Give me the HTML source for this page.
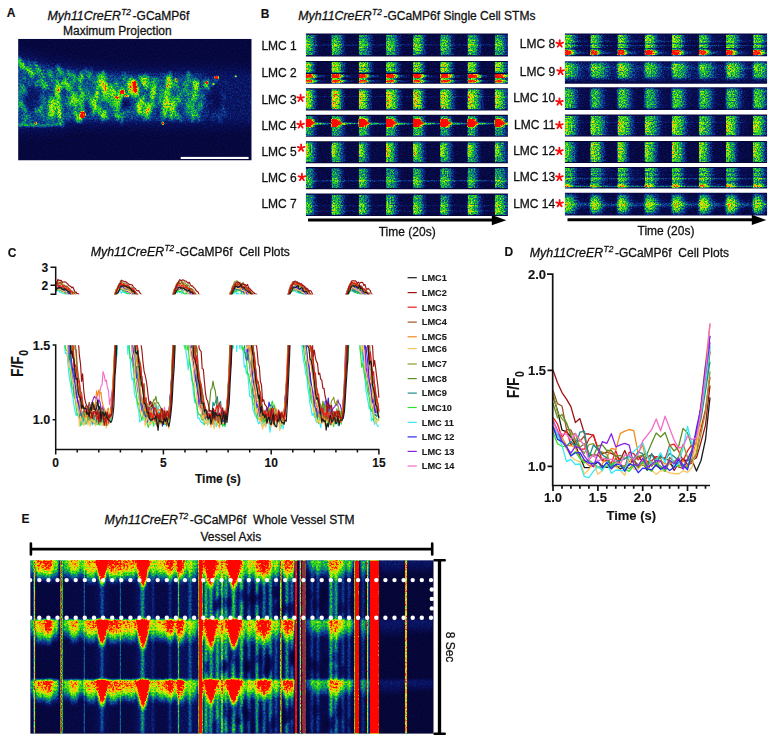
<!DOCTYPE html>
<html><head><meta charset="utf-8"><title>Figure</title>
<style>
html,body{margin:0;padding:0;background:#fff;}
svg{display:block;font-family:"Liberation Sans",sans-serif;}
text{stroke:#111;stroke-width:0.28px;}
text[font-weight="bold"]{stroke-width:0.12px;}
</style></head><body>
<svg width="781" height="751" viewBox="0 0 781 751">
<rect x="0" y="0" width="781" height="751" fill="#ffffff"/>

<defs><filter id="jetA" filterUnits="userSpaceOnUse" x="18" y="38.7" width="233.8" height="121.9" color-interpolation-filters="sRGB"><feTurbulence type="fractalNoise" baseFrequency="0.6" numOctaves="2" seed="7" result="n"/><feColorMatrix in="n" type="matrix" values="1.3 0 0 0 -0.15  1.3 0 0 0 -0.15  1.3 0 0 0 -0.15  0 0 0 0 1" result="ng"/><feComposite in="SourceGraphic" in2="ng" operator="arithmetic" k1="0.7" k2="0.65" k3="0.08" k4="-0.04" result="mix"/><feComponentTransfer in="mix" result="col"><feFuncR type="table" tableValues="0.016 0.022 0.028 0.033 0.038 0.044 0.050 0.053 0.047 0.040 0.059 0.082 0.169 0.326 0.489 0.724 0.927 0.964 1.000 1.000 1.000 1.000 1.000 1.000 1.000"/><feFuncG type="table" tableValues="0.016 0.024 0.033 0.053 0.072 0.125 0.194 0.272 0.375 0.478 0.598 0.721 0.812 0.869 0.922 0.922 0.897 0.743 0.588 0.315 0.062 0.046 0.031 0.015 0.000"/><feFuncB type="table" tableValues="0.157 0.210 0.263 0.319 0.374 0.448 0.529 0.579 0.546 0.514 0.380 0.233 0.133 0.084 0.038 0.017 0.000 0.000 0.000 0.000 0.000 0.000 0.000 0.000 0.000"/><feFuncA type="linear" slope="0" intercept="1"/></feComponentTransfer><feGaussianBlur in="col" stdDeviation="0.4" result="col2"/><feComposite in="col2" in2="SourceAlpha" operator="in"/></filter><filter id="jetB" filterUnits="userSpaceOnUse" x="300" y="30" width="470" height="190" color-interpolation-filters="sRGB"><feTurbulence type="fractalNoise" baseFrequency="0.7" numOctaves="2" seed="11" result="n"/><feColorMatrix in="n" type="matrix" values="1.3 0 0 0 -0.15  1.3 0 0 0 -0.15  1.3 0 0 0 -0.15  0 0 0 0 1" result="ng"/><feComposite in="SourceGraphic" in2="ng" operator="arithmetic" k1="0.7" k2="0.65" k3="0.16" k4="-0.08" result="mix"/><feComponentTransfer in="mix" result="col"><feFuncR type="table" tableValues="0.016 0.022 0.028 0.033 0.038 0.044 0.050 0.053 0.047 0.040 0.059 0.082 0.169 0.326 0.489 0.724 0.927 0.964 1.000 1.000 1.000 1.000 1.000 1.000 1.000"/><feFuncG type="table" tableValues="0.016 0.024 0.033 0.053 0.072 0.125 0.194 0.272 0.375 0.478 0.598 0.721 0.812 0.869 0.922 0.922 0.897 0.743 0.588 0.315 0.062 0.046 0.031 0.015 0.000"/><feFuncB type="table" tableValues="0.157 0.210 0.263 0.319 0.374 0.448 0.529 0.579 0.546 0.514 0.380 0.233 0.133 0.084 0.038 0.017 0.000 0.000 0.000 0.000 0.000 0.000 0.000 0.000 0.000"/><feFuncA type="linear" slope="0" intercept="1"/></feComponentTransfer><feGaussianBlur in="col" stdDeviation="0.45" result="col2"/><feComposite in="col2" in2="SourceAlpha" operator="in"/></filter><filter id="jetE" filterUnits="userSpaceOnUse" x="30.4" y="560.4" width="403.1" height="173.2" color-interpolation-filters="sRGB"><feTurbulence type="fractalNoise" baseFrequency="0.55" numOctaves="2" seed="5" result="n"/><feColorMatrix in="n" type="matrix" values="1.3 0 0 0 -0.15  1.3 0 0 0 -0.15  1.3 0 0 0 -0.15  0 0 0 0 1" result="ng"/><feComposite in="SourceGraphic" in2="ng" operator="arithmetic" k1="0.46" k2="0.77" k3="0.055" k4="-0.0275" result="mix"/><feComponentTransfer in="mix" result="col"><feFuncR type="table" tableValues="0.016 0.022 0.028 0.033 0.038 0.044 0.050 0.053 0.047 0.040 0.059 0.082 0.169 0.326 0.489 0.724 0.927 0.964 1.000 1.000 1.000 1.000 1.000 1.000 1.000"/><feFuncG type="table" tableValues="0.016 0.024 0.033 0.053 0.072 0.125 0.194 0.272 0.375 0.478 0.598 0.721 0.812 0.869 0.922 0.922 0.897 0.743 0.588 0.315 0.062 0.046 0.031 0.015 0.000"/><feFuncB type="table" tableValues="0.157 0.210 0.263 0.319 0.374 0.448 0.529 0.579 0.546 0.514 0.380 0.233 0.133 0.084 0.038 0.017 0.000 0.000 0.000 0.000 0.000 0.000 0.000 0.000 0.000"/><feFuncA type="linear" slope="0" intercept="1"/></feComponentTransfer><feGaussianBlur in="col" stdDeviation="0.45" result="col2"/><feComposite in="col2" in2="SourceAlpha" operator="in"/></filter><filter id="b05" x="-50%" y="-50%" width="200%" height="200%" color-interpolation-filters="sRGB"><feGaussianBlur stdDeviation="0.5"/></filter><filter id="b1" x="-50%" y="-50%" width="200%" height="200%" color-interpolation-filters="sRGB"><feGaussianBlur stdDeviation="1.0"/></filter><filter id="b15" x="-50%" y="-50%" width="200%" height="200%" color-interpolation-filters="sRGB"><feGaussianBlur stdDeviation="1.4"/></filter><filter id="b2" x="-50%" y="-50%" width="200%" height="200%" color-interpolation-filters="sRGB"><feGaussianBlur stdDeviation="2.0"/></filter><filter id="b3" x="-50%" y="-50%" width="200%" height="200%" color-interpolation-filters="sRGB"><feGaussianBlur stdDeviation="3.0"/></filter><filter id="b5" x="-50%" y="-50%" width="200%" height="200%" color-interpolation-filters="sRGB"><feGaussianBlur stdDeviation="5.0"/></filter><filter id="b8" x="-50%" y="-50%" width="200%" height="200%" color-interpolation-filters="sRGB"><feGaussianBlur stdDeviation="8.0"/></filter><linearGradient id="dec" x1="0" y1="0" x2="1" y2="0"><stop offset="0" stop-color="#fff" stop-opacity="0.0"/><stop offset="0.07" stop-color="#fff" stop-opacity="1"/><stop offset="0.50" stop-color="#fff" stop-opacity="0.88"/><stop offset="0.72" stop-color="#fff" stop-opacity="0.45"/><stop offset="1" stop-color="#fff" stop-opacity="0"/></linearGradient><linearGradient id="decv" x1="0" y1="0" x2="0" y2="1"><stop offset="0" stop-color="#fff" stop-opacity="0.0"/><stop offset="0.06" stop-color="#fff" stop-opacity="1"/><stop offset="0.45" stop-color="#fff" stop-opacity="0.85"/><stop offset="0.75" stop-color="#fff" stop-opacity="0.40"/><stop offset="1" stop-color="#fff" stop-opacity="0"/></linearGradient><linearGradient id="hotv" x1="0" y1="0" x2="0" y2="1"><stop offset="0" stop-color="#fff" stop-opacity="0.0"/><stop offset="0.05" stop-color="#fff" stop-opacity="1"/><stop offset="0.72" stop-color="#fff" stop-opacity="1"/><stop offset="1" stop-color="#fff" stop-opacity="0.35"/></linearGradient></defs>
<text x="6.7" y="17.2" font-size="12" font-weight="bold" font-style="normal" text-anchor="start" fill="#111" >A</text>
<text x="47.5" y="20" font-size="12" font-weight="normal" font-style="italic" text-anchor="start" fill="#111" textLength="73.4" lengthAdjust="spacingAndGlyphs">Myh11CreER</text><text x="121.3" y="15.2" font-size="8.3" font-weight="normal" font-style="italic" text-anchor="start" fill="#111" >T2</text><text x="132.6" y="20" font-size="12" font-weight="normal" font-style="normal" text-anchor="start" fill="#111" >-GCaMP6f</text>
<text x="63" y="34.5" font-size="12" font-weight="normal" font-style="normal" text-anchor="start" fill="#111" >Maximum Projection</text>
<clipPath id="aclip"><rect x="18.1" y="38.8" width="233.6" height="121.7"/></clipPath><g clip-path="url(#aclip)"><g filter="url(#jetA)"><rect x="18.1" y="38.8" width="233.6" height="121.7" fill="#121212"/><g filter="url(#b5)"><polygon points="10.0,45.8 22.6,49.3 35.2,52.8 47.8,56.4 60.4,58.5 73.0,60.3 85.6,62.0 98.2,62.7 110.8,63.4 123.4,64.1 136.0,64.8 148.6,64.9 161.2,64.6 173.8,64.4 186.4,64.2 199.0,64.0 211.6,64.4 224.2,64.9 236.8,65.4 249.4,65.9 262.0,66.0 262.0,129.0 249.4,129.1 236.8,129.3 224.2,129.5 211.6,129.8 199.0,130.0 186.4,130.0 173.8,130.0 161.2,130.0 148.6,130.0 136.0,130.0 123.4,130.0 110.8,130.0 98.2,130.0 85.6,130.0 73.0,130.0 60.4,133.8 47.8,134.3 35.2,134.6 22.6,134.9 10.0,135.2" fill="#fff" opacity="0.065"/></g><g filter="url(#b3)"><polygon points="10.0,52.8 22.6,56.3 35.2,59.8 47.8,63.4 60.4,65.5 73.0,67.3 85.6,69.0 98.2,69.7 110.8,70.4 123.4,71.1 136.0,71.8 148.6,71.9 161.2,71.6 173.8,71.4 186.4,71.2 199.0,71.0 211.6,71.4 224.2,71.9 236.8,72.4 249.4,72.9 262.0,73.0 262.0,122.0 249.4,122.0 236.8,122.3 224.2,122.5 211.6,122.8 199.0,123.0 186.4,123.0 173.8,123.0 161.2,123.0 148.6,123.0 136.0,123.0 123.4,123.0 110.8,123.0 98.2,123.0 85.6,123.0 73.0,123.0 60.4,126.8 47.8,127.3 35.2,127.6 22.6,127.9 10.0,128.2" fill="#fff" opacity="0.055"/><polygon points="10.0,55.8 19.6,58.5 29.3,61.2 39.0,63.9 48.6,66.6 58.2,68.2 67.9,69.6 77.5,70.9 87.2,72.1 96.8,72.6 106.5,73.2 116.2,73.7 125.8,74.2 135.4,74.8 145.1,74.9 154.8,74.8 164.4,74.6 174.1,74.4 183.7,74.3 193.3,74.1 203.0,74.1 203.0,119.9 193.3,120.0 183.7,120.0 174.1,120.0 164.4,120.0 154.8,120.0 145.1,120.0 135.4,120.0 125.8,120.0 116.2,120.0 106.5,120.0 96.8,120.0 87.2,120.0 77.5,120.0 67.9,120.8 58.2,124.0 48.6,124.3 39.0,124.5 29.3,124.7 19.6,125.0 10.0,125.2" fill="#fff" opacity="0.13"/><polygon points="40.0,67.2 47.9,69.4 55.8,70.8 63.7,72.0 71.6,73.1 79.5,74.2 87.4,75.1 95.3,75.6 103.2,76.0 111.1,76.4 119.0,76.9 126.9,77.3 134.8,77.7 142.7,78.0 150.6,77.8 158.5,77.7 166.4,77.6 174.3,77.4 182.2,77.3 190.1,77.2 198.0,77.0 198.0,117.0 190.1,117.0 182.2,117.0 174.3,117.0 166.4,117.0 158.5,117.0 150.6,117.0 142.7,117.0 134.8,117.0 126.9,117.0 119.0,117.0 111.1,117.0 103.2,117.0 95.3,117.0 87.4,117.0 79.5,117.0 71.6,117.0 63.7,119.5 55.8,121.1 47.9,121.3 40.0,121.5" fill="#fff" opacity="0.04"/></g><g filter="url(#b1)"><ellipse cx="148.8" cy="108.3" rx="2.3" ry="6.7" transform="rotate(20 148.8 108.3)" fill="#fff" opacity="0.23"/><ellipse cx="24.1" cy="90.0" rx="2.0" ry="7.5" transform="rotate(-28 24.1 90.0)" fill="#fff" opacity="0.25"/><ellipse cx="116.5" cy="85.1" rx="1.9" ry="3.1" transform="rotate(-22 116.5 85.1)" fill="#fff" opacity="0.19"/><ellipse cx="76.7" cy="115.9" rx="1.4" ry="7.0" transform="rotate(-27 76.7 115.9)" fill="#fff" opacity="0.22"/><ellipse cx="147.7" cy="80.6" rx="2.2" ry="4.0" transform="rotate(-22 147.7 80.6)" fill="#fff" opacity="0.10"/><ellipse cx="224.3" cy="113.8" rx="2.4" ry="5.7" transform="rotate(6 224.3 113.8)" fill="#fff" opacity="0.05"/><ellipse cx="61.0" cy="120.4" rx="2.4" ry="7.5" transform="rotate(-17 61.0 120.4)" fill="#fff" opacity="0.21"/><ellipse cx="93.8" cy="80.4" rx="1.3" ry="4.5" transform="rotate(1 93.8 80.4)" fill="#fff" opacity="0.12"/><ellipse cx="18.7" cy="103.5" rx="1.6" ry="7.1" transform="rotate(-6 18.7 103.5)" fill="#fff" opacity="0.15"/><ellipse cx="84.3" cy="95.0" rx="1.3" ry="7.9" transform="rotate(-34 84.3 95.0)" fill="#fff" opacity="0.21"/><ellipse cx="175.5" cy="112.9" rx="2.1" ry="4.8" transform="rotate(-0 175.5 112.9)" fill="#fff" opacity="0.10"/><ellipse cx="19.9" cy="61.6" rx="2.3" ry="4.0" transform="rotate(10 19.9 61.6)" fill="#fff" opacity="0.13"/><ellipse cx="213.2" cy="117.1" rx="1.6" ry="5.6" transform="rotate(12 213.2 117.1)" fill="#fff" opacity="0.10"/><ellipse cx="40.7" cy="109.3" rx="2.2" ry="3.2" transform="rotate(22 40.7 109.3)" fill="#fff" opacity="0.23"/><ellipse cx="37.1" cy="84.2" rx="2.3" ry="4.7" transform="rotate(20 37.1 84.2)" fill="#fff" opacity="0.20"/><ellipse cx="132.5" cy="88.8" rx="1.4" ry="3.4" transform="rotate(-26 132.5 88.8)" fill="#fff" opacity="0.15"/><ellipse cx="162.7" cy="119.9" rx="1.3" ry="7.9" transform="rotate(-3 162.7 119.9)" fill="#fff" opacity="0.13"/><ellipse cx="103.2" cy="84.2" rx="2.2" ry="5.3" transform="rotate(-10 103.2 84.2)" fill="#fff" opacity="0.20"/><ellipse cx="29.7" cy="119.4" rx="1.8" ry="7.2" transform="rotate(-27 29.7 119.4)" fill="#fff" opacity="0.11"/><ellipse cx="171.6" cy="117.7" rx="2.1" ry="3.5" transform="rotate(-9 171.6 117.7)" fill="#fff" opacity="0.20"/><ellipse cx="49.3" cy="115.3" rx="1.7" ry="8.0" transform="rotate(16 49.3 115.3)" fill="#fff" opacity="0.15"/><ellipse cx="223.0" cy="95.1" rx="2.1" ry="5.4" transform="rotate(-18 223.0 95.1)" fill="#fff" opacity="0.07"/><ellipse cx="102.8" cy="79.9" rx="2.4" ry="7.8" transform="rotate(3 102.8 79.9)" fill="#fff" opacity="0.16"/><ellipse cx="122.9" cy="89.6" rx="1.5" ry="6.9" transform="rotate(17 122.9 89.6)" fill="#fff" opacity="0.11"/><ellipse cx="93.9" cy="109.8" rx="2.0" ry="6.3" transform="rotate(11 93.9 109.8)" fill="#fff" opacity="0.22"/><ellipse cx="94.3" cy="106.0" rx="1.8" ry="6.8" transform="rotate(6 94.3 106.0)" fill="#fff" opacity="0.14"/><ellipse cx="79.7" cy="117.3" rx="1.9" ry="3.1" transform="rotate(-2 79.7 117.3)" fill="#fff" opacity="0.20"/><ellipse cx="70.6" cy="103.6" rx="2.2" ry="6.2" transform="rotate(13 70.6 103.6)" fill="#fff" opacity="0.17"/><ellipse cx="91.1" cy="103.0" rx="2.2" ry="4.8" transform="rotate(16 91.1 103.0)" fill="#fff" opacity="0.22"/><ellipse cx="200.7" cy="105.7" rx="2.3" ry="5.6" transform="rotate(-3 200.7 105.7)" fill="#fff" opacity="0.24"/><ellipse cx="52.9" cy="114.9" rx="1.8" ry="6.5" transform="rotate(8 52.9 114.9)" fill="#fff" opacity="0.25"/><ellipse cx="171.4" cy="82.3" rx="1.9" ry="6.3" transform="rotate(-10 171.4 82.3)" fill="#fff" opacity="0.22"/><ellipse cx="149.0" cy="109.8" rx="2.1" ry="3.1" transform="rotate(-25 149.0 109.8)" fill="#fff" opacity="0.20"/><ellipse cx="110.6" cy="103.7" rx="2.0" ry="6.2" transform="rotate(-32 110.6 103.7)" fill="#fff" opacity="0.14"/><ellipse cx="117.0" cy="84.2" rx="1.4" ry="4.6" transform="rotate(-24 117.0 84.2)" fill="#fff" opacity="0.11"/><ellipse cx="58.6" cy="70.2" rx="1.7" ry="6.1" transform="rotate(0 58.6 70.2)" fill="#fff" opacity="0.17"/><ellipse cx="67.9" cy="115.9" rx="1.7" ry="4.4" transform="rotate(-10 67.9 115.9)" fill="#fff" opacity="0.10"/><ellipse cx="42.2" cy="114.4" rx="1.2" ry="6.1" transform="rotate(-29 42.2 114.4)" fill="#fff" opacity="0.16"/><ellipse cx="132.5" cy="90.0" rx="2.3" ry="7.1" transform="rotate(-10 132.5 90.0)" fill="#fff" opacity="0.19"/><ellipse cx="188.7" cy="103.6" rx="1.4" ry="6.0" transform="rotate(-1 188.7 103.6)" fill="#fff" opacity="0.16"/><ellipse cx="219.0" cy="118.2" rx="1.6" ry="7.5" transform="rotate(-35 219.0 118.2)" fill="#fff" opacity="0.09"/><ellipse cx="40.7" cy="98.4" rx="1.4" ry="6.1" transform="rotate(18 40.7 98.4)" fill="#fff" opacity="0.20"/><ellipse cx="96.9" cy="93.1" rx="1.5" ry="7.9" transform="rotate(-12 96.9 93.1)" fill="#fff" opacity="0.14"/><ellipse cx="219.8" cy="115.7" rx="1.5" ry="7.9" transform="rotate(-5 219.8 115.7)" fill="#fff" opacity="0.09"/><ellipse cx="105.3" cy="88.1" rx="1.8" ry="4.4" transform="rotate(-6 105.3 88.1)" fill="#fff" opacity="0.26"/><ellipse cx="43.6" cy="102.0" rx="1.6" ry="6.9" transform="rotate(15 43.6 102.0)" fill="#fff" opacity="0.17"/><ellipse cx="20.8" cy="94.0" rx="2.3" ry="6.9" transform="rotate(-20 20.8 94.0)" fill="#fff" opacity="0.14"/><ellipse cx="74.2" cy="78.1" rx="1.6" ry="6.0" transform="rotate(-7 74.2 78.1)" fill="#fff" opacity="0.26"/><ellipse cx="153.4" cy="102.1" rx="1.3" ry="6.8" transform="rotate(-17 153.4 102.1)" fill="#fff" opacity="0.22"/><ellipse cx="130.0" cy="89.8" rx="1.8" ry="5.3" transform="rotate(-13 130.0 89.8)" fill="#fff" opacity="0.15"/><ellipse cx="174.5" cy="101.4" rx="1.5" ry="5.3" transform="rotate(20 174.5 101.4)" fill="#fff" opacity="0.11"/><ellipse cx="204.5" cy="99.1" rx="2.1" ry="5.1" transform="rotate(-0 204.5 99.1)" fill="#fff" opacity="0.09"/><ellipse cx="166.7" cy="103.3" rx="2.3" ry="4.9" transform="rotate(-11 166.7 103.3)" fill="#fff" opacity="0.18"/><ellipse cx="196.9" cy="83.1" rx="2.2" ry="3.3" transform="rotate(15 196.9 83.1)" fill="#fff" opacity="0.15"/><ellipse cx="163.9" cy="94.3" rx="2.1" ry="7.6" transform="rotate(-26 163.9 94.3)" fill="#fff" opacity="0.15"/><ellipse cx="118.5" cy="99.2" rx="1.6" ry="3.8" transform="rotate(0 118.5 99.2)" fill="#fff" opacity="0.18"/><ellipse cx="188.5" cy="77.3" rx="2.2" ry="7.0" transform="rotate(5 188.5 77.3)" fill="#fff" opacity="0.14"/><ellipse cx="23.4" cy="106.7" rx="2.4" ry="6.5" transform="rotate(-32 23.4 106.7)" fill="#fff" opacity="0.26"/><ellipse cx="194.8" cy="84.2" rx="2.3" ry="6.6" transform="rotate(-27 194.8 84.2)" fill="#fff" opacity="0.20"/><ellipse cx="79.4" cy="116.0" rx="1.9" ry="5.1" transform="rotate(-25 79.4 116.0)" fill="#fff" opacity="0.12"/><ellipse cx="148.7" cy="76.8" rx="1.7" ry="3.4" transform="rotate(-32 148.7 76.8)" fill="#fff" opacity="0.12"/><ellipse cx="138.8" cy="108.4" rx="1.4" ry="5.2" transform="rotate(-16 138.8 108.4)" fill="#fff" opacity="0.24"/><ellipse cx="144.0" cy="97.0" rx="1.6" ry="3.3" transform="rotate(7 144.0 97.0)" fill="#fff" opacity="0.25"/><ellipse cx="49.7" cy="103.1" rx="2.3" ry="5.8" transform="rotate(2 49.7 103.1)" fill="#fff" opacity="0.18"/><ellipse cx="73.3" cy="97.7" rx="2.1" ry="5.6" transform="rotate(-27 73.3 97.7)" fill="#fff" opacity="0.14"/><ellipse cx="67.2" cy="88.6" rx="1.4" ry="6.6" transform="rotate(4 67.2 88.6)" fill="#fff" opacity="0.22"/><ellipse cx="35.9" cy="104.1" rx="1.3" ry="6.0" transform="rotate(-21 35.9 104.1)" fill="#fff" opacity="0.11"/><ellipse cx="202.2" cy="96.1" rx="2.2" ry="3.1" transform="rotate(9 202.2 96.1)" fill="#fff" opacity="0.14"/><ellipse cx="29.3" cy="70.8" rx="2.0" ry="4.1" transform="rotate(-28 29.3 70.8)" fill="#fff" opacity="0.25"/><ellipse cx="222.3" cy="104.6" rx="1.4" ry="6.1" transform="rotate(-14 222.3 104.6)" fill="#fff" opacity="0.09"/><ellipse cx="67.4" cy="86.7" rx="1.6" ry="4.9" transform="rotate(-27 67.4 86.7)" fill="#fff" opacity="0.20"/><ellipse cx="192.5" cy="103.8" rx="1.7" ry="7.3" transform="rotate(-4 192.5 103.8)" fill="#fff" opacity="0.23"/><ellipse cx="142.5" cy="100.8" rx="1.7" ry="3.5" transform="rotate(-33 142.5 100.8)" fill="#fff" opacity="0.22"/><ellipse cx="60.5" cy="70.7" rx="1.8" ry="6.8" transform="rotate(-35 60.5 70.7)" fill="#fff" opacity="0.24"/><ellipse cx="116.7" cy="114.9" rx="1.7" ry="5.3" transform="rotate(-29 116.7 114.9)" fill="#fff" opacity="0.20"/><ellipse cx="50.5" cy="76.2" rx="1.7" ry="7.4" transform="rotate(-26 50.5 76.2)" fill="#fff" opacity="0.16"/><ellipse cx="71.4" cy="83.9" rx="1.5" ry="4.2" transform="rotate(-6 71.4 83.9)" fill="#fff" opacity="0.13"/><ellipse cx="24.7" cy="119.9" rx="2.3" ry="6.4" transform="rotate(5 24.7 119.9)" fill="#fff" opacity="0.16"/><ellipse cx="117.1" cy="117.5" rx="2.0" ry="4.5" transform="rotate(5 117.1 117.5)" fill="#fff" opacity="0.12"/><ellipse cx="171.2" cy="81.9" rx="1.2" ry="4.2" transform="rotate(-30 171.2 81.9)" fill="#fff" opacity="0.13"/><ellipse cx="102.2" cy="118.8" rx="1.6" ry="5.3" transform="rotate(-18 102.2 118.8)" fill="#fff" opacity="0.16"/><ellipse cx="171.8" cy="107.2" rx="1.5" ry="6.4" transform="rotate(21 171.8 107.2)" fill="#fff" opacity="0.13"/><ellipse cx="153.6" cy="94.2" rx="1.2" ry="3.3" transform="rotate(12 153.6 94.2)" fill="#fff" opacity="0.26"/><ellipse cx="104.1" cy="75.2" rx="2.4" ry="5.6" transform="rotate(-14 104.1 75.2)" fill="#fff" opacity="0.19"/><ellipse cx="37.7" cy="67.9" rx="1.8" ry="7.7" transform="rotate(-32 37.7 67.9)" fill="#fff" opacity="0.24"/><ellipse cx="69.1" cy="72.3" rx="1.3" ry="4.3" transform="rotate(-11 69.1 72.3)" fill="#fff" opacity="0.16"/><ellipse cx="82.2" cy="74.1" rx="2.4" ry="3.9" transform="rotate(-4 82.2 74.1)" fill="#fff" opacity="0.11"/><ellipse cx="102.5" cy="98.0" rx="1.6" ry="3.5" transform="rotate(-2 102.5 98.0)" fill="#fff" opacity="0.11"/><ellipse cx="211.5" cy="101.6" rx="1.5" ry="3.1" transform="rotate(-3 211.5 101.6)" fill="#fff" opacity="0.16"/><ellipse cx="120.2" cy="100.3" rx="2.0" ry="6.6" transform="rotate(20 120.2 100.3)" fill="#fff" opacity="0.16"/><ellipse cx="82.6" cy="93.4" rx="1.5" ry="3.6" transform="rotate(-16 82.6 93.4)" fill="#fff" opacity="0.23"/><ellipse cx="36.4" cy="110.6" rx="1.6" ry="3.6" transform="rotate(-30 36.4 110.6)" fill="#fff" opacity="0.23"/><ellipse cx="69.4" cy="74.0" rx="1.9" ry="4.2" transform="rotate(-31 69.4 74.0)" fill="#fff" opacity="0.17"/><ellipse cx="165.1" cy="76.8" rx="1.5" ry="4.9" transform="rotate(-29 165.1 76.8)" fill="#fff" opacity="0.13"/><ellipse cx="106.3" cy="87.9" rx="1.9" ry="7.5" transform="rotate(4 106.3 87.9)" fill="#fff" opacity="0.22"/><ellipse cx="177.5" cy="100.6" rx="2.2" ry="6.3" transform="rotate(22 177.5 100.6)" fill="#fff" opacity="0.17"/><ellipse cx="170.9" cy="106.4" rx="2.2" ry="4.9" transform="rotate(-27 170.9 106.4)" fill="#fff" opacity="0.14"/><ellipse cx="31.8" cy="72.5" rx="2.0" ry="4.4" transform="rotate(-31 31.8 72.5)" fill="#fff" opacity="0.14"/><ellipse cx="178.4" cy="99.8" rx="1.3" ry="3.7" transform="rotate(-14 178.4 99.8)" fill="#fff" opacity="0.10"/><ellipse cx="198.6" cy="117.7" rx="1.5" ry="5.1" transform="rotate(-13 198.6 117.7)" fill="#fff" opacity="0.20"/><ellipse cx="87.4" cy="72.7" rx="2.2" ry="6.6" transform="rotate(-29 87.4 72.7)" fill="#fff" opacity="0.19"/><ellipse cx="129.4" cy="82.2" rx="1.7" ry="7.7" transform="rotate(13 129.4 82.2)" fill="#fff" opacity="0.21"/><ellipse cx="42.8" cy="83.8" rx="1.8" ry="5.2" transform="rotate(-9 42.8 83.8)" fill="#fff" opacity="0.25"/><ellipse cx="179.2" cy="117.1" rx="2.4" ry="6.0" transform="rotate(-29 179.2 117.1)" fill="#fff" opacity="0.19"/><ellipse cx="189.0" cy="93.4" rx="2.4" ry="3.2" transform="rotate(-0 189.0 93.4)" fill="#fff" opacity="0.11"/><ellipse cx="119.2" cy="114.5" rx="1.5" ry="4.4" transform="rotate(-23 119.2 114.5)" fill="#fff" opacity="0.16"/><ellipse cx="136.1" cy="90.9" rx="1.5" ry="4.8" transform="rotate(-20 136.1 90.9)" fill="#fff" opacity="0.22"/><ellipse cx="224.3" cy="112.4" rx="1.9" ry="5.0" transform="rotate(-26 224.3 112.4)" fill="#fff" opacity="0.08"/><ellipse cx="192.7" cy="96.6" rx="1.4" ry="3.5" transform="rotate(8 192.7 96.6)" fill="#fff" opacity="0.11"/><ellipse cx="207.0" cy="83.4" rx="1.6" ry="6.4" transform="rotate(17 207.0 83.4)" fill="#fff" opacity="0.18"/><ellipse cx="148.9" cy="111.0" rx="1.2" ry="5.6" transform="rotate(0 148.9 111.0)" fill="#fff" opacity="0.16"/><ellipse cx="56.8" cy="89.8" rx="1.2" ry="4.6" transform="rotate(-12 56.8 89.8)" fill="#fff" opacity="0.15"/><ellipse cx="118.0" cy="106.3" rx="2.4" ry="7.1" transform="rotate(20 118.0 106.3)" fill="#fff" opacity="0.16"/><ellipse cx="163.5" cy="105.0" rx="2.2" ry="4.8" transform="rotate(1 163.5 105.0)" fill="#fff" opacity="0.19"/><ellipse cx="160.7" cy="98.3" rx="1.3" ry="3.4" transform="rotate(-14 160.7 98.3)" fill="#fff" opacity="0.15"/><ellipse cx="139.9" cy="109.2" rx="1.6" ry="7.6" transform="rotate(-19 139.9 109.2)" fill="#fff" opacity="0.21"/><ellipse cx="168.4" cy="77.8" rx="2.0" ry="7.8" transform="rotate(19 168.4 77.8)" fill="#fff" opacity="0.22"/><ellipse cx="162.4" cy="112.7" rx="1.9" ry="4.0" transform="rotate(-4 162.4 112.7)" fill="#fff" opacity="0.22"/><ellipse cx="206.2" cy="85.2" rx="1.9" ry="5.0" transform="rotate(-35 206.2 85.2)" fill="#fff" opacity="0.20"/><ellipse cx="99.9" cy="81.2" rx="2.3" ry="7.6" transform="rotate(2 99.9 81.2)" fill="#fff" opacity="0.20"/><ellipse cx="99.2" cy="77.9" rx="1.9" ry="6.6" transform="rotate(-13 99.2 77.9)" fill="#fff" opacity="0.21"/><ellipse cx="204.2" cy="83.9" rx="1.5" ry="6.1" transform="rotate(19 204.2 83.9)" fill="#fff" opacity="0.13"/><ellipse cx="53.2" cy="103.3" rx="1.5" ry="3.3" transform="rotate(-1 53.2 103.3)" fill="#fff" opacity="0.22"/><ellipse cx="192.4" cy="114.4" rx="1.7" ry="5.1" transform="rotate(-3 192.4 114.4)" fill="#fff" opacity="0.22"/><ellipse cx="208.0" cy="88.1" rx="1.9" ry="7.8" transform="rotate(-24 208.0 88.1)" fill="#fff" opacity="0.11"/><ellipse cx="24.4" cy="67.3" rx="1.9" ry="3.9" transform="rotate(-24 24.4 67.3)" fill="#fff" opacity="0.19"/><ellipse cx="142.8" cy="104.1" rx="2.1" ry="3.3" transform="rotate(-6 142.8 104.1)" fill="#fff" opacity="0.21"/><ellipse cx="193.3" cy="118.0" rx="2.2" ry="6.2" transform="rotate(21 193.3 118.0)" fill="#fff" opacity="0.15"/><ellipse cx="66.1" cy="105.7" rx="1.8" ry="3.5" transform="rotate(-23 66.1 105.7)" fill="#fff" opacity="0.23"/><ellipse cx="50.9" cy="72.4" rx="1.9" ry="3.5" transform="rotate(10 50.9 72.4)" fill="#fff" opacity="0.12"/><ellipse cx="172.6" cy="111.6" rx="2.1" ry="7.6" transform="rotate(22 172.6 111.6)" fill="#fff" opacity="0.23"/><ellipse cx="149.3" cy="118.4" rx="1.3" ry="3.3" transform="rotate(-23 149.3 118.4)" fill="#fff" opacity="0.12"/><ellipse cx="96.6" cy="94.4" rx="2.1" ry="3.4" transform="rotate(-11 96.6 94.4)" fill="#fff" opacity="0.21"/><ellipse cx="132.1" cy="91.6" rx="1.9" ry="4.9" transform="rotate(6 132.1 91.6)" fill="#fff" opacity="0.12"/><ellipse cx="122.1" cy="118.3" rx="1.3" ry="6.8" transform="rotate(8 122.1 118.3)" fill="#fff" opacity="0.25"/><ellipse cx="80.1" cy="77.0" rx="1.6" ry="6.7" transform="rotate(20 80.1 77.0)" fill="#fff" opacity="0.18"/><ellipse cx="98.2" cy="86.5" rx="2.0" ry="6.9" transform="rotate(-0 98.2 86.5)" fill="#fff" opacity="0.18"/><ellipse cx="80.2" cy="87.7" rx="1.8" ry="3.3" transform="rotate(-10 80.2 87.7)" fill="#fff" opacity="0.24"/><ellipse cx="67.9" cy="103.7" rx="1.5" ry="3.5" transform="rotate(-6 67.9 103.7)" fill="#fff" opacity="0.11"/><ellipse cx="224.8" cy="99.1" rx="2.3" ry="3.5" transform="rotate(-14 224.8 99.1)" fill="#fff" opacity="0.05"/><ellipse cx="188.3" cy="74.4" rx="1.6" ry="3.1" transform="rotate(-20 188.3 74.4)" fill="#fff" opacity="0.22"/><ellipse cx="114.2" cy="91.4" rx="1.3" ry="4.1" transform="rotate(23 114.2 91.4)" fill="#fff" opacity="0.18"/><ellipse cx="111.0" cy="95.4" rx="1.5" ry="7.8" transform="rotate(6 111.0 95.4)" fill="#fff" opacity="0.11"/><ellipse cx="124.6" cy="76.6" rx="2.1" ry="5.2" transform="rotate(1 124.6 76.6)" fill="#fff" opacity="0.16"/><ellipse cx="207.5" cy="103.7" rx="1.2" ry="3.1" transform="rotate(11 207.5 103.7)" fill="#fff" opacity="0.15"/><ellipse cx="104.8" cy="114.1" rx="2.3" ry="4.9" transform="rotate(25 104.8 114.1)" fill="#fff" opacity="0.23"/><ellipse cx="176.8" cy="115.1" rx="2.1" ry="5.1" transform="rotate(23 176.8 115.1)" fill="#fff" opacity="0.12"/><ellipse cx="226.8" cy="84.7" rx="1.5" ry="5.3" transform="rotate(-18 226.8 84.7)" fill="#fff" opacity="0.05"/><ellipse cx="158.0" cy="80.3" rx="1.7" ry="3.4" transform="rotate(-12 158.0 80.3)" fill="#fff" opacity="0.13"/><ellipse cx="206.5" cy="114.6" rx="1.2" ry="7.1" transform="rotate(23 206.5 114.6)" fill="#fff" opacity="0.10"/><ellipse cx="143.8" cy="81.1" rx="2.3" ry="7.7" transform="rotate(-33 143.8 81.1)" fill="#fff" opacity="0.14"/><ellipse cx="56.8" cy="92.0" rx="2.1" ry="4.9" transform="rotate(12 56.8 92.0)" fill="#fff" opacity="0.14"/><ellipse cx="49.9" cy="96.7" rx="2.0" ry="3.5" transform="rotate(-28 49.9 96.7)" fill="#fff" opacity="0.26"/><ellipse cx="153.1" cy="91.7" rx="1.8" ry="5.9" transform="rotate(23 153.1 91.7)" fill="#fff" opacity="0.16"/><ellipse cx="68.6" cy="98.6" rx="1.9" ry="6.7" transform="rotate(-27 68.6 98.6)" fill="#fff" opacity="0.14"/><ellipse cx="119.0" cy="106.4" rx="2.1" ry="5.1" transform="rotate(-5 119.0 106.4)" fill="#fff" opacity="0.10"/><ellipse cx="146.2" cy="110.7" rx="1.8" ry="3.2" transform="rotate(-12 146.2 110.7)" fill="#fff" opacity="0.11"/><ellipse cx="90.6" cy="73.3" rx="1.7" ry="6.3" transform="rotate(20 90.6 73.3)" fill="#fff" opacity="0.15"/><ellipse cx="95.8" cy="97.7" rx="2.3" ry="7.7" transform="rotate(24 95.8 97.7)" fill="#fff" opacity="0.21"/><ellipse cx="81.4" cy="79.6" rx="1.3" ry="5.2" transform="rotate(9 81.4 79.6)" fill="#fff" opacity="0.25"/><ellipse cx="129.0" cy="92.1" rx="1.6" ry="5.8" transform="rotate(15 129.0 92.1)" fill="#fff" opacity="0.25"/><ellipse cx="47.0" cy="86.6" rx="1.9" ry="4.0" transform="rotate(-8 47.0 86.6)" fill="#fff" opacity="0.18"/><ellipse cx="30.6" cy="67.1" rx="1.4" ry="7.8" transform="rotate(-19 30.6 67.1)" fill="#fff" opacity="0.15"/><ellipse cx="75.9" cy="109.3" rx="1.5" ry="7.1" transform="rotate(3 75.9 109.3)" fill="#fff" opacity="0.22"/><ellipse cx="99.6" cy="102.5" rx="1.5" ry="7.4" transform="rotate(-9 99.6 102.5)" fill="#fff" opacity="0.14"/><ellipse cx="206.4" cy="82.3" rx="1.3" ry="6.7" transform="rotate(-1 206.4 82.3)" fill="#fff" opacity="0.10"/><ellipse cx="20.0" cy="61.4" rx="1.8" ry="7.4" transform="rotate(-33 20.0 61.4)" fill="#fff" opacity="0.23"/><ellipse cx="141.7" cy="80.3" rx="1.9" ry="6.1" transform="rotate(-22 141.7 80.3)" fill="#fff" opacity="0.22"/><ellipse cx="217.3" cy="79.7" rx="2.0" ry="3.5" transform="rotate(-31 217.3 79.7)" fill="#fff" opacity="0.06"/><ellipse cx="114.7" cy="103.7" rx="2.1" ry="3.3" transform="rotate(4 114.7 103.7)" fill="#fff" opacity="0.24"/><path d="M18,125 L40,125.5 L62,124" stroke="#fff" stroke-width="2.4" fill="none" opacity="0.32"/></g><g filter="url(#b1)"><ellipse cx="22.0" cy="66.0" rx="2.2" ry="3.5" transform="rotate(20 22.0 66.0)" fill="#fff" opacity="0.25"/><ellipse cx="27.0" cy="70.0" rx="2.0" ry="3.0" transform="rotate(0 27.0 70.0)" fill="#fff" opacity="0.20"/><ellipse cx="32.3" cy="74.8" rx="2.2" ry="3.6" transform="rotate(30 32.3 74.8)" fill="#fff" opacity="0.25"/><ellipse cx="37.5" cy="72.0" rx="2.0" ry="3.0" transform="rotate(0 37.5 72.0)" fill="#fff" opacity="0.20"/><ellipse cx="42.0" cy="77.0" rx="2.0" ry="3.2" transform="rotate(20 42.0 77.0)" fill="#fff" opacity="0.20"/><ellipse cx="24.0" cy="78.0" rx="2.0" ry="3.0" transform="rotate(0 24.0 78.0)" fill="#fff" opacity="0.12"/><ellipse cx="30.0" cy="84.0" rx="1.8" ry="3.0" transform="rotate(0 30.0 84.0)" fill="#fff" opacity="0.08"/><ellipse cx="45.0" cy="86.0" rx="1.8" ry="4.0" transform="rotate(10 45.0 86.0)" fill="#fff" opacity="0.10"/><ellipse cx="52.2" cy="107.7" rx="3.6" ry="9.5" transform="rotate(8 52.2 107.7)" fill="#fff" opacity="0.30"/><ellipse cx="58.0" cy="97.0" rx="2.6" ry="19.0" transform="rotate(-3 58.0 97.0)" fill="#fff" opacity="0.32"/><ellipse cx="63.0" cy="84.0" rx="2.4" ry="8.0" transform="rotate(35 63.0 84.0)" fill="#fff" opacity="0.30"/><ellipse cx="60.0" cy="112.0" rx="3.0" ry="7.0" transform="rotate(10 60.0 112.0)" fill="#fff" opacity="0.20"/><ellipse cx="74.7" cy="99.0" rx="3.8" ry="7.5" transform="rotate(0 74.7 99.0)" fill="#fff" opacity="0.25"/><ellipse cx="70.0" cy="88.0" rx="2.4" ry="6.0" transform="rotate(-20 70.0 88.0)" fill="#fff" opacity="0.18"/><ellipse cx="81.7" cy="104.0" rx="3.0" ry="10.0" transform="rotate(-8 81.7 104.0)" fill="#fff" opacity="0.28"/><ellipse cx="79.0" cy="120.0" rx="4.0" ry="3.5" transform="rotate(0 79.0 120.0)" fill="#fff" opacity="0.25"/><ellipse cx="100.7" cy="112.0" rx="3.0" ry="11.0" transform="rotate(-45 100.7 112.0)" fill="#fff" opacity="0.25"/><ellipse cx="93.0" cy="100.0" rx="2.2" ry="8.0" transform="rotate(-40 93.0 100.0)" fill="#fff" opacity="0.12"/><ellipse cx="88.0" cy="92.0" rx="2.0" ry="7.0" transform="rotate(-30 88.0 92.0)" fill="#fff" opacity="0.10"/><ellipse cx="105.0" cy="91.3" rx="3.6" ry="10.5" transform="rotate(-10 105.0 91.3)" fill="#fff" opacity="0.30"/><ellipse cx="112.8" cy="94.0" rx="3.4" ry="10.5" transform="rotate(-15 112.8 94.0)" fill="#fff" opacity="0.28"/><ellipse cx="119.0" cy="98.0" rx="2.4" ry="8.0" transform="rotate(-15 119.0 98.0)" fill="#fff" opacity="0.18"/><ellipse cx="122.0" cy="92.0" rx="4.0" ry="5.0" transform="rotate(0 122.0 92.0)" fill="#fff" opacity="0.25"/><ellipse cx="130.0" cy="84.0" rx="3.0" ry="6.0" transform="rotate(0 130.0 84.0)" fill="#fff" opacity="0.22"/><ellipse cx="135.0" cy="88.0" rx="4.2" ry="9.5" transform="rotate(-8 135.0 88.0)" fill="#fff" opacity="0.36"/><ellipse cx="127.0" cy="108.0" rx="2.5" ry="5.0" transform="rotate(0 127.0 108.0)" fill="#fff" opacity="0.10"/><ellipse cx="139.5" cy="106.0" rx="2.8" ry="9.5" transform="rotate(5 139.5 106.0)" fill="#fff" opacity="0.28"/><ellipse cx="145.6" cy="81.7" rx="3.2" ry="8.5" transform="rotate(-5 145.6 81.7)" fill="#fff" opacity="0.25"/><ellipse cx="146.4" cy="111.2" rx="3.2" ry="9.5" transform="rotate(5 146.4 111.2)" fill="#fff" opacity="0.28"/><ellipse cx="153.4" cy="88.7" rx="3.2" ry="11.0" transform="rotate(5 153.4 88.7)" fill="#fff" opacity="0.25"/><ellipse cx="152.0" cy="104.0" rx="2.2" ry="6.0" transform="rotate(0 152.0 104.0)" fill="#fff" opacity="0.12"/><ellipse cx="160.0" cy="96.0" rx="2.0" ry="9.0" transform="rotate(5 160.0 96.0)" fill="#fff" opacity="0.12"/><ellipse cx="167.2" cy="97.0" rx="3.2" ry="22.0" transform="rotate(6 167.2 97.0)" fill="#fff" opacity="0.32"/><ellipse cx="172.4" cy="104.3" rx="2.6" ry="9.0" transform="rotate(8 172.4 104.3)" fill="#fff" opacity="0.22"/><ellipse cx="176.0" cy="84.0" rx="2.4" ry="6.0" transform="rotate(0 176.0 84.0)" fill="#fff" opacity="0.16"/><ellipse cx="180.0" cy="96.0" rx="2.2" ry="7.0" transform="rotate(0 180.0 96.0)" fill="#fff" opacity="0.12"/><ellipse cx="186.0" cy="88.0" rx="3.0" ry="8.0" transform="rotate(0 186.0 88.0)" fill="#fff" opacity="0.15"/><ellipse cx="188.0" cy="108.0" rx="3.0" ry="8.0" transform="rotate(0 188.0 108.0)" fill="#fff" opacity="0.12"/><ellipse cx="195.8" cy="90.4" rx="3.6" ry="11.5" transform="rotate(3 195.8 90.4)" fill="#fff" opacity="0.26"/><ellipse cx="196.0" cy="112.0" rx="3.0" ry="6.0" transform="rotate(0 196.0 112.0)" fill="#fff" opacity="0.10"/><ellipse cx="204.0" cy="90.0" rx="3.0" ry="6.0" transform="rotate(0 204.0 90.0)" fill="#fff" opacity="0.06"/><ellipse cx="210.0" cy="84.0" rx="3.0" ry="4.0" transform="rotate(0 210.0 84.0)" fill="#fff" opacity="0.10"/><ellipse cx="215.0" cy="80.0" rx="3.5" ry="3.0" transform="rotate(0 215.0 80.0)" fill="#fff" opacity="0.12"/><ellipse cx="207.0" cy="112.0" rx="4.0" ry="5.0" transform="rotate(0 207.0 112.0)" fill="#fff" opacity="0.00"/><ellipse cx="220.0" cy="108.0" rx="4.0" ry="5.0" transform="rotate(0 220.0 108.0)" fill="#fff" opacity="0.00"/></g><g filter="url(#b2)"><ellipse cx="33.0" cy="98.0" rx="9.0" ry="13.0" transform="rotate(10 33.0 98.0)" fill="#000" opacity="0.36"/><ellipse cx="125.8" cy="104.0" rx="4.5" ry="5.5" transform="rotate(0 125.8 104.0)" fill="#000" opacity="0.65"/><ellipse cx="65.5" cy="93.0" rx="2.2" ry="3.5" transform="rotate(0 65.5 93.0)" fill="#000" opacity="0.50"/><ellipse cx="66.0" cy="107.0" rx="2.4" ry="4.0" transform="rotate(0 66.0 107.0)" fill="#000" opacity="0.50"/><ellipse cx="87.0" cy="108.0" rx="3.0" ry="6.0" transform="rotate(-30 87.0 108.0)" fill="#000" opacity="0.40"/><ellipse cx="48.0" cy="95.0" rx="3.0" ry="6.0" transform="rotate(0 48.0 95.0)" fill="#000" opacity="0.35"/><ellipse cx="215.0" cy="100.0" rx="8.0" ry="9.0" transform="rotate(0 215.0 100.0)" fill="#000" opacity="0.25"/><ellipse cx="158.0" cy="112.0" rx="3.0" ry="5.0" transform="rotate(0 158.0 112.0)" fill="#000" opacity="0.35"/><ellipse cx="180.0" cy="112.0" rx="3.0" ry="5.0" transform="rotate(0 180.0 112.0)" fill="#000" opacity="0.30"/></g><g filter="url(#b05)"><ellipse cx="82.5" cy="114.6" rx="3.0" ry="3.4" transform="rotate(0 82.5 114.6)" fill="#fff" opacity="0.95"/><ellipse cx="58.5" cy="90.0" rx="1.2" ry="1.6" transform="rotate(0 58.5 90.0)" fill="#fff" opacity="0.70"/><ellipse cx="35.8" cy="123.3" rx="1.3" ry="1.3" transform="rotate(0 35.8 123.3)" fill="#fff" opacity="0.70"/><ellipse cx="122.3" cy="92.1" rx="2.6" ry="2.2" transform="rotate(0 122.3 92.1)" fill="#fff" opacity="0.95"/><ellipse cx="117.0" cy="97.5" rx="2.0" ry="1.4" transform="rotate(0 117.0 97.5)" fill="#fff" opacity="0.80"/><ellipse cx="126.5" cy="96.0" rx="2.2" ry="1.2" transform="rotate(0 126.5 96.0)" fill="#fff" opacity="0.75"/><ellipse cx="135.0" cy="87.0" rx="2.0" ry="5.8" transform="rotate(-8 135.0 87.0)" fill="#fff" opacity="0.92"/><ellipse cx="134.0" cy="83.0" rx="1.8" ry="2.5" transform="rotate(0 134.0 83.0)" fill="#fff" opacity="0.80"/><ellipse cx="162.9" cy="123.3" rx="1.2" ry="1.8" transform="rotate(0 162.9 123.3)" fill="#fff" opacity="0.75"/><ellipse cx="175.9" cy="80.0" rx="1.2" ry="1.4" transform="rotate(0 175.9 80.0)" fill="#fff" opacity="0.70"/><ellipse cx="168.0" cy="86.0" rx="1.2" ry="2.2" transform="rotate(0 168.0 86.0)" fill="#fff" opacity="0.55"/><ellipse cx="216.6" cy="77.4" rx="2.3" ry="1.6" transform="rotate(0 216.6 77.4)" fill="#fff" opacity="0.95"/><ellipse cx="207.0" cy="82.6" rx="1.6" ry="1.4" transform="rotate(0 207.0 82.6)" fill="#fff" opacity="0.90"/><ellipse cx="235.6" cy="76.5" rx="1.0" ry="1.0" transform="rotate(0 235.6 76.5)" fill="#fff" opacity="0.70"/><ellipse cx="213.5" cy="84.0" rx="1.2" ry="1.2" transform="rotate(0 213.5 84.0)" fill="#fff" opacity="0.60"/></g></g></g><rect x="180.7" y="156.9" width="67.9" height="2.1" fill="#fff"/>
<text x="260.8" y="17.6" font-size="12" font-weight="bold" font-style="normal" text-anchor="start" fill="#111" >B</text>
<text x="298.3" y="19.7" font-size="12" font-weight="normal" font-style="italic" text-anchor="start" fill="#111" textLength="73.4" lengthAdjust="spacingAndGlyphs">Myh11CreER</text><text x="372.1" y="14.899999999999999" font-size="8.3" font-weight="normal" font-style="italic" text-anchor="start" fill="#111" >T2</text><text x="383.4" y="19.7" font-size="12" font-weight="normal" font-style="normal" text-anchor="start" fill="#111" >-GCaMP6f Single Cell STMs</text>
<clipPath id="bclip"><rect x="305.9" y="33.6" width="202.0" height="22.8"/><rect x="305.9" y="61.0" width="202.0" height="22.7"/><rect x="305.9" y="88.2" width="202.0" height="22.4"/><rect x="305.9" y="114.8" width="202.0" height="22.0"/><rect x="305.9" y="141.2" width="202.0" height="22.1"/><rect x="305.9" y="167.1" width="202.0" height="22.2"/><rect x="305.9" y="193.4" width="202.0" height="22.5"/><rect x="564.9" y="33.6" width="202.2" height="22.6"/><rect x="564.9" y="61.3" width="202.2" height="22.4"/><rect x="564.9" y="87.3" width="202.2" height="22.6"/><rect x="564.9" y="114.6" width="202.2" height="22.0"/><rect x="564.9" y="140.9" width="202.2" height="22.2"/><rect x="564.9" y="166.9" width="202.2" height="21.6"/><rect x="564.9" y="192.8" width="202.2" height="22.6"/></clipPath><g clip-path="url(#bclip)"><g filter="url(#jetB)"><g filter="url(#b05)"><rect x="303.9" y="31.6" width="206.0" height="26.8" fill="#171717"/><rect x="305.9" y="44.4" width="202.0" height="1.2" fill="#fff" opacity="0.16"/><rect x="303.9" y="34.5" width="15.5" height="21.0" fill="url(#dec)" opacity="0.38"/><rect x="303.9" y="39.3" width="9.9" height="11.4" fill="url(#dec)" opacity="0.15"/><rect x="331.1" y="34.5" width="15.8" height="21.0" fill="url(#dec)" opacity="0.40"/><rect x="331.1" y="39.3" width="9.2" height="11.4" fill="url(#dec)" opacity="0.16"/><rect x="358.3" y="34.5" width="16.6" height="21.0" fill="url(#dec)" opacity="0.36"/><rect x="358.3" y="39.3" width="9.6" height="11.4" fill="url(#dec)" opacity="0.14"/><rect x="385.5" y="34.5" width="17.2" height="21.0" fill="url(#dec)" opacity="0.38"/><rect x="385.5" y="39.3" width="10.2" height="11.4" fill="url(#dec)" opacity="0.15"/><rect x="412.7" y="34.5" width="15.3" height="21.0" fill="url(#dec)" opacity="0.42"/><rect x="412.7" y="39.3" width="10.6" height="11.4" fill="url(#dec)" opacity="0.17"/><rect x="439.9" y="34.5" width="15.9" height="21.0" fill="url(#dec)" opacity="0.37"/><rect x="439.9" y="39.3" width="11.2" height="11.4" fill="url(#dec)" opacity="0.15"/><rect x="467.1" y="34.5" width="16.3" height="21.0" fill="url(#dec)" opacity="0.40"/><rect x="467.1" y="39.3" width="10.7" height="11.4" fill="url(#dec)" opacity="0.16"/><rect x="494.3" y="34.5" width="16.3" height="21.0" fill="url(#dec)" opacity="0.36"/><rect x="494.3" y="39.3" width="10.5" height="11.4" fill="url(#dec)" opacity="0.15"/><rect x="305.9" y="33.6" width="202.0" height="1.1" fill="#000" opacity="0.55"/><rect x="305.9" y="55.3" width="202.0" height="1.1" fill="#000" opacity="0.55"/><rect x="303.9" y="59.0" width="206.0" height="26.7" fill="#171717"/><rect x="303.9" y="61.7" width="13.6" height="11.1" fill="url(#dec)" opacity="0.48"/><rect x="303.9" y="63.3" width="10.0" height="6.8" fill="url(#dec)" opacity="0.13"/><rect x="303.9" y="73.9" width="14.3" height="4.8" fill="url(#dec)" opacity="0.91"/><rect x="303.9" y="79.2" width="15.1" height="4.3" fill="url(#dec)" opacity="0.81"/><rect x="307.9" y="75.0" width="22" height="2.4" fill="url(#dec)" opacity="0.25"/><rect x="307.9" y="80.0" width="22" height="2.4" fill="url(#dec)" opacity="0.2"/><rect x="331.1" y="61.7" width="16.2" height="11.1" fill="url(#dec)" opacity="0.53"/><rect x="331.1" y="63.3" width="10.2" height="6.8" fill="url(#dec)" opacity="0.15"/><rect x="331.1" y="73.9" width="14.0" height="4.8" fill="url(#dec)" opacity="1.00"/><rect x="331.1" y="79.2" width="15.4" height="4.3" fill="url(#dec)" opacity="0.90"/><rect x="335.1" y="75.0" width="22" height="2.4" fill="url(#dec)" opacity="0.25"/><rect x="335.1" y="80.0" width="22" height="2.4" fill="url(#dec)" opacity="0.2"/><rect x="358.3" y="61.7" width="17.0" height="11.1" fill="url(#dec)" opacity="0.49"/><rect x="358.3" y="63.3" width="10.1" height="6.8" fill="url(#dec)" opacity="0.14"/><rect x="358.3" y="73.9" width="12.9" height="4.8" fill="url(#dec)" opacity="0.93"/><rect x="358.3" y="79.2" width="13.1" height="4.3" fill="url(#dec)" opacity="0.83"/><rect x="362.3" y="75.0" width="22" height="2.4" fill="url(#dec)" opacity="0.25"/><rect x="362.3" y="80.0" width="22" height="2.4" fill="url(#dec)" opacity="0.2"/><rect x="385.5" y="61.7" width="17.1" height="11.1" fill="url(#dec)" opacity="0.47"/><rect x="385.5" y="63.3" width="9.1" height="6.8" fill="url(#dec)" opacity="0.13"/><rect x="385.5" y="73.9" width="14.8" height="4.8" fill="url(#dec)" opacity="0.89"/><rect x="385.5" y="79.2" width="13.7" height="4.3" fill="url(#dec)" opacity="0.80"/><rect x="389.5" y="75.0" width="22" height="2.4" fill="url(#dec)" opacity="0.25"/><rect x="389.5" y="80.0" width="22" height="2.4" fill="url(#dec)" opacity="0.2"/><rect x="412.7" y="61.7" width="14.9" height="11.1" fill="url(#dec)" opacity="0.50"/><rect x="412.7" y="63.3" width="8.9" height="6.8" fill="url(#dec)" opacity="0.14"/><rect x="412.7" y="73.9" width="14.6" height="4.8" fill="url(#dec)" opacity="0.94"/><rect x="412.7" y="79.2" width="14.6" height="4.3" fill="url(#dec)" opacity="0.84"/><rect x="416.7" y="75.0" width="22" height="2.4" fill="url(#dec)" opacity="0.25"/><rect x="416.7" y="80.0" width="22" height="2.4" fill="url(#dec)" opacity="0.2"/><rect x="439.9" y="61.7" width="16.1" height="11.1" fill="url(#dec)" opacity="0.53"/><rect x="439.9" y="63.3" width="10.2" height="6.8" fill="url(#dec)" opacity="0.15"/><rect x="439.9" y="73.9" width="15.6" height="4.8" fill="url(#dec)" opacity="1.00"/><rect x="439.9" y="79.2" width="16.1" height="4.3" fill="url(#dec)" opacity="0.90"/><rect x="443.9" y="75.0" width="22" height="2.4" fill="url(#dec)" opacity="0.25"/><rect x="443.9" y="80.0" width="22" height="2.4" fill="url(#dec)" opacity="0.2"/><rect x="467.1" y="61.7" width="14.1" height="11.1" fill="url(#dec)" opacity="0.51"/><rect x="467.1" y="63.3" width="10.0" height="6.8" fill="url(#dec)" opacity="0.14"/><rect x="467.1" y="73.9" width="16.0" height="4.8" fill="url(#dec)" opacity="0.97"/><rect x="467.1" y="79.2" width="15.8" height="4.3" fill="url(#dec)" opacity="0.87"/><rect x="471.1" y="75.0" width="22" height="2.4" fill="url(#dec)" opacity="0.25"/><rect x="471.1" y="80.0" width="22" height="2.4" fill="url(#dec)" opacity="0.2"/><rect x="494.3" y="61.7" width="16.2" height="11.1" fill="url(#dec)" opacity="0.50"/><rect x="494.3" y="63.3" width="8.6" height="6.8" fill="url(#dec)" opacity="0.14"/><rect x="494.3" y="73.9" width="15.5" height="4.8" fill="url(#dec)" opacity="0.95"/><rect x="494.3" y="79.2" width="14.6" height="4.3" fill="url(#dec)" opacity="0.85"/><rect x="498.3" y="75.0" width="22" height="2.4" fill="url(#dec)" opacity="0.25"/><rect x="498.3" y="80.0" width="22" height="2.4" fill="url(#dec)" opacity="0.2"/><rect x="305.9" y="72.8" width="202.0" height="1.2" fill="#000" opacity="0.7"/><rect x="305.9" y="78.5" width="202.0" height="0.9" fill="#000" opacity="0.5"/><rect x="305.9" y="66.9" width="202.0" height="0.9" fill="#000" opacity="0.25"/><rect x="305.9" y="61.0" width="202.0" height="1.1" fill="#000" opacity="0.55"/><rect x="305.9" y="82.6" width="202.0" height="1.1" fill="#000" opacity="0.55"/><rect x="303.9" y="86.2" width="206.0" height="26.4" fill="#171717"/><rect x="305.9" y="96.2" width="202.0" height="1.0" fill="#fff" opacity="0.12"/><rect x="303.9" y="89.1" width="14.7" height="20.6" fill="url(#dec)" opacity="0.46"/><rect x="303.9" y="91.6" width="8.9" height="15.7" fill="url(#dec)" opacity="0.25"/><rect x="331.1" y="89.1" width="14.8" height="20.6" fill="url(#dec)" opacity="0.52"/><rect x="331.1" y="91.6" width="8.8" height="15.7" fill="url(#dec)" opacity="0.28"/><rect x="358.3" y="89.1" width="15.0" height="20.6" fill="url(#dec)" opacity="0.47"/><rect x="358.3" y="91.6" width="7.8" height="15.7" fill="url(#dec)" opacity="0.25"/><rect x="385.5" y="89.1" width="17.9" height="20.6" fill="url(#dec)" opacity="0.50"/><rect x="385.5" y="91.6" width="7.3" height="15.7" fill="url(#dec)" opacity="0.27"/><rect x="412.7" y="89.1" width="14.6" height="20.6" fill="url(#dec)" opacity="0.49"/><rect x="412.7" y="91.6" width="8.6" height="15.7" fill="url(#dec)" opacity="0.26"/><rect x="439.9" y="89.1" width="17.9" height="20.6" fill="url(#dec)" opacity="0.46"/><rect x="439.9" y="91.6" width="9.2" height="15.7" fill="url(#dec)" opacity="0.25"/><rect x="467.1" y="89.1" width="18.4" height="20.6" fill="url(#dec)" opacity="0.48"/><rect x="467.1" y="91.6" width="7.8" height="15.7" fill="url(#dec)" opacity="0.26"/><rect x="494.3" y="89.1" width="16.8" height="20.6" fill="url(#dec)" opacity="0.44"/><rect x="494.3" y="91.6" width="7.3" height="15.7" fill="url(#dec)" opacity="0.24"/><rect x="305.9" y="88.2" width="202.0" height="1.1" fill="#000" opacity="0.55"/><rect x="305.9" y="109.5" width="202.0" height="1.1" fill="#000" opacity="0.55"/><rect x="303.9" y="112.8" width="206.0" height="26.0" fill="#171717"/><rect x="305.9" y="122.8" width="202.0" height="1.6" fill="#fff" opacity="0.26"/><rect x="303.9" y="115.9" width="15.0" height="20.5" fill="url(#dec)" opacity="0.37"/><rect x="303.9" y="118.8" width="11.6" height="8.4" fill="url(#dec)" opacity="0.94"/><rect x="303.9" y="119.6" width="8.5" height="6.6" fill="url(#dec)" opacity="0.75"/><rect x="307.9" y="122.4" width="22" height="2.4" fill="url(#dec)" opacity="0.34"/><rect x="331.1" y="115.9" width="16.8" height="20.5" fill="url(#dec)" opacity="0.36"/><rect x="331.1" y="118.8" width="10.8" height="8.4" fill="url(#dec)" opacity="0.91"/><rect x="331.1" y="119.6" width="10.3" height="6.6" fill="url(#dec)" opacity="0.73"/><rect x="335.1" y="122.4" width="22" height="2.4" fill="url(#dec)" opacity="0.34"/><rect x="358.3" y="115.9" width="14.9" height="20.5" fill="url(#dec)" opacity="0.42"/><rect x="358.3" y="118.8" width="11.2" height="8.4" fill="url(#dec)" opacity="1.00"/><rect x="358.3" y="119.6" width="9.3" height="6.6" fill="url(#dec)" opacity="0.85"/><rect x="362.3" y="122.4" width="22" height="2.4" fill="url(#dec)" opacity="0.34"/><rect x="385.5" y="115.9" width="15.7" height="20.5" fill="url(#dec)" opacity="0.41"/><rect x="385.5" y="118.8" width="11.4" height="8.4" fill="url(#dec)" opacity="1.00"/><rect x="385.5" y="119.6" width="9.5" height="6.6" fill="url(#dec)" opacity="0.81"/><rect x="389.5" y="122.4" width="22" height="2.4" fill="url(#dec)" opacity="0.34"/><rect x="412.7" y="115.9" width="15.4" height="20.5" fill="url(#dec)" opacity="0.43"/><rect x="412.7" y="118.8" width="11.1" height="8.4" fill="url(#dec)" opacity="1.00"/><rect x="412.7" y="119.6" width="9.7" height="6.6" fill="url(#dec)" opacity="0.86"/><rect x="416.7" y="122.4" width="22" height="2.4" fill="url(#dec)" opacity="0.34"/><rect x="439.9" y="115.9" width="14.6" height="20.5" fill="url(#dec)" opacity="0.38"/><rect x="439.9" y="118.8" width="12.6" height="8.4" fill="url(#dec)" opacity="0.94"/><rect x="439.9" y="119.6" width="9.3" height="6.6" fill="url(#dec)" opacity="0.75"/><rect x="443.9" y="122.4" width="22" height="2.4" fill="url(#dec)" opacity="0.34"/><rect x="467.1" y="115.9" width="13.5" height="20.5" fill="url(#dec)" opacity="0.40"/><rect x="467.1" y="118.8" width="11.0" height="8.4" fill="url(#dec)" opacity="1.00"/><rect x="467.1" y="119.6" width="9.4" height="6.6" fill="url(#dec)" opacity="0.80"/><rect x="471.1" y="122.4" width="22" height="2.4" fill="url(#dec)" opacity="0.34"/><rect x="494.3" y="115.9" width="15.8" height="20.5" fill="url(#dec)" opacity="0.36"/><rect x="494.3" y="118.8" width="11.6" height="8.4" fill="url(#dec)" opacity="0.90"/><rect x="494.3" y="119.6" width="8.2" height="6.6" fill="url(#dec)" opacity="0.72"/><rect x="498.3" y="122.4" width="22" height="2.4" fill="url(#dec)" opacity="0.34"/><rect x="305.9" y="114.8" width="202.0" height="1.1" fill="#000" opacity="0.55"/><rect x="305.9" y="135.7" width="202.0" height="1.1" fill="#000" opacity="0.55"/><rect x="303.9" y="139.2" width="206.0" height="26.1" fill="#171717"/><rect x="303.9" y="142.1" width="15.2" height="20.3" fill="url(#dec)" opacity="0.43"/><rect x="303.9" y="144.5" width="6.4" height="12.2" fill="url(#dec)" opacity="0.30"/><rect x="331.1" y="142.1" width="16.2" height="20.3" fill="url(#dec)" opacity="0.40"/><rect x="331.1" y="144.5" width="6.5" height="12.2" fill="url(#dec)" opacity="0.29"/><rect x="358.3" y="142.1" width="13.7" height="20.3" fill="url(#dec)" opacity="0.38"/><rect x="358.3" y="144.5" width="6.4" height="12.2" fill="url(#dec)" opacity="0.27"/><rect x="385.5" y="142.1" width="14.4" height="20.3" fill="url(#dec)" opacity="0.45"/><rect x="385.5" y="144.5" width="6.1" height="12.2" fill="url(#dec)" opacity="0.32"/><rect x="412.7" y="142.1" width="14.7" height="20.3" fill="url(#dec)" opacity="0.42"/><rect x="412.7" y="144.5" width="5.9" height="12.2" fill="url(#dec)" opacity="0.30"/><rect x="439.9" y="142.1" width="14.9" height="20.3" fill="url(#dec)" opacity="0.40"/><rect x="439.9" y="144.5" width="6.3" height="12.2" fill="url(#dec)" opacity="0.29"/><rect x="467.1" y="142.1" width="14.9" height="20.3" fill="url(#dec)" opacity="0.40"/><rect x="467.1" y="144.5" width="6.6" height="12.2" fill="url(#dec)" opacity="0.29"/><rect x="494.3" y="142.1" width="15.6" height="20.3" fill="url(#dec)" opacity="0.38"/><rect x="494.3" y="144.5" width="6.5" height="12.2" fill="url(#dec)" opacity="0.27"/><rect x="305.9" y="141.2" width="202.0" height="1.1" fill="#000" opacity="0.55"/><rect x="305.9" y="162.2" width="202.0" height="1.1" fill="#000" opacity="0.55"/><rect x="303.9" y="165.1" width="206.0" height="26.2" fill="#171717"/><rect x="305.9" y="180.3" width="202.0" height="1.2" fill="#fff" opacity="0.24"/><rect x="303.9" y="168.2" width="14.3" height="20.0" fill="url(#dec)" opacity="0.36"/><rect x="303.9" y="177.1" width="9.9" height="7.8" fill="url(#dec)" opacity="0.11"/><rect x="331.1" y="168.2" width="14.2" height="20.0" fill="url(#dec)" opacity="0.36"/><rect x="331.1" y="177.1" width="9.1" height="7.8" fill="url(#dec)" opacity="0.11"/><rect x="358.3" y="168.2" width="13.9" height="20.0" fill="url(#dec)" opacity="0.39"/><rect x="358.3" y="177.1" width="8.8" height="7.8" fill="url(#dec)" opacity="0.12"/><rect x="385.5" y="168.2" width="16.6" height="20.0" fill="url(#dec)" opacity="0.36"/><rect x="385.5" y="177.1" width="9.1" height="7.8" fill="url(#dec)" opacity="0.12"/><rect x="412.7" y="168.2" width="14.1" height="20.0" fill="url(#dec)" opacity="0.40"/><rect x="412.7" y="177.1" width="8.9" height="7.8" fill="url(#dec)" opacity="0.13"/><rect x="439.9" y="168.2" width="16.8" height="20.0" fill="url(#dec)" opacity="0.39"/><rect x="439.9" y="177.1" width="9.1" height="7.8" fill="url(#dec)" opacity="0.12"/><rect x="467.1" y="168.2" width="14.0" height="20.0" fill="url(#dec)" opacity="0.36"/><rect x="467.1" y="177.1" width="9.3" height="7.8" fill="url(#dec)" opacity="0.11"/><rect x="494.3" y="168.2" width="16.5" height="20.0" fill="url(#dec)" opacity="0.36"/><rect x="494.3" y="177.1" width="10.0" height="7.8" fill="url(#dec)" opacity="0.11"/><rect x="305.9" y="167.1" width="202.0" height="1.1" fill="#000" opacity="0.55"/><rect x="305.9" y="188.2" width="202.0" height="1.1" fill="#000" opacity="0.55"/><rect x="303.9" y="191.4" width="206.0" height="26.5" fill="#171717"/><rect x="305.9" y="205.3" width="202.0" height="1.0" fill="#fff" opacity="0.13"/><rect x="305.9" y="210.5" width="202.0" height="1.0" fill="#fff" opacity="0.13"/><rect x="303.9" y="194.5" width="14.5" height="20.9" fill="url(#dec)" opacity="0.37"/><rect x="303.9" y="202.4" width="8.8" height="11.2" fill="url(#dec)" opacity="0.17"/><rect x="331.1" y="194.5" width="16.5" height="20.9" fill="url(#dec)" opacity="0.41"/><rect x="331.1" y="202.4" width="7.9" height="11.2" fill="url(#dec)" opacity="0.18"/><rect x="358.3" y="194.5" width="14.6" height="20.9" fill="url(#dec)" opacity="0.37"/><rect x="358.3" y="202.4" width="8.8" height="11.2" fill="url(#dec)" opacity="0.17"/><rect x="385.5" y="194.5" width="14.8" height="20.9" fill="url(#dec)" opacity="0.38"/><rect x="385.5" y="202.4" width="8.0" height="11.2" fill="url(#dec)" opacity="0.17"/><rect x="412.7" y="194.5" width="15.0" height="20.9" fill="url(#dec)" opacity="0.39"/><rect x="412.7" y="202.4" width="9.0" height="11.2" fill="url(#dec)" opacity="0.18"/><rect x="439.9" y="194.5" width="13.5" height="20.9" fill="url(#dec)" opacity="0.37"/><rect x="439.9" y="202.4" width="9.1" height="11.2" fill="url(#dec)" opacity="0.17"/><rect x="467.1" y="194.5" width="17.2" height="20.9" fill="url(#dec)" opacity="0.42"/><rect x="467.1" y="202.4" width="8.1" height="11.2" fill="url(#dec)" opacity="0.19"/><rect x="494.3" y="194.5" width="17.0" height="20.9" fill="url(#dec)" opacity="0.43"/><rect x="494.3" y="202.4" width="7.6" height="11.2" fill="url(#dec)" opacity="0.19"/><rect x="305.9" y="193.4" width="202.0" height="1.1" fill="#000" opacity="0.55"/><rect x="305.9" y="214.8" width="202.0" height="1.1" fill="#000" opacity="0.55"/><rect x="562.9" y="31.6" width="206.2" height="26.6" fill="#1a1a1a"/><rect x="564.9" y="40.6" width="202.2" height="1.0" fill="#fff" opacity="0.12"/><rect x="564.9" y="44.9" width="202.2" height="1.0" fill="#fff" opacity="0.12"/><rect x="562.9" y="34.3" width="15.5" height="14.2" fill="url(#dec)" opacity="0.43"/><rect x="562.9" y="34.3" width="25.6" height="21.5" fill="url(#dec)" opacity="0.10"/><rect x="562.9" y="49.4" width="13.4" height="6.3" fill="url(#dec)" opacity="0.88"/><rect x="566.9" y="51.6" width="22" height="2.4" fill="url(#dec)" opacity="0.2"/><rect x="590.0" y="34.3" width="13.8" height="14.2" fill="url(#dec)" opacity="0.40"/><rect x="590.0" y="34.3" width="23.0" height="21.5" fill="url(#dec)" opacity="0.10"/><rect x="590.0" y="49.4" width="11.9" height="6.3" fill="url(#dec)" opacity="0.81"/><rect x="594.0" y="51.6" width="22" height="2.4" fill="url(#dec)" opacity="0.2"/><rect x="617.1" y="34.3" width="13.6" height="14.2" fill="url(#dec)" opacity="0.42"/><rect x="617.1" y="34.3" width="26.5" height="21.5" fill="url(#dec)" opacity="0.10"/><rect x="617.1" y="49.4" width="11.8" height="6.3" fill="url(#dec)" opacity="0.86"/><rect x="621.1" y="51.6" width="22" height="2.4" fill="url(#dec)" opacity="0.2"/><rect x="644.2" y="34.3" width="15.0" height="14.2" fill="url(#dec)" opacity="0.45"/><rect x="644.2" y="34.3" width="27.1" height="21.5" fill="url(#dec)" opacity="0.11"/><rect x="644.2" y="49.4" width="14.6" height="6.3" fill="url(#dec)" opacity="0.90"/><rect x="648.2" y="51.6" width="22" height="2.4" fill="url(#dec)" opacity="0.2"/><rect x="671.3" y="34.3" width="14.6" height="14.2" fill="url(#dec)" opacity="0.45"/><rect x="671.3" y="34.3" width="21.7" height="21.5" fill="url(#dec)" opacity="0.11"/><rect x="671.3" y="49.4" width="14.1" height="6.3" fill="url(#dec)" opacity="0.90"/><rect x="675.3" y="51.6" width="22" height="2.4" fill="url(#dec)" opacity="0.2"/><rect x="698.4" y="34.3" width="13.6" height="14.2" fill="url(#dec)" opacity="0.39"/><rect x="698.4" y="34.3" width="25.6" height="21.5" fill="url(#dec)" opacity="0.09"/><rect x="698.4" y="49.4" width="13.4" height="6.3" fill="url(#dec)" opacity="0.79"/><rect x="702.4" y="51.6" width="22" height="2.4" fill="url(#dec)" opacity="0.2"/><rect x="725.5" y="34.3" width="15.9" height="14.2" fill="url(#dec)" opacity="0.41"/><rect x="725.5" y="34.3" width="25.3" height="21.5" fill="url(#dec)" opacity="0.10"/><rect x="725.5" y="49.4" width="12.8" height="6.3" fill="url(#dec)" opacity="0.83"/><rect x="729.5" y="51.6" width="22" height="2.4" fill="url(#dec)" opacity="0.2"/><rect x="752.6" y="34.3" width="15.6" height="14.2" fill="url(#dec)" opacity="0.40"/><rect x="752.6" y="34.3" width="24.5" height="21.5" fill="url(#dec)" opacity="0.09"/><rect x="752.6" y="49.4" width="14.2" height="6.3" fill="url(#dec)" opacity="0.80"/><rect x="756.6" y="51.6" width="22" height="2.4" fill="url(#dec)" opacity="0.2"/><rect x="564.9" y="43.3" width="202.2" height="1.0" fill="#000" opacity="0.4"/><rect x="564.9" y="48.5" width="202.2" height="1.0" fill="#000" opacity="0.4"/><rect x="564.9" y="33.6" width="202.2" height="1.1" fill="#000" opacity="0.55"/><rect x="564.9" y="55.1" width="202.2" height="1.1" fill="#000" opacity="0.55"/><rect x="562.9" y="59.3" width="206.2" height="26.4" fill="#262626"/><g filter="url(#b1)"><rect x="564.9" y="66.5" width="202.2" height="3" fill="#fff" opacity="0.08"/><rect x="562.9" y="62.0" width="18.0" height="15.9" fill="url(#dec)" opacity="0.33"/><rect x="562.9" y="62.0" width="27.9" height="19.5" fill="url(#dec)" opacity="0.12"/><rect x="562.9" y="63.5" width="7.7" height="9.0" fill="url(#dec)" opacity="0.13"/><rect x="590.0" y="62.0" width="20.9" height="15.9" fill="url(#dec)" opacity="0.32"/><rect x="590.0" y="62.0" width="30.5" height="19.5" fill="url(#dec)" opacity="0.11"/><rect x="590.0" y="63.5" width="7.7" height="9.0" fill="url(#dec)" opacity="0.13"/><rect x="617.1" y="62.0" width="17.1" height="15.9" fill="url(#dec)" opacity="0.36"/><rect x="617.1" y="62.0" width="28.5" height="19.5" fill="url(#dec)" opacity="0.13"/><rect x="617.1" y="63.5" width="7.8" height="9.0" fill="url(#dec)" opacity="0.15"/><rect x="644.2" y="62.0" width="18.4" height="15.9" fill="url(#dec)" opacity="0.31"/><rect x="644.2" y="62.0" width="26.1" height="19.5" fill="url(#dec)" opacity="0.11"/><rect x="644.2" y="63.5" width="7.2" height="9.0" fill="url(#dec)" opacity="0.13"/><rect x="671.3" y="62.0" width="19.3" height="15.9" fill="url(#dec)" opacity="0.33"/><rect x="671.3" y="62.0" width="29.5" height="19.5" fill="url(#dec)" opacity="0.12"/><rect x="671.3" y="63.5" width="6.3" height="9.0" fill="url(#dec)" opacity="0.14"/><rect x="698.4" y="62.0" width="17.7" height="15.9" fill="url(#dec)" opacity="0.31"/><rect x="698.4" y="62.0" width="25.1" height="19.5" fill="url(#dec)" opacity="0.11"/><rect x="698.4" y="63.5" width="6.4" height="9.0" fill="url(#dec)" opacity="0.13"/><rect x="725.5" y="62.0" width="21.2" height="15.9" fill="url(#dec)" opacity="0.37"/><rect x="725.5" y="62.0" width="24.9" height="19.5" fill="url(#dec)" opacity="0.13"/><rect x="725.5" y="63.5" width="7.2" height="9.0" fill="url(#dec)" opacity="0.15"/><rect x="752.6" y="62.0" width="18.6" height="15.9" fill="url(#dec)" opacity="0.33"/><rect x="752.6" y="62.0" width="26.7" height="19.5" fill="url(#dec)" opacity="0.11"/><rect x="752.6" y="63.5" width="7.4" height="9.0" fill="url(#dec)" opacity="0.13"/><rect x="564.9" y="79.5" width="202.2" height="4.0" fill="#000" opacity="0.3"/><rect x="564.9" y="61.3" width="202.2" height="1.1" fill="#000" opacity="0.55"/><rect x="564.9" y="82.6" width="202.2" height="1.1" fill="#000" opacity="0.55"/></g><rect x="562.9" y="85.3" width="206.2" height="26.6" fill="#1a1a1a"/><g filter="url(#b1)"><rect x="562.9" y="88.2" width="16.8" height="20.8" fill="url(#dec)" opacity="0.40"/><rect x="562.9" y="88.2" width="24.6" height="20.8" fill="url(#dec)" opacity="0.08"/><rect x="590.0" y="88.2" width="15.8" height="20.8" fill="url(#dec)" opacity="0.38"/><rect x="590.0" y="88.2" width="27.0" height="20.8" fill="url(#dec)" opacity="0.08"/><rect x="617.1" y="88.2" width="16.9" height="20.8" fill="url(#dec)" opacity="0.41"/><rect x="617.1" y="88.2" width="23.9" height="20.8" fill="url(#dec)" opacity="0.08"/><rect x="644.2" y="88.2" width="16.9" height="20.8" fill="url(#dec)" opacity="0.37"/><rect x="644.2" y="88.2" width="27.3" height="20.8" fill="url(#dec)" opacity="0.07"/><rect x="671.3" y="88.2" width="16.9" height="20.8" fill="url(#dec)" opacity="0.42"/><rect x="671.3" y="88.2" width="28.6" height="20.8" fill="url(#dec)" opacity="0.08"/><rect x="698.4" y="88.2" width="17.1" height="20.8" fill="url(#dec)" opacity="0.40"/><rect x="698.4" y="88.2" width="25.8" height="20.8" fill="url(#dec)" opacity="0.08"/><rect x="725.5" y="88.2" width="18.3" height="20.8" fill="url(#dec)" opacity="0.40"/><rect x="725.5" y="88.2" width="26.1" height="20.8" fill="url(#dec)" opacity="0.08"/><rect x="752.6" y="88.2" width="17.3" height="20.8" fill="url(#dec)" opacity="0.41"/><rect x="752.6" y="88.2" width="25.0" height="20.8" fill="url(#dec)" opacity="0.08"/><rect x="564.9" y="87.3" width="202.2" height="1.1" fill="#000" opacity="0.55"/><rect x="564.9" y="108.8" width="202.2" height="1.1" fill="#000" opacity="0.55"/></g><rect x="562.9" y="112.6" width="206.2" height="26.0" fill="#171717"/><rect x="564.9" y="121.8" width="202.2" height="1.0" fill="#fff" opacity="0.1"/><rect x="562.9" y="115.5" width="18.3" height="20.2" fill="url(#dec)" opacity="0.42"/><rect x="562.9" y="115.5" width="23.9" height="20.2" fill="url(#dec)" opacity="0.08"/><rect x="562.9" y="121.2" width="7.0" height="11.0" fill="url(#dec)" opacity="0.20"/><rect x="590.0" y="115.5" width="19.0" height="20.2" fill="url(#dec)" opacity="0.41"/><rect x="590.0" y="115.5" width="29.5" height="20.2" fill="url(#dec)" opacity="0.08"/><rect x="590.0" y="121.2" width="7.0" height="11.0" fill="url(#dec)" opacity="0.20"/><rect x="617.1" y="115.5" width="18.7" height="20.2" fill="url(#dec)" opacity="0.45"/><rect x="617.1" y="115.5" width="25.1" height="20.2" fill="url(#dec)" opacity="0.08"/><rect x="617.1" y="121.2" width="7.1" height="11.0" fill="url(#dec)" opacity="0.21"/><rect x="644.2" y="115.5" width="18.8" height="20.2" fill="url(#dec)" opacity="0.39"/><rect x="644.2" y="115.5" width="27.7" height="20.2" fill="url(#dec)" opacity="0.07"/><rect x="644.2" y="121.2" width="7.9" height="11.0" fill="url(#dec)" opacity="0.18"/><rect x="671.3" y="115.5" width="18.1" height="20.2" fill="url(#dec)" opacity="0.44"/><rect x="671.3" y="115.5" width="28.2" height="20.2" fill="url(#dec)" opacity="0.08"/><rect x="671.3" y="121.2" width="7.3" height="11.0" fill="url(#dec)" opacity="0.21"/><rect x="698.4" y="115.5" width="17.8" height="20.2" fill="url(#dec)" opacity="0.39"/><rect x="698.4" y="115.5" width="23.4" height="20.2" fill="url(#dec)" opacity="0.07"/><rect x="698.4" y="121.2" width="6.6" height="11.0" fill="url(#dec)" opacity="0.18"/><rect x="725.5" y="115.5" width="15.5" height="20.2" fill="url(#dec)" opacity="0.44"/><rect x="725.5" y="115.5" width="24.0" height="20.2" fill="url(#dec)" opacity="0.08"/><rect x="725.5" y="121.2" width="6.5" height="11.0" fill="url(#dec)" opacity="0.21"/><rect x="752.6" y="115.5" width="16.1" height="20.2" fill="url(#dec)" opacity="0.44"/><rect x="752.6" y="115.5" width="23.6" height="20.2" fill="url(#dec)" opacity="0.08"/><rect x="752.6" y="121.2" width="7.8" height="11.0" fill="url(#dec)" opacity="0.21"/><rect x="564.9" y="114.6" width="202.2" height="1.1" fill="#000" opacity="0.55"/><rect x="564.9" y="135.5" width="202.2" height="1.1" fill="#000" opacity="0.55"/><rect x="562.9" y="138.9" width="206.2" height="26.2" fill="#171717"/><rect x="562.9" y="141.8" width="16.7" height="20.4" fill="url(#dec)" opacity="0.42"/><rect x="562.9" y="143.1" width="6.4" height="14.4" fill="url(#dec)" opacity="0.17"/><rect x="590.0" y="141.8" width="17.1" height="20.4" fill="url(#dec)" opacity="0.48"/><rect x="590.0" y="143.1" width="6.3" height="14.4" fill="url(#dec)" opacity="0.19"/><rect x="617.1" y="141.8" width="13.6" height="20.4" fill="url(#dec)" opacity="0.48"/><rect x="617.1" y="143.1" width="6.6" height="14.4" fill="url(#dec)" opacity="0.19"/><rect x="644.2" y="141.8" width="16.2" height="20.4" fill="url(#dec)" opacity="0.46"/><rect x="644.2" y="143.1" width="5.6" height="14.4" fill="url(#dec)" opacity="0.18"/><rect x="671.3" y="141.8" width="17.0" height="20.4" fill="url(#dec)" opacity="0.48"/><rect x="671.3" y="143.1" width="5.5" height="14.4" fill="url(#dec)" opacity="0.19"/><rect x="698.4" y="141.8" width="15.6" height="20.4" fill="url(#dec)" opacity="0.44"/><rect x="698.4" y="143.1" width="6.6" height="14.4" fill="url(#dec)" opacity="0.17"/><rect x="725.5" y="141.8" width="14.2" height="20.4" fill="url(#dec)" opacity="0.43"/><rect x="725.5" y="143.1" width="5.8" height="14.4" fill="url(#dec)" opacity="0.17"/><rect x="752.6" y="141.8" width="16.3" height="20.4" fill="url(#dec)" opacity="0.47"/><rect x="752.6" y="143.1" width="6.0" height="14.4" fill="url(#dec)" opacity="0.18"/><rect x="564.9" y="140.9" width="202.2" height="1.1" fill="#000" opacity="0.55"/><rect x="564.9" y="162.0" width="202.2" height="1.1" fill="#000" opacity="0.55"/><rect x="562.9" y="164.9" width="206.2" height="25.6" fill="#1c1c1c"/><rect x="564.9" y="178.3" width="202.2" height="1.0" fill="#fff" opacity="0.2"/><rect x="564.9" y="185.7" width="202.2" height="1.2" fill="#fff" opacity="0.3"/><rect x="562.9" y="167.8" width="16.0" height="16.4" fill="url(#dec)" opacity="0.37"/><rect x="562.9" y="167.8" width="24.7" height="20.3" fill="url(#dec)" opacity="0.08"/><rect x="562.9" y="184.2" width="12.1" height="3.9" fill="url(#dec)" opacity="0.60"/><rect x="590.0" y="167.8" width="16.4" height="16.4" fill="url(#dec)" opacity="0.35"/><rect x="590.0" y="167.8" width="28.6" height="20.3" fill="url(#dec)" opacity="0.07"/><rect x="590.0" y="184.2" width="12.0" height="3.9" fill="url(#dec)" opacity="0.57"/><rect x="617.1" y="167.8" width="15.0" height="16.4" fill="url(#dec)" opacity="0.39"/><rect x="617.1" y="167.8" width="26.8" height="20.3" fill="url(#dec)" opacity="0.08"/><rect x="617.1" y="184.2" width="13.1" height="3.9" fill="url(#dec)" opacity="0.64"/><rect x="644.2" y="167.8" width="16.5" height="16.4" fill="url(#dec)" opacity="0.39"/><rect x="644.2" y="167.8" width="25.5" height="20.3" fill="url(#dec)" opacity="0.08"/><rect x="644.2" y="184.2" width="12.7" height="3.9" fill="url(#dec)" opacity="0.63"/><rect x="671.3" y="167.8" width="15.0" height="16.4" fill="url(#dec)" opacity="0.40"/><rect x="671.3" y="167.8" width="23.1" height="20.3" fill="url(#dec)" opacity="0.08"/><rect x="671.3" y="184.2" width="13.0" height="3.9" fill="url(#dec)" opacity="0.66"/><rect x="698.4" y="167.8" width="16.5" height="16.4" fill="url(#dec)" opacity="0.40"/><rect x="698.4" y="167.8" width="25.3" height="20.3" fill="url(#dec)" opacity="0.09"/><rect x="698.4" y="184.2" width="13.0" height="3.9" fill="url(#dec)" opacity="0.66"/><rect x="725.5" y="167.8" width="15.5" height="16.4" fill="url(#dec)" opacity="0.35"/><rect x="725.5" y="167.8" width="23.7" height="20.3" fill="url(#dec)" opacity="0.07"/><rect x="725.5" y="184.2" width="12.6" height="3.9" fill="url(#dec)" opacity="0.58"/><rect x="752.6" y="167.8" width="15.3" height="16.4" fill="url(#dec)" opacity="0.36"/><rect x="752.6" y="167.8" width="26.8" height="20.3" fill="url(#dec)" opacity="0.08"/><rect x="752.6" y="184.2" width="13.7" height="3.9" fill="url(#dec)" opacity="0.59"/><rect x="564.9" y="171.9" width="202.2" height="0.9" fill="#000" opacity="0.3"/><rect x="564.9" y="176.2" width="202.2" height="0.9" fill="#000" opacity="0.3"/><rect x="564.9" y="181.6" width="202.2" height="0.9" fill="#000" opacity="0.35"/><rect x="564.9" y="166.9" width="202.2" height="1.1" fill="#000" opacity="0.55"/><rect x="564.9" y="187.4" width="202.2" height="1.1" fill="#000" opacity="0.55"/><rect x="562.9" y="190.8" width="206.2" height="26.6" fill="#1a1a1a"/><g filter="url(#b1)"><rect x="564.9" y="203.4" width="202.2" height="2.4" fill="#fff" opacity="0.26"/><rect x="562.9" y="194.2" width="17.2" height="20.3" fill="url(#dec)" opacity="0.34"/><rect x="562.9" y="198.5" width="12.0" height="12.4" fill="url(#dec)" opacity="0.21"/><rect x="562.9" y="199.6" width="26.7" height="10.2" fill="url(#dec)" opacity="0.10"/><rect x="590.0" y="194.2" width="15.5" height="20.3" fill="url(#dec)" opacity="0.36"/><rect x="590.0" y="198.5" width="11.5" height="12.4" fill="url(#dec)" opacity="0.22"/><rect x="590.0" y="199.6" width="21.7" height="10.2" fill="url(#dec)" opacity="0.10"/><rect x="617.1" y="194.2" width="15.9" height="20.3" fill="url(#dec)" opacity="0.36"/><rect x="617.1" y="198.5" width="11.3" height="12.4" fill="url(#dec)" opacity="0.22"/><rect x="617.1" y="199.6" width="23.8" height="10.2" fill="url(#dec)" opacity="0.10"/><rect x="644.2" y="194.2" width="17.5" height="20.3" fill="url(#dec)" opacity="0.34"/><rect x="644.2" y="198.5" width="11.2" height="12.4" fill="url(#dec)" opacity="0.21"/><rect x="644.2" y="199.6" width="27.5" height="10.2" fill="url(#dec)" opacity="0.10"/><rect x="671.3" y="194.2" width="16.8" height="20.3" fill="url(#dec)" opacity="0.36"/><rect x="671.3" y="198.5" width="12.2" height="12.4" fill="url(#dec)" opacity="0.22"/><rect x="671.3" y="199.6" width="26.6" height="10.2" fill="url(#dec)" opacity="0.10"/><rect x="698.4" y="194.2" width="16.6" height="20.3" fill="url(#dec)" opacity="0.38"/><rect x="698.4" y="198.5" width="12.2" height="12.4" fill="url(#dec)" opacity="0.23"/><rect x="698.4" y="199.6" width="25.9" height="10.2" fill="url(#dec)" opacity="0.10"/><rect x="725.5" y="194.2" width="16.0" height="20.3" fill="url(#dec)" opacity="0.38"/><rect x="725.5" y="198.5" width="13.0" height="12.4" fill="url(#dec)" opacity="0.23"/><rect x="725.5" y="199.6" width="27.4" height="10.2" fill="url(#dec)" opacity="0.11"/><rect x="752.6" y="194.2" width="15.3" height="20.3" fill="url(#dec)" opacity="0.35"/><rect x="752.6" y="198.5" width="11.5" height="12.4" fill="url(#dec)" opacity="0.22"/><rect x="752.6" y="199.6" width="25.9" height="10.2" fill="url(#dec)" opacity="0.10"/><rect x="564.9" y="192.8" width="202.2" height="1.1" fill="#000" opacity="0.55"/><rect x="564.9" y="214.3" width="202.2" height="1.1" fill="#000" opacity="0.55"/></g></g></g></g><g clip-path="url(#bclip)"><g filter="url(#b05)"><path d="M304.7,119.3Q309.9,118.7 315.4,123.1Q309.9,126.9 304.7,126.3Z" fill="#ff0800" opacity="0.9"/><path d="M331.9,119.3Q337.1,118.7 342.6,123.1Q337.1,126.9 331.9,126.3Z" fill="#ff0800" opacity="0.9"/><path d="M359.1,119.3Q364.3,118.7 369.8,123.1Q364.3,126.9 359.1,126.3Z" fill="#ff0800" opacity="0.9"/><path d="M386.3,119.3Q391.5,118.7 397.0,123.1Q391.5,126.9 386.3,126.3Z" fill="#ff0800" opacity="0.9"/><path d="M413.5,119.3Q418.7,118.7 424.2,123.1Q418.7,126.9 413.5,126.3Z" fill="#ff0800" opacity="0.9"/><path d="M440.7,119.3Q445.9,118.7 451.4,123.1Q445.9,126.9 440.7,126.3Z" fill="#ff0800" opacity="0.9"/><path d="M467.9,119.3Q473.1,118.7 478.6,123.1Q473.1,126.9 467.9,126.3Z" fill="#ff0800" opacity="0.9"/><path d="M495.1,119.3Q500.3,118.7 505.8,123.1Q500.3,126.9 495.1,126.3Z" fill="#ff0800" opacity="0.9"/><rect x="304.9" y="74.8" width="7.5" height="3.0" rx="1.5" fill="#ff1000" opacity="0.75"/><rect x="304.9" y="80.1" width="6.5" height="2.5" rx="1.5" fill="#ff1800" opacity="0.6"/><rect x="332.1" y="74.8" width="7.5" height="3.0" rx="1.5" fill="#ff1000" opacity="0.75"/><rect x="332.1" y="80.1" width="6.5" height="2.5" rx="1.5" fill="#ff1800" opacity="0.6"/><rect x="359.3" y="74.8" width="7.5" height="3.0" rx="1.5" fill="#ff1000" opacity="0.75"/><rect x="359.3" y="80.1" width="6.5" height="2.5" rx="1.5" fill="#ff1800" opacity="0.6"/><rect x="386.5" y="74.8" width="7.5" height="3.0" rx="1.5" fill="#ff1000" opacity="0.75"/><rect x="386.5" y="80.1" width="6.5" height="2.5" rx="1.5" fill="#ff1800" opacity="0.6"/><rect x="413.7" y="74.8" width="7.5" height="3.0" rx="1.5" fill="#ff1000" opacity="0.75"/><rect x="413.7" y="80.1" width="6.5" height="2.5" rx="1.5" fill="#ff1800" opacity="0.6"/><rect x="440.9" y="74.8" width="7.5" height="3.0" rx="1.5" fill="#ff1000" opacity="0.75"/><rect x="440.9" y="80.1" width="6.5" height="2.5" rx="1.5" fill="#ff1800" opacity="0.6"/><rect x="468.1" y="74.8" width="7.5" height="3.0" rx="1.5" fill="#ff1000" opacity="0.75"/><rect x="468.1" y="80.1" width="6.5" height="2.5" rx="1.5" fill="#ff1800" opacity="0.6"/><rect x="495.3" y="74.8" width="7.5" height="3.0" rx="1.5" fill="#ff1000" opacity="0.75"/><rect x="495.3" y="80.1" width="6.5" height="2.5" rx="1.5" fill="#ff1800" opacity="0.6"/><rect x="563.9" y="50.8" width="6.5" height="3.6" rx="1.5" fill="#ff1000" opacity="0.65"/><rect x="591.0" y="50.8" width="6.5" height="3.6" rx="1.5" fill="#ff1000" opacity="0.65"/><rect x="618.1" y="50.8" width="6.5" height="3.6" rx="1.5" fill="#ff1000" opacity="0.65"/><rect x="645.2" y="50.8" width="6.5" height="3.6" rx="1.5" fill="#ff1000" opacity="0.65"/><rect x="672.3" y="50.8" width="6.5" height="3.6" rx="1.5" fill="#ff1000" opacity="0.65"/><rect x="699.4" y="50.8" width="6.5" height="3.6" rx="1.5" fill="#ff1000" opacity="0.65"/><rect x="726.5" y="50.8" width="6.5" height="3.6" rx="1.5" fill="#ff1000" opacity="0.65"/><rect x="753.6" y="50.8" width="6.5" height="3.6" rx="1.5" fill="#ff1000" opacity="0.65"/></g></g><text x="261.4" y="49.5" font-size="12" font-weight="normal" font-style="normal" text-anchor="start" fill="#111" >LMC 1</text><text x="261.4" y="77.4" font-size="12" font-weight="normal" font-style="normal" text-anchor="start" fill="#111" >LMC 2</text><text x="261.4" y="103.5" font-size="12" font-weight="normal" font-style="normal" text-anchor="start" fill="#111" >LMC 3</text><text x="261.4" y="129.6" font-size="12" font-weight="normal" font-style="normal" text-anchor="start" fill="#111" >LMC 4</text><text x="261.4" y="156.0" font-size="12" font-weight="normal" font-style="normal" text-anchor="start" fill="#111" >LMC 5</text><text x="261.4" y="182.0" font-size="12" font-weight="normal" font-style="normal" text-anchor="start" fill="#111" >LMC 6</text><text x="261.4" y="208.0" font-size="12" font-weight="normal" font-style="normal" text-anchor="start" fill="#111" >LMC 7</text><text x="555.2" y="48.0" font-size="12" font-weight="normal" font-style="normal" text-anchor="end" fill="#111" >LMC 8</text><text x="555.2" y="75.7" font-size="12" font-weight="normal" font-style="normal" text-anchor="end" fill="#111" >LMC 9</text><text x="555.2" y="101.9" font-size="12" font-weight="normal" font-style="normal" text-anchor="end" fill="#111" >LMC 10</text><text x="555.2" y="129.4" font-size="12" font-weight="normal" font-style="normal" text-anchor="end" fill="#111" >LMC 11</text><text x="555.2" y="155.1" font-size="12" font-weight="normal" font-style="normal" text-anchor="end" fill="#111" >LMC 12</text><text x="555.2" y="180.9" font-size="12" font-weight="normal" font-style="normal" text-anchor="end" fill="#111" >LMC 13</text><text x="555.2" y="208.2" font-size="12" font-weight="normal" font-style="normal" text-anchor="end" fill="#111" >LMC 14</text><g stroke="#ff0a0a" stroke-width="1.8" stroke-linecap="round"><line x1="300.60" y1="98.20" x2="300.60" y2="94.65"/><line x1="300.60" y1="98.20" x2="303.98" y2="97.10"/><line x1="300.60" y1="98.20" x2="302.69" y2="101.07"/><line x1="300.60" y1="98.20" x2="298.51" y2="101.07"/><line x1="300.60" y1="98.20" x2="297.22" y2="97.10"/></g><g stroke="#ff0a0a" stroke-width="1.8" stroke-linecap="round"><line x1="300.60" y1="124.80" x2="300.60" y2="121.25"/><line x1="300.60" y1="124.80" x2="303.98" y2="123.70"/><line x1="300.60" y1="124.80" x2="302.69" y2="127.67"/><line x1="300.60" y1="124.80" x2="298.51" y2="127.67"/><line x1="300.60" y1="124.80" x2="297.22" y2="123.70"/></g><g stroke="#ff0a0a" stroke-width="1.8" stroke-linecap="round"><line x1="301.10" y1="148.00" x2="301.10" y2="144.45"/><line x1="301.10" y1="148.00" x2="304.48" y2="146.90"/><line x1="301.10" y1="148.00" x2="303.19" y2="150.87"/><line x1="301.10" y1="148.00" x2="299.01" y2="150.87"/><line x1="301.10" y1="148.00" x2="297.72" y2="146.90"/></g><g stroke="#ff0a0a" stroke-width="1.8" stroke-linecap="round"><line x1="301.90" y1="177.30" x2="301.90" y2="173.75"/><line x1="301.90" y1="177.30" x2="305.28" y2="176.20"/><line x1="301.90" y1="177.30" x2="303.99" y2="180.17"/><line x1="301.90" y1="177.30" x2="299.81" y2="180.17"/><line x1="301.90" y1="177.30" x2="298.52" y2="176.20"/></g><g stroke="#ff0a0a" stroke-width="1.8" stroke-linecap="round"><line x1="559.70" y1="43.80" x2="559.70" y2="40.25"/><line x1="559.70" y1="43.80" x2="563.08" y2="42.70"/><line x1="559.70" y1="43.80" x2="561.79" y2="46.67"/><line x1="559.70" y1="43.80" x2="557.61" y2="46.67"/><line x1="559.70" y1="43.80" x2="556.32" y2="42.70"/></g><g stroke="#ff0a0a" stroke-width="1.8" stroke-linecap="round"><line x1="560.60" y1="71.30" x2="560.60" y2="67.75"/><line x1="560.60" y1="71.30" x2="563.98" y2="70.20"/><line x1="560.60" y1="71.30" x2="562.69" y2="74.17"/><line x1="560.60" y1="71.30" x2="558.51" y2="74.17"/><line x1="560.60" y1="71.30" x2="557.22" y2="70.20"/></g><g stroke="#ff0a0a" stroke-width="1.8" stroke-linecap="round"><line x1="559.50" y1="101.90" x2="559.50" y2="98.35"/><line x1="559.50" y1="101.90" x2="562.88" y2="100.80"/><line x1="559.50" y1="101.90" x2="561.59" y2="104.77"/><line x1="559.50" y1="101.90" x2="557.41" y2="104.77"/><line x1="559.50" y1="101.90" x2="556.12" y2="100.80"/></g><g stroke="#ff0a0a" stroke-width="1.8" stroke-linecap="round"><line x1="559.45" y1="125.25" x2="559.45" y2="121.70"/><line x1="559.45" y1="125.25" x2="562.83" y2="124.15"/><line x1="559.45" y1="125.25" x2="561.54" y2="128.12"/><line x1="559.45" y1="125.25" x2="557.36" y2="128.12"/><line x1="559.45" y1="125.25" x2="556.07" y2="124.15"/></g><g stroke="#ff0a0a" stroke-width="1.8" stroke-linecap="round"><line x1="559.40" y1="151.30" x2="559.40" y2="147.75"/><line x1="559.40" y1="151.30" x2="562.78" y2="150.20"/><line x1="559.40" y1="151.30" x2="561.49" y2="154.17"/><line x1="559.40" y1="151.30" x2="557.31" y2="154.17"/><line x1="559.40" y1="151.30" x2="556.02" y2="150.20"/></g><g stroke="#ff0a0a" stroke-width="1.8" stroke-linecap="round"><line x1="559.40" y1="177.30" x2="559.40" y2="173.75"/><line x1="559.40" y1="177.30" x2="562.78" y2="176.20"/><line x1="559.40" y1="177.30" x2="561.49" y2="180.17"/><line x1="559.40" y1="177.30" x2="557.31" y2="180.17"/><line x1="559.40" y1="177.30" x2="556.02" y2="176.20"/></g><g stroke="#ff0a0a" stroke-width="1.8" stroke-linecap="round"><line x1="559.60" y1="203.50" x2="559.60" y2="199.95"/><line x1="559.60" y1="203.50" x2="562.98" y2="202.40"/><line x1="559.60" y1="203.50" x2="561.69" y2="206.37"/><line x1="559.60" y1="203.50" x2="557.51" y2="206.37"/><line x1="559.60" y1="203.50" x2="556.22" y2="202.40"/></g><path d="M308,220.1H494" stroke="#000" stroke-width="3" fill="none"/><path d="M491.8,215.1L506.3,220.2L491.8,225.3Z" fill="#000"/><path d="M567.5,219.8H754" stroke="#000" stroke-width="3" fill="none"/><path d="M751.8,214.8L766.3,219.9L751.8,225.0Z" fill="#000"/><text x="407.2" y="236.0" font-size="12" font-weight="normal" font-style="normal" text-anchor="middle" fill="#111" >Time (20s)</text><text x="666.0" y="234.6" font-size="12" font-weight="normal" font-style="normal" text-anchor="middle" fill="#111" >Time (20s)</text>
<text x="7.7" y="256.5" font-size="12" font-weight="bold" font-style="normal" text-anchor="start" fill="#111" >C</text>
<text x="90.7" y="256" font-size="12" font-weight="normal" font-style="italic" text-anchor="start" fill="#111" textLength="73.4" lengthAdjust="spacingAndGlyphs">Myh11CreER</text><text x="164.5" y="251.2" font-size="8.3" font-weight="normal" font-style="italic" text-anchor="start" fill="#111" >T2</text><text x="175.8" y="256" font-size="12" font-weight="normal" font-style="normal" text-anchor="start" fill="#111" >-GCaMP6f</text><text x="239.2" y="256" font-size="12" font-weight="normal" font-style="normal" text-anchor="start" fill="#111" >Cell Plots</text>
<clipPath id="cbot"><rect x="56" y="345.2" width="326" height="103"/></clipPath><clipPath id="ctop"><rect x="56" y="262" width="326" height="32.3"/></clipPath><g clip-path="url(#ctop)"><polyline points="55.7,287.6 56.8,288.0 57.9,287.5 58.9,288.3 60.0,289.6 61.1,288.7 62.2,289.8 63.2,290.6 64.3,289.2 65.4,291.0 66.5,292.8 67.6,293.2 68.6,291.9 69.7,295.0 70.8,295.0 71.9,296.3 72.9,297.2 74.0,298.0 75.1,299.2 76.2,299.9 77.2,300.5 78.3,301.2 79.4,301.2 80.5,301.3 81.6,302.6 82.6,302.2 83.7,302.9 84.8,302.8 85.9,302.6 86.9,302.5 88.0,302.7 89.1,303.6 90.2,302.0 91.3,302.7 92.3,302.8 93.4,302.2 94.5,302.6 95.6,302.8 96.6,301.7 97.7,301.3 98.8,301.1 99.9,299.7 101.0,299.1 102.0,299.1 103.1,297.4 104.2,297.8 105.3,298.6 106.3,298.4 107.4,299.3 108.5,299.7 109.6,301.4 110.7,300.7 111.7,300.2 112.8,299.0 113.9,297.2 115.0,294.1 116.0,292.5 117.1,291.0 118.2,290.3 119.3,287.5 120.4,287.3 121.4,288.0 122.5,288.3 123.6,288.1 124.7,291.3 125.7,289.3 126.8,292.3 127.9,290.5 129.0,290.5 130.0,290.5 131.1,293.4 132.2,293.5 133.3,294.8 134.4,297.6 135.4,296.3 136.5,297.4 137.6,298.2 138.7,299.4 139.7,299.8 140.8,300.5 141.9,300.6 143.0,301.5 144.1,300.6 145.1,302.4 146.2,302.6 147.3,302.5 148.4,302.9 149.4,301.9 150.5,302.3 151.6,303.1 152.7,302.5 153.8,302.1 154.8,303.1 155.9,302.5 157.0,302.7 158.1,301.6 159.1,302.4 160.2,302.8 161.3,302.8 162.4,301.8 163.4,302.8 164.5,301.7 165.6,303.2 166.7,302.7 167.8,302.7 168.8,302.6 169.9,301.3 171.0,299.4 172.1,297.9 173.1,296.6 174.2,291.9 175.3,289.8 176.4,290.1 177.5,288.2 178.5,290.4 179.6,287.3 180.7,289.6 181.8,289.2 182.8,287.2 183.9,290.7 185.0,290.1 186.1,291.7 187.2,293.1 188.2,293.2 189.3,292.8 190.4,295.0 191.5,295.3 192.5,295.0 193.6,296.6 194.7,297.9 195.8,297.7 196.9,299.0 197.9,299.2 199.0,300.9 200.1,300.4 201.2,302.1 202.2,302.7 203.3,302.4 204.4,302.6 205.5,302.4 206.6,302.8 207.6,302.3 208.7,302.0 209.8,302.8 210.9,303.1 211.9,302.7 213.0,302.2 214.1,302.2 215.2,302.7 216.2,303.0 217.3,302.6 218.4,302.2 219.5,302.9 220.6,302.1 221.6,302.5 222.7,302.5 223.8,302.9 224.9,302.1 225.9,302.3 227.0,302.0 228.1,299.6 229.2,298.2 230.3,295.6 231.3,293.8 232.4,292.6 233.5,290.5 234.6,290.1 235.6,290.1 236.7,289.4 237.8,288.9 238.9,289.8 240.0,290.3 241.0,291.2 242.1,290.7 243.2,291.5 244.3,291.5 245.3,292.8 246.4,291.9 247.5,296.0 248.6,295.4 249.7,296.0 250.7,296.7 251.8,298.5 252.9,299.1 254.0,299.4 255.0,299.6 256.1,300.2 257.2,301.8 258.3,301.6 259.3,301.6 260.4,302.3 261.5,302.9 262.6,302.8 263.7,303.1 264.7,302.1 265.8,302.7 266.9,302.7 268.0,302.9 269.0,302.6 270.1,302.9 271.2,303.0 272.3,302.6 273.4,302.7 274.4,302.4 275.5,302.5 276.6,302.1 277.7,302.6 278.7,302.5 279.8,302.5 280.9,302.9 282.0,302.1 283.1,302.8 284.1,302.8 285.2,300.7 286.3,299.4 287.4,298.0 288.4,294.9 289.5,292.9 290.6,291.4 291.7,291.7 292.8,289.7 293.8,290.6 294.9,290.3 296.0,290.5 297.1,291.0 298.1,290.2 299.2,291.7 300.3,291.0 301.4,292.0 302.4,293.3 303.5,293.3 304.6,293.6 305.7,293.9 306.8,296.0 307.8,295.8 308.9,297.1 310.0,297.6 311.1,299.4 312.1,300.0 313.2,299.7 314.3,300.9 315.4,301.2 316.5,301.3 317.5,302.7 318.6,302.2 319.7,301.7 320.8,302.2 321.8,302.5 322.9,302.3 324.0,302.6 325.1,302.3 326.2,302.0 327.2,302.7 328.3,302.4 329.4,302.5 330.5,302.3 331.5,302.3 332.6,303.0 333.7,302.1 334.8,302.3 335.9,303.0 336.9,302.7 338.0,303.2 339.1,302.7 340.2,302.5 341.2,303.1 342.3,302.5 343.4,301.4 344.5,299.7 345.5,297.8 346.6,296.2 347.7,292.7 348.8,291.5 349.9,290.6 350.9,288.2 352.0,289.3 353.1,288.2 354.2,290.2 355.2,288.2 356.3,290.2 357.4,291.1 358.5,290.5 359.6,292.6 360.6,293.1 361.7,292.6 362.8,294.1 363.9,294.1 364.9,295.2 366.0,296.0 367.1,296.9 368.2,297.5 369.3,298.6 370.3,298.9 371.4,299.7 372.5,301.5 373.6,301.9 374.6,301.1 375.7,302.2 376.8,302.2 377.9,302.4 378.9,302.2" fill="none" stroke="#f56ccb" stroke-width="1.15" stroke-linejoin="round"/><polyline points="55.7,286.5 56.8,287.2 57.9,289.3 58.9,288.7 60.0,287.8 61.1,287.2 62.2,291.4 63.2,290.6 64.3,290.6 65.4,292.2 66.5,293.0 67.6,293.6 68.6,293.6 69.7,296.0 70.8,295.7 71.9,296.6 72.9,297.5 74.0,298.2 75.1,299.8 76.2,300.4 77.2,300.6 78.3,301.1 79.4,301.7 80.5,302.5 81.6,302.7 82.6,303.1 83.7,302.7 84.8,302.8 85.9,302.5 86.9,302.3 88.0,301.6 89.1,301.4 90.2,301.5 91.3,301.7 92.3,301.0 93.4,300.6 94.5,300.4 95.6,300.6 96.6,300.4 97.7,301.1 98.8,300.8 99.9,301.0 101.0,301.7 102.0,302.1 103.1,301.6 104.2,302.6 105.3,302.1 106.3,302.6 107.4,302.8 108.5,302.8 109.6,302.9 110.7,302.5 111.7,300.7 112.8,299.3 113.9,297.9 115.0,295.3 116.0,292.7 117.1,291.8 118.2,288.3 119.3,288.9 120.4,288.0 121.4,289.5 122.5,289.8 123.6,290.0 124.7,290.1 125.7,289.2 126.8,290.9 127.9,290.6 129.0,292.4 130.0,293.7 131.1,293.6 132.2,295.0 133.3,297.0 134.4,296.5 135.4,296.9 136.5,298.4 137.6,299.6 138.7,300.2 139.7,301.1 140.8,301.3 141.9,302.1 143.0,302.2 144.1,302.4 145.1,302.1 146.2,303.1 147.3,303.5 148.4,302.1 149.4,302.5 150.5,302.9 151.6,302.5 152.7,303.1 153.8,302.9 154.8,302.5 155.9,302.9 157.0,302.7 158.1,302.6 159.1,302.7 160.2,302.9 161.3,302.6 162.4,302.3 163.4,302.3 164.5,303.1 165.6,302.5 166.7,303.6 167.8,303.4 168.8,302.3 169.9,301.1 171.0,299.1 172.1,298.1 173.1,294.1 174.2,293.1 175.3,290.8 176.4,288.3 177.5,286.3 178.5,288.0 179.6,288.8 180.7,288.1 181.8,288.0 182.8,287.3 183.9,288.6 185.0,289.8 186.1,290.7 187.2,291.5 188.2,291.1 189.3,294.3 190.4,294.5 191.5,295.6 192.5,294.9 193.6,296.8 194.7,298.1 195.8,298.5 196.9,298.8 197.9,300.0 199.0,301.6 200.1,301.7 201.2,301.7 202.2,303.2 203.3,303.1 204.4,302.8 205.5,302.5 206.6,303.0 207.6,302.7 208.7,302.8 209.8,302.6 210.9,303.2 211.9,303.6 213.0,303.6 214.1,302.7 215.2,302.4 216.2,302.6 217.3,303.4 218.4,303.5 219.5,302.9 220.6,303.2 221.6,303.5 222.7,303.0 223.8,303.1 224.9,302.8 225.9,302.3 227.0,301.3 228.1,299.7 229.2,297.5 230.3,295.5 231.3,293.5 232.4,291.4 233.5,288.4 234.6,288.6 235.6,287.3 236.7,286.7 237.8,286.8 238.9,290.5 240.0,289.0 241.0,288.8 242.1,290.6 243.2,291.5 244.3,292.9 245.3,293.1 246.4,293.4 247.5,296.0 248.6,295.3 249.7,296.6 250.7,297.2 251.8,298.5 252.9,299.0 254.0,299.7 255.0,300.8 256.1,301.4 257.2,301.3 258.3,301.9 259.3,302.8 260.4,302.5 261.5,303.2 262.6,302.9 263.7,303.9 264.7,302.9 265.8,302.5 266.9,302.9 268.0,302.5 269.0,303.0 270.1,302.6 271.2,302.8 272.3,303.2 273.4,301.9 274.4,303.1 275.5,303.3 276.6,302.7 277.7,302.6 278.7,302.7 279.8,302.8 280.9,302.6 282.0,302.4 283.1,302.6 284.1,302.9 285.2,300.4 286.3,299.3 287.4,298.0 288.4,294.1 289.5,292.6 290.6,290.2 291.7,287.2 292.8,288.4 293.8,288.3 294.9,288.7 296.0,288.0 297.1,287.9 298.1,288.6 299.2,289.3 300.3,292.0 301.4,290.6 302.4,290.7 303.5,293.0 304.6,293.9 305.7,295.3 306.8,295.1 307.8,296.9 308.9,296.5 310.0,298.3 311.1,299.3 312.1,300.4 313.2,300.4 314.3,300.9 315.4,302.0 316.5,302.1 317.5,302.4 318.6,302.3 319.7,302.4 320.8,302.2 321.8,303.3 322.9,301.7 324.0,302.9 325.1,303.1 326.2,303.0 327.2,302.4 328.3,302.2 329.4,301.4 330.5,301.7 331.5,302.3 332.6,301.9 333.7,301.7 334.8,301.6 335.9,301.3 336.9,301.5 338.0,300.8 339.1,301.3 340.2,301.4 341.2,301.9 342.3,302.0 343.4,300.5 344.5,299.2 345.5,296.3 346.6,293.9 347.7,293.8 348.8,291.7 349.9,289.9 350.9,288.7 352.0,287.3 353.1,288.6 354.2,288.3 355.2,289.3 356.3,289.6 357.4,288.9 358.5,290.6 359.6,289.6 360.6,292.1 361.7,292.5 362.8,293.4 363.9,294.1 364.9,293.9 366.0,296.8 367.1,297.7 368.2,298.7 369.3,298.5 370.3,299.8 371.4,300.5 372.5,301.1 373.6,302.5 374.6,301.8 375.7,302.2 376.8,302.2 377.9,302.2 378.9,302.1" fill="none" stroke="#8a22e6" stroke-width="1.15" stroke-linejoin="round"/><polyline points="55.7,285.3 56.8,284.9 57.9,285.4 58.9,285.2 60.0,286.6 61.1,288.8 62.2,289.9 63.2,287.2 64.3,290.7 65.4,288.6 66.5,288.0 67.6,293.3 68.6,292.1 69.7,293.3 70.8,295.4 71.9,297.6 72.9,297.0 74.0,297.3 75.1,298.9 76.2,299.8 77.2,300.6 78.3,301.3 79.4,301.8 80.5,301.5 81.6,303.1 82.6,303.7 83.7,302.7 84.8,303.3 85.9,303.3 86.9,303.6 88.0,303.2 89.1,303.3 90.2,302.9 91.3,303.3 92.3,303.7 93.4,302.9 94.5,303.2 95.6,303.9 96.6,303.3 97.7,302.8 98.8,303.2 99.9,303.3 101.0,302.9 102.0,303.4 103.1,303.4 104.2,303.0 105.3,303.2 106.3,303.4 107.4,303.1 108.5,303.1 109.6,302.8 110.7,302.2 111.7,301.3 112.8,299.5 113.9,297.6 115.0,294.6 116.0,292.7 117.1,289.5 118.2,287.9 119.3,287.1 120.4,287.5 121.4,287.3 122.5,286.5 123.6,286.7 124.7,289.1 125.7,291.6 126.8,289.2 127.9,291.7 129.0,291.1 130.0,291.6 131.1,291.6 132.2,294.0 133.3,294.9 134.4,296.3 135.4,296.6 136.5,298.2 137.6,298.4 138.7,299.3 139.7,299.7 140.8,301.0 141.9,301.4 143.0,301.9 144.1,302.3 145.1,302.8 146.2,302.7 147.3,302.4 148.4,302.1 149.4,301.7 150.5,302.3 151.6,301.9 152.7,301.7 153.8,301.7 154.8,302.0 155.9,302.2 157.0,302.5 158.1,302.6 159.1,302.8 160.2,303.5 161.3,303.2 162.4,304.0 163.4,302.9 164.5,302.8 165.6,303.3 166.7,303.1 167.8,303.1 168.8,302.7 169.9,300.7 171.0,299.5 172.1,297.0 173.1,294.6 174.2,290.4 175.3,291.3 176.4,288.1 177.5,288.4 178.5,287.6 179.6,288.0 180.7,286.7 181.8,288.7 182.8,289.0 183.9,289.0 185.0,290.2 186.1,290.9 187.2,289.5 188.2,292.3 189.3,293.3 190.4,292.4 191.5,294.5 192.5,294.6 193.6,297.2 194.7,297.7 195.8,298.3 196.9,299.3 197.9,300.0 199.0,300.4 200.1,301.3 201.2,301.7 202.2,302.2 203.3,303.1 204.4,302.9 205.5,302.5 206.6,303.4 207.6,302.9 208.7,302.8 209.8,302.6 210.9,303.8 211.9,302.2 213.0,303.7 214.1,303.1 215.2,302.1 216.2,303.7 217.3,302.2 218.4,303.0 219.5,302.4 220.6,302.6 221.6,303.1 222.7,303.5 223.8,303.3 224.9,303.7 225.9,303.2 227.0,301.2 228.1,300.1 229.2,297.0 230.3,294.8 231.3,292.4 232.4,291.0 233.5,289.5 234.6,286.8 235.6,288.1 236.7,287.9 237.8,287.8 238.9,287.4 240.0,286.7 241.0,287.2 242.1,288.9 243.2,289.7 244.3,290.5 245.3,292.1 246.4,293.0 247.5,295.2 248.6,294.2 249.7,296.1 250.7,296.5 251.8,296.7 252.9,298.2 254.0,299.0 255.0,299.9 256.1,301.2 257.2,301.8 258.3,302.7 259.3,302.8 260.4,302.8 261.5,302.7 262.6,302.7 263.7,303.0 264.7,303.1 265.8,302.3 266.9,301.7 268.0,302.2 269.0,301.1 270.1,301.6 271.2,301.4 272.3,301.6 273.4,302.4 274.4,302.6 275.5,302.7 276.6,303.3 277.7,302.8 278.7,302.9 279.8,302.9 280.9,303.6 282.0,303.2 283.1,303.3 284.1,302.4 285.2,300.6 286.3,299.1 287.4,296.4 288.4,293.1 289.5,291.6 290.6,288.6 291.7,287.6 292.8,288.0 293.8,286.7 294.9,286.7 296.0,287.4 297.1,285.8 298.1,288.3 299.2,289.8 300.3,289.3 301.4,290.1 302.4,290.3 303.5,289.4 304.6,292.5 305.7,292.8 306.8,295.2 307.8,296.4 308.9,296.9 310.0,297.7 311.1,298.7 312.1,299.4 313.2,300.5 314.3,301.5 315.4,301.9 316.5,301.9 317.5,303.0 318.6,302.5 319.7,302.2 320.8,303.1 321.8,302.1 322.9,301.8 324.0,302.8 325.1,301.0 326.2,300.9 327.2,301.4 328.3,300.6 329.4,302.3 330.5,301.5 331.5,302.3 332.6,303.1 333.7,302.8 334.8,303.6 335.9,302.9 336.9,302.9 338.0,302.7 339.1,302.6 340.2,303.4 341.2,302.9 342.3,302.6 343.4,301.9 344.5,298.2 345.5,294.9 346.6,292.9 347.7,288.9 348.8,288.2 349.9,287.9 350.9,285.8 352.0,285.6 353.1,285.3 354.2,286.2 355.2,288.1 356.3,287.8 357.4,287.5 358.5,287.1 359.6,289.4 360.6,290.9 361.7,291.1 362.8,290.9 363.9,291.7 364.9,294.7 366.0,294.4 367.1,295.6 368.2,296.8 369.3,298.6 370.3,298.9 371.4,300.2 372.5,301.0 373.6,300.8 374.6,302.1 375.7,302.3 376.8,302.4 377.9,302.4 378.9,302.9" fill="none" stroke="#2a2af0" stroke-width="1.15" stroke-linejoin="round"/><polyline points="55.7,291.4 56.8,291.3 57.9,289.4 58.9,290.7 60.0,292.3 61.1,292.0 62.2,293.3 63.2,293.7 64.3,294.1 65.4,295.2 66.5,295.1 67.6,295.8 68.6,297.4 69.7,298.3 70.8,299.2 71.9,299.9 72.9,300.4 74.0,301.5 75.1,302.2 76.2,302.7 77.2,302.5 78.3,302.8 79.4,302.9 80.5,303.3 81.6,303.8 82.6,302.9 83.7,302.6 84.8,303.7 85.9,303.7 86.9,303.0 88.0,303.2 89.1,303.3 90.2,302.7 91.3,303.6 92.3,303.8 93.4,303.6 94.5,303.4 95.6,303.4 96.6,303.0 97.7,303.2 98.8,303.8 99.9,303.2 101.0,303.6 102.0,302.9 103.1,303.1 104.2,303.8 105.3,303.3 106.3,304.1 107.4,303.4 108.5,303.5 109.6,303.3 110.7,303.5 111.7,302.3 112.8,300.7 113.9,298.9 115.0,296.7 116.0,295.9 117.1,295.4 118.2,293.0 119.3,291.2 120.4,291.1 121.4,293.1 122.5,291.7 123.6,292.4 124.7,292.3 125.7,293.3 126.8,292.9 127.9,295.3 129.0,293.5 130.0,295.7 131.1,297.4 132.2,298.4 133.3,298.2 134.4,300.0 135.4,300.5 136.5,300.7 137.6,301.6 138.7,302.1 139.7,303.5 140.8,303.3 141.9,303.0 143.0,302.6 144.1,303.3 145.1,303.4 146.2,303.4 147.3,303.0 148.4,303.1 149.4,303.6 150.5,303.8 151.6,302.9 152.7,302.6 153.8,301.4 154.8,302.2 155.9,301.4 157.0,302.5 158.1,301.5 159.1,302.6 160.2,302.4 161.3,302.8 162.4,303.0 163.4,303.2 164.5,303.8 165.6,303.2 166.7,303.9 167.8,303.5 168.8,303.3 169.9,301.9 171.0,300.3 172.1,298.5 173.1,296.8 174.2,293.5 175.3,293.1 176.4,291.7 177.5,293.0 178.5,290.5 179.6,292.5 180.7,291.6 181.8,293.6 182.8,290.6 183.9,294.3 185.0,293.6 186.1,295.2 187.2,296.0 188.2,297.2 189.3,295.9 190.4,296.5 191.5,298.3 192.5,298.8 193.6,300.1 194.7,301.1 195.8,300.7 196.9,301.8 197.9,303.0 199.0,303.0 200.1,303.2 201.2,303.5 202.2,303.5 203.3,303.7 204.4,303.5 205.5,303.6 206.6,303.6 207.6,303.8 208.7,302.9 209.8,303.7 210.9,303.6 211.9,303.4 213.0,303.5 214.1,304.0 215.2,303.2 216.2,304.0 217.3,303.8 218.4,303.4 219.5,303.6 220.6,303.8 221.6,303.5 222.7,303.9 223.8,303.8 224.9,304.0 225.9,303.5 227.0,302.4 228.1,300.6 229.2,299.2 230.3,297.3 231.3,294.7 232.4,294.4 233.5,294.6 234.6,292.3 235.6,290.7 236.7,295.0 237.8,292.9 238.9,293.9 240.0,294.7 241.0,293.1 242.1,294.4 243.2,295.1 244.3,296.9 245.3,296.6 246.4,297.7 247.5,297.4 248.6,298.8 249.7,300.4 250.7,300.4 251.8,300.4 252.9,301.9 254.0,302.3 255.0,302.7 256.1,302.8 257.2,303.1 258.3,303.7 259.3,303.6 260.4,303.2 261.5,303.9 262.6,303.6 263.7,303.4 264.7,303.6 265.8,303.9 266.9,302.9 268.0,303.5 269.0,303.6 270.1,304.7 271.2,303.1 272.3,303.2 273.4,303.6 274.4,303.5 275.5,303.9 276.6,302.8 277.7,303.2 278.7,302.7 279.8,302.7 280.9,304.3 282.0,303.3 283.1,304.3 284.1,302.7 285.2,301.6 286.3,300.2 287.4,297.9 288.4,296.1 289.5,294.6 290.6,293.0 291.7,290.9 292.8,290.7 293.8,290.4 294.9,291.0 296.0,292.0 297.1,292.4 298.1,292.2 299.2,293.6 300.3,294.1 301.4,293.6 302.4,294.9 303.5,296.1 304.6,296.7 305.7,297.8 306.8,298.0 307.8,299.4 308.9,300.1 310.0,301.3 311.1,301.8 312.1,302.7 313.2,302.5 314.3,302.8 315.4,303.0 316.5,303.6 317.5,303.4 318.6,303.3 319.7,303.6 320.8,304.1 321.8,302.7 322.9,303.3 324.0,303.1 325.1,303.2 326.2,303.8 327.2,303.5 328.3,303.7 329.4,303.1 330.5,303.4 331.5,303.8 332.6,303.4 333.7,302.4 334.8,303.5 335.9,303.3 336.9,302.7 338.0,303.9 339.1,303.4 340.2,303.1 341.2,303.2 342.3,303.0 343.4,301.6 344.5,299.8 345.5,297.6 346.6,295.1 347.7,295.8 348.8,292.4 349.9,292.0 350.9,290.5 352.0,291.1 353.1,290.6 354.2,292.5 355.2,291.4 356.3,291.6 357.4,291.6 358.5,291.9 359.6,294.0 360.6,295.3 361.7,294.5 362.8,296.4 363.9,297.3 364.9,298.1 366.0,299.8 367.1,300.4 368.2,301.1 369.3,301.9 370.3,301.5 371.4,303.3 372.5,303.1 373.6,303.3 374.6,303.8 375.7,303.3 376.8,303.8 377.9,304.0 378.9,304.0" fill="none" stroke="#36e8f5" stroke-width="1.15" stroke-linejoin="round"/><polyline points="55.7,289.7 56.8,289.4 57.9,290.3 58.9,289.1 60.0,289.6 61.1,289.9 62.2,291.9 63.2,291.4 64.3,291.8 65.4,294.6 66.5,294.9 67.6,294.9 68.6,296.6 69.7,297.0 70.8,297.8 71.9,299.4 72.9,299.4 74.0,300.4 75.1,300.7 76.2,301.8 77.2,302.5 78.3,302.8 79.4,302.9 80.5,303.9 81.6,303.4 82.6,303.0 83.7,303.0 84.8,303.1 85.9,303.7 86.9,303.3 88.0,303.1 89.1,303.3 90.2,303.2 91.3,302.6 92.3,302.6 93.4,303.5 94.5,303.7 95.6,303.3 96.6,302.8 97.7,303.7 98.8,303.7 99.9,303.8 101.0,302.9 102.0,303.5 103.1,303.4 104.2,302.7 105.3,303.1 106.3,303.5 107.4,303.9 108.5,302.9 109.6,303.3 110.7,303.0 111.7,301.8 112.8,300.7 113.9,298.4 115.0,296.4 116.0,295.4 117.1,292.5 118.2,290.9 119.3,289.4 120.4,289.7 121.4,288.7 122.5,290.0 123.6,291.1 124.7,291.2 125.7,292.0 126.8,293.4 127.9,293.5 129.0,293.9 130.0,295.8 131.1,295.7 132.2,296.4 133.3,296.8 134.4,298.4 135.4,299.3 136.5,300.2 137.6,301.4 138.7,301.2 139.7,302.2 140.8,302.7 141.9,303.3 143.0,302.5 144.1,302.7 145.1,303.1 146.2,303.4 147.3,303.7 148.4,304.1 149.4,303.6 150.5,303.6 151.6,302.7 152.7,303.4 153.8,304.0 154.8,302.8 155.9,303.1 157.0,303.5 158.1,303.2 159.1,303.1 160.2,303.5 161.3,303.7 162.4,303.3 163.4,303.1 164.5,303.1 165.6,303.8 166.7,303.7 167.8,303.4 168.8,303.2 169.9,302.1 171.0,299.8 172.1,299.5 173.1,297.1 174.2,296.0 175.3,293.3 176.4,290.6 177.5,291.1 178.5,290.2 179.6,292.2 180.7,291.4 181.8,290.7 182.8,292.6 183.9,293.5 185.0,294.7 186.1,292.7 187.2,294.8 188.2,294.3 189.3,296.2 190.4,297.0 191.5,297.5 192.5,298.6 193.6,299.0 194.7,300.4 195.8,301.1 196.9,301.5 197.9,302.3 199.0,302.6 200.1,302.6 201.2,303.0 202.2,303.3 203.3,302.6 204.4,303.8 205.5,303.5 206.6,303.4 207.6,302.9 208.7,303.1 209.8,303.1 210.9,302.7 211.9,303.3 213.0,303.6 214.1,302.8 215.2,302.7 216.2,303.7 217.3,303.6 218.4,303.4 219.5,303.2 220.6,303.3 221.6,303.1 222.7,304.0 223.8,303.5 224.9,304.0 225.9,302.6 227.0,301.6 228.1,300.5 229.2,298.9 230.3,297.0 231.3,295.2 232.4,294.3 233.5,291.9 234.6,291.0 235.6,292.0 236.7,291.2 237.8,290.5 238.9,290.7 240.0,290.4 241.0,290.5 242.1,294.7 243.2,294.5 244.3,295.1 245.3,295.1 246.4,295.7 247.5,297.7 248.6,297.7 249.7,298.6 250.7,299.0 251.8,300.0 252.9,301.2 254.0,301.4 255.0,302.3 256.1,302.6 257.2,303.0 258.3,303.1 259.3,303.1 260.4,303.1 261.5,302.8 262.6,303.0 263.7,303.9 264.7,303.0 265.8,303.3 266.9,302.6 268.0,302.8 269.0,302.6 270.1,302.4 271.2,301.5 272.3,300.9 273.4,301.6 274.4,301.4 275.5,302.1 276.6,303.2 277.7,302.9 278.7,303.2 279.8,303.0 280.9,303.9 282.0,303.1 283.1,303.3 284.1,302.4 285.2,301.7 286.3,300.2 287.4,298.0 288.4,295.9 289.5,292.9 290.6,292.7 291.7,291.1 292.8,291.0 293.8,290.3 294.9,289.9 296.0,289.2 297.1,290.9 298.1,291.0 299.2,291.7 300.3,291.5 301.4,293.4 302.4,294.1 303.5,294.5 304.6,295.9 305.7,296.4 306.8,297.5 307.8,298.5 308.9,298.9 310.0,300.1 311.1,300.9 312.1,301.3 313.2,301.3 314.3,302.4 315.4,303.0 316.5,302.8 317.5,303.0 318.6,303.6 319.7,302.8 320.8,302.7 321.8,303.5 322.9,303.4 324.0,303.0 325.1,303.2 326.2,303.2 327.2,302.8 328.3,303.9 329.4,303.5 330.5,303.1 331.5,303.1 332.6,303.6 333.7,304.0 334.8,302.9 335.9,303.0 336.9,303.3 338.0,303.2 339.1,302.9 340.2,302.4 341.2,303.7 342.3,302.8 343.4,302.5 344.5,300.7 345.5,297.9 346.6,296.6 347.7,296.5 348.8,294.1 349.9,290.6 350.9,290.8 352.0,290.0 353.1,289.9 354.2,291.9 355.2,291.8 356.3,292.8 357.4,293.5 358.5,292.5 359.6,293.8 360.6,295.3 361.7,296.9 362.8,296.4 363.9,297.2 364.9,298.2 366.0,298.4 367.1,299.3 368.2,300.1 369.3,300.5 370.3,301.7 371.4,302.2 372.5,301.8 373.6,303.3 374.6,303.0 375.7,302.9 376.8,303.2 377.9,303.3 378.9,303.1" fill="none" stroke="#2fe02f" stroke-width="1.15" stroke-linejoin="round"/><polyline points="55.7,288.5 56.8,289.7 57.9,289.3 58.9,288.1 60.0,290.7 61.1,290.1 62.2,290.3 63.2,291.6 64.3,292.1 65.4,292.8 66.5,293.5 67.6,293.7 68.6,296.7 69.7,295.3 70.8,296.2 71.9,297.6 72.9,298.6 74.0,299.8 75.1,300.4 76.2,301.2 77.2,301.3 78.3,302.0 79.4,303.0 80.5,302.4 81.6,302.9 82.6,302.8 83.7,302.0 84.8,302.9 85.9,302.6 86.9,303.0 88.0,302.8 89.1,303.0 90.2,303.1 91.3,302.4 92.3,302.2 93.4,302.6 94.5,302.9 95.6,302.7 96.6,302.3 97.7,302.3 98.8,301.9 99.9,302.9 101.0,302.7 102.0,302.7 103.1,302.5 104.2,302.8 105.3,302.3 106.3,302.5 107.4,303.1 108.5,303.8 109.6,303.1 110.7,302.8 111.7,301.4 112.8,299.6 113.9,298.6 115.0,296.9 116.0,293.6 117.1,292.6 118.2,290.9 119.3,290.3 120.4,289.2 121.4,289.4 122.5,290.2 123.6,289.1 124.7,289.2 125.7,289.0 126.8,290.3 127.9,288.7 129.0,290.0 130.0,289.9 131.1,290.4 132.2,291.8 133.3,293.9 134.4,292.9 135.4,297.1 136.5,296.8 137.6,297.9 138.7,298.5 139.7,300.7 140.8,301.3 141.9,301.8 143.0,302.0 144.1,302.8 145.1,301.6 146.2,302.5 147.3,303.0 148.4,302.6 149.4,302.1 150.5,303.3 151.6,303.4 152.7,302.5 153.8,302.3 154.8,302.8 155.9,303.7 157.0,302.8 158.1,302.4 159.1,302.3 160.2,302.7 161.3,302.5 162.4,302.8 163.4,303.0 164.5,302.3 165.6,303.1 166.7,302.1 167.8,303.2 168.8,302.7 169.9,301.5 171.0,299.0 172.1,297.3 173.1,295.6 174.2,294.4 175.3,292.3 176.4,288.1 177.5,289.6 178.5,288.6 179.6,288.8 180.7,287.6 181.8,288.7 182.8,289.7 183.9,289.6 185.0,290.4 186.1,289.9 187.2,290.4 188.2,290.4 189.3,291.4 190.4,290.8 191.5,291.8 192.5,292.4 193.6,295.3 194.7,294.5 195.8,297.3 196.9,298.2 197.9,299.5 199.0,298.9 200.1,300.6 201.2,301.0 202.2,301.4 203.3,302.4 204.4,302.0 205.5,303.2 206.6,302.3 207.6,303.1 208.7,303.3 209.8,302.5 210.9,302.6 211.9,302.7 213.0,301.1 214.1,301.5 215.2,301.2 216.2,300.8 217.3,300.4 218.4,301.8 219.5,301.2 220.6,301.0 221.6,302.4 222.7,302.7 223.8,302.1 224.9,302.3 225.9,302.4 227.0,302.4 228.1,299.2 229.2,297.7 230.3,295.6 231.3,293.8 232.4,291.7 233.5,288.4 234.6,288.9 235.6,289.0 236.7,290.1 237.8,288.9 238.9,290.0 240.0,289.9 241.0,290.6 242.1,292.0 243.2,292.0 244.3,294.0 245.3,295.6 246.4,296.1 247.5,295.1 248.6,295.8 249.7,296.8 250.7,297.9 251.8,298.2 252.9,300.1 254.0,300.5 255.0,301.3 256.1,301.5 257.2,302.2 258.3,302.9 259.3,302.4 260.4,302.5 261.5,302.9 262.6,302.5 263.7,302.5 264.7,302.3 265.8,302.8 266.9,302.8 268.0,302.9 269.0,303.0 270.1,303.5 271.2,302.8 272.3,303.0 273.4,302.1 274.4,302.5 275.5,302.6 276.6,302.6 277.7,302.8 278.7,303.1 279.8,303.7 280.9,302.8 282.0,303.1 283.1,303.2 284.1,302.5 285.2,301.0 286.3,299.2 287.4,296.8 288.4,296.8 289.5,293.4 290.6,291.1 291.7,290.0 292.8,290.0 293.8,286.8 294.9,288.7 296.0,289.6 297.1,289.5 298.1,291.3 299.2,292.2 300.3,292.0 301.4,292.8 302.4,292.5 303.5,294.4 304.6,294.4 305.7,294.2 306.8,296.5 307.8,297.1 308.9,298.4 310.0,298.7 311.1,299.9 312.1,300.8 313.2,300.8 314.3,301.8 315.4,301.9 316.5,302.8 317.5,303.0 318.6,302.3 319.7,302.5 320.8,302.6 321.8,302.6 322.9,302.6 324.0,302.8 325.1,302.5 326.2,302.7 327.2,302.8 328.3,302.8 329.4,302.6 330.5,303.5 331.5,303.2 332.6,303.2 333.7,302.9 334.8,302.7 335.9,303.3 336.9,302.9 338.0,303.4 339.1,302.8 340.2,302.7 341.2,302.9 342.3,302.0 343.4,301.1 344.5,300.2 345.5,297.0 346.6,295.0 347.7,294.4 348.8,292.0 349.9,290.4 350.9,287.1 352.0,289.3 353.1,291.3 354.2,289.3 355.2,292.3 356.3,289.7 357.4,292.4 358.5,292.1 359.6,292.9 360.6,293.8 361.7,293.5 362.8,295.0 363.9,296.1 364.9,296.8 366.0,298.0 367.1,298.2 368.2,299.0 369.3,300.1 370.3,300.1 371.4,301.3 372.5,301.5 373.6,302.0 374.6,302.8 375.7,302.5 376.8,302.8 377.9,302.7 378.9,302.3" fill="none" stroke="#1f8c8c" stroke-width="1.15" stroke-linejoin="round"/><polyline points="55.7,286.5 56.8,285.6 57.9,286.0 58.9,285.9 60.0,286.1 61.1,287.5 62.2,287.5 63.2,289.0 64.3,288.5 65.4,290.0 66.5,289.3 67.6,289.4 68.6,291.8 69.7,291.7 70.8,292.4 71.9,295.8 72.9,294.1 74.0,296.9 75.1,297.7 76.2,298.5 77.2,299.5 78.3,300.3 79.4,300.3 80.5,300.8 81.6,301.3 82.6,301.8 83.7,301.9 84.8,302.7 85.9,302.8 86.9,302.2 88.0,303.0 89.1,302.3 90.2,302.8 91.3,303.4 92.3,303.1 93.4,303.0 94.5,302.7 95.6,302.6 96.6,302.5 97.7,302.6 98.8,302.3 99.9,303.5 101.0,302.6 102.0,302.2 103.1,303.1 104.2,302.5 105.3,302.4 106.3,303.1 107.4,303.6 108.5,303.1 109.6,302.9 110.7,302.4 111.7,301.5 112.8,299.8 113.9,297.8 115.0,295.4 116.0,292.9 117.1,289.8 118.2,287.9 119.3,286.0 120.4,285.8 121.4,286.1 122.5,285.0 123.6,286.2 124.7,285.4 125.7,285.7 126.8,288.0 127.9,285.8 129.0,289.5 130.0,290.7 131.1,291.2 132.2,291.9 133.3,292.1 134.4,292.0 135.4,293.7 136.5,293.8 137.6,296.9 138.7,296.7 139.7,298.5 140.8,299.2 141.9,298.7 143.0,299.5 144.1,300.7 145.1,301.5 146.2,301.7 147.3,302.2 148.4,301.8 149.4,301.3 150.5,301.2 151.6,301.1 152.7,301.3 153.8,300.8 154.8,300.8 155.9,300.4 157.0,301.2 158.1,301.1 159.1,301.4 160.2,301.6 161.3,301.9 162.4,302.2 163.4,302.1 164.5,303.0 165.6,303.0 166.7,303.0 167.8,302.9 168.8,302.8 169.9,301.2 171.0,299.7 172.1,297.5 173.1,294.5 174.2,291.0 175.3,289.9 176.4,286.6 177.5,285.7 178.5,283.7 179.6,282.8 180.7,284.1 181.8,284.0 182.8,283.9 183.9,286.0 185.0,285.8 186.1,288.5 187.2,287.3 188.2,288.2 189.3,289.4 190.4,288.5 191.5,291.1 192.5,292.7 193.6,293.8 194.7,294.7 195.8,297.2 196.9,296.6 197.9,298.0 199.0,298.5 200.1,299.2 201.2,299.7 202.2,301.1 203.3,301.6 204.4,302.0 205.5,302.2 206.6,302.7 207.6,302.2 208.7,302.0 209.8,300.9 210.9,299.5 211.9,299.4 213.0,298.5 214.1,299.3 215.2,299.7 216.2,300.7 217.3,302.5 218.4,302.7 219.5,303.2 220.6,302.5 221.6,303.2 222.7,302.4 223.8,302.8 224.9,302.6 225.9,303.0 227.0,302.6 228.1,300.3 229.2,298.0 230.3,295.0 231.3,291.8 232.4,290.6 233.5,287.3 234.6,286.5 235.6,284.2 236.7,285.8 237.8,285.3 238.9,284.7 240.0,285.5 241.0,285.8 242.1,286.1 243.2,287.1 244.3,287.9 245.3,290.0 246.4,288.6 247.5,290.1 248.6,290.6 249.7,293.3 250.7,293.5 251.8,296.9 252.9,296.0 254.0,297.3 255.0,298.1 256.1,298.6 257.2,299.8 258.3,300.2 259.3,301.7 260.4,300.7 261.5,302.4 262.6,302.8 263.7,303.1 264.7,302.3 265.8,303.5 266.9,303.0 268.0,302.1 269.0,303.2 270.1,303.0 271.2,303.1 272.3,302.4 273.4,303.0 274.4,302.7 275.5,303.0 276.6,303.0 277.7,303.5 278.7,302.6 279.8,302.8 280.9,303.0 282.0,302.6 283.1,302.9 284.1,302.5 285.2,301.3 286.3,299.2 287.4,297.2 288.4,293.4 289.5,290.8 290.6,289.0 291.7,286.9 292.8,284.0 293.8,284.0 294.9,285.2 296.0,285.6 297.1,282.9 298.1,286.1 299.2,286.3 300.3,286.5 301.4,287.9 302.4,286.2 303.5,289.4 304.6,290.4 305.7,290.4 306.8,292.4 307.8,293.6 308.9,293.1 310.0,293.9 311.1,294.6 312.1,296.9 313.2,298.2 314.3,299.0 315.4,300.0 316.5,300.3 317.5,300.9 318.6,301.5 319.7,301.3 320.8,301.4 321.8,302.1 322.9,300.9 324.0,301.7 325.1,301.7 326.2,301.4 327.2,301.8 328.3,302.5 329.4,302.3 330.5,302.4 331.5,303.0 332.6,303.8 333.7,302.2 334.8,303.3 335.9,302.9 336.9,301.9 338.0,303.0 339.1,302.5 340.2,303.2 341.2,302.0 342.3,302.9 343.4,300.9 344.5,299.7 345.5,296.8 346.6,293.9 347.7,292.5 348.8,290.3 349.9,289.1 350.9,286.1 352.0,284.5 353.1,285.9 354.2,285.7 355.2,285.3 356.3,286.1 357.4,286.4 358.5,287.1 359.6,288.8 360.6,289.7 361.7,289.8 362.8,291.3 363.9,291.4 364.9,293.9 366.0,293.2 367.1,293.6 368.2,294.2 369.3,296.4 370.3,297.1 371.4,297.3 372.5,298.6 373.6,299.8 374.6,301.0 375.7,301.0 376.8,301.6 377.9,302.6 378.9,302.7" fill="none" stroke="#5f8f22" stroke-width="1.15" stroke-linejoin="round"/><polyline points="55.7,284.5 56.8,281.6 57.9,281.7 58.9,282.4 60.0,284.6 61.1,282.7 62.2,281.6 63.2,285.8 64.3,285.3 65.4,286.9 66.5,286.1 67.6,287.3 68.6,287.9 69.7,290.0 70.8,290.4 71.9,290.7 72.9,292.3 74.0,293.1 75.1,293.2 76.2,295.7 77.2,297.5 78.3,297.9 79.4,299.4 80.5,300.4 81.6,301.3 82.6,300.9 83.7,302.1 84.8,302.5 85.9,302.2 86.9,302.6 88.0,303.4 89.1,302.6 90.2,301.5 91.3,303.0 92.3,302.2 93.4,301.1 94.5,301.8 95.6,301.3 96.6,301.1 97.7,301.3 98.8,301.6 99.9,301.7 101.0,302.0 102.0,301.9 103.1,302.3 104.2,302.2 105.3,303.0 106.3,302.6 107.4,303.4 108.5,303.4 109.6,303.0 110.7,302.2 111.7,301.6 112.8,299.1 113.9,296.3 115.0,293.9 116.0,289.5 117.1,288.0 118.2,285.4 119.3,285.7 120.4,280.8 121.4,281.8 122.5,282.7 123.6,283.3 124.7,284.2 125.7,283.6 126.8,283.7 127.9,285.6 129.0,285.8 130.0,287.7 131.1,286.9 132.2,287.5 133.3,289.0 134.4,289.8 135.4,293.1 136.5,293.1 137.6,294.7 138.7,295.6 139.7,296.1 140.8,296.7 141.9,298.6 143.0,299.7 144.1,300.3 145.1,301.3 146.2,302.5 147.3,301.3 148.4,302.7 149.4,302.7 150.5,301.6 151.6,302.7 152.7,303.0 153.8,301.5 154.8,301.1 155.9,301.3 157.0,302.3 158.1,302.4 159.1,302.9 160.2,303.1 161.3,302.2 162.4,303.0 163.4,303.6 164.5,303.6 165.6,303.3 166.7,303.6 167.8,302.7 168.8,303.1 169.9,302.5 171.0,300.4 172.1,296.3 173.1,293.2 174.2,289.0 175.3,288.9 176.4,284.2 177.5,282.6 178.5,281.9 179.6,280.7 180.7,280.6 181.8,282.3 182.8,281.7 183.9,283.6 185.0,282.6 186.1,284.3 187.2,285.3 188.2,284.8 189.3,286.0 190.4,289.5 191.5,288.6 192.5,289.4 193.6,289.9 194.7,292.8 195.8,295.0 196.9,294.5 197.9,296.3 199.0,298.3 200.1,298.9 201.2,299.1 202.2,299.9 203.3,300.9 204.4,301.9 205.5,302.1 206.6,302.5 207.6,302.3 208.7,302.5 209.8,303.1 210.9,302.3 211.9,303.2 213.0,303.3 214.1,302.5 215.2,302.8 216.2,302.6 217.3,302.7 218.4,303.0 219.5,302.7 220.6,303.1 221.6,302.0 222.7,303.0 223.8,302.2 224.9,302.5 225.9,302.5 227.0,302.0 228.1,299.4 229.2,296.5 230.3,292.4 231.3,290.4 232.4,286.1 233.5,284.8 234.6,281.5 235.6,281.3 236.7,280.9 237.8,281.2 238.9,283.1 240.0,282.2 241.0,284.3 242.1,284.1 243.2,282.3 244.3,285.2 245.3,286.1 246.4,288.1 247.5,289.1 248.6,287.9 249.7,290.0 250.7,291.9 251.8,292.4 252.9,295.4 254.0,295.0 255.0,295.9 256.1,298.2 257.2,298.5 258.3,299.2 259.3,300.2 260.4,301.3 261.5,301.8 262.6,302.3 263.7,302.7 264.7,302.2 265.8,302.4 266.9,302.8 268.0,302.1 269.0,301.8 270.1,302.5 271.2,302.3 272.3,301.8 273.4,302.0 274.4,301.6 275.5,302.2 276.6,302.2 277.7,302.9 278.7,302.7 279.8,302.7 280.9,303.6 282.0,302.9 283.1,303.6 284.1,303.2 285.2,301.1 286.3,299.4 287.4,296.8 288.4,293.3 289.5,288.5 290.6,287.9 291.7,286.8 292.8,282.3 293.8,282.5 294.9,284.4 296.0,283.3 297.1,284.9 298.1,284.6 299.2,284.7 300.3,285.8 301.4,285.4 302.4,287.1 303.5,287.9 304.6,287.9 305.7,290.0 306.8,289.7 307.8,290.9 308.9,291.4 310.0,293.8 311.1,295.0 312.1,295.6 313.2,296.8 314.3,297.9 315.4,298.5 316.5,300.1 317.5,300.6 318.6,301.3 319.7,302.0 320.8,302.1 321.8,302.5 322.9,303.1 324.0,302.7 325.1,301.5 326.2,302.4 327.2,302.3 328.3,302.5 329.4,302.6 330.5,301.7 331.5,300.9 332.6,300.8 333.7,300.5 334.8,301.1 335.9,301.4 336.9,300.9 338.0,301.5 339.1,302.1 340.2,302.4 341.2,302.8 342.3,303.3 343.4,302.4 344.5,299.0 345.5,296.6 346.6,294.0 347.7,289.7 348.8,287.7 349.9,286.6 350.9,284.1 352.0,283.7 353.1,282.7 354.2,282.9 355.2,284.5 356.3,283.2 357.4,284.5 358.5,286.8 359.6,287.4 360.6,287.3 361.7,288.2 362.8,290.4 363.9,289.4 364.9,291.6 366.0,293.1 367.1,293.2 368.2,292.7 369.3,296.3 370.3,296.7 371.4,296.7 372.5,298.8 373.6,298.9 374.6,299.4 375.7,300.5 376.8,301.8 377.9,302.3 378.9,302.2" fill="none" stroke="#8f9a2c" stroke-width="1.15" stroke-linejoin="round"/><polyline points="55.7,289.6 56.8,289.6 57.9,288.0 58.9,289.9 60.0,288.9 61.1,290.5 62.2,289.6 63.2,291.6 64.3,291.6 65.4,291.7 66.5,291.8 67.6,295.5 68.6,296.8 69.7,296.9 70.8,297.1 71.9,298.1 72.9,298.7 74.0,298.9 75.1,300.2 76.2,301.3 77.2,301.2 78.3,302.2 79.4,304.0 80.5,302.8 81.6,303.3 82.6,303.6 83.7,303.9 84.8,303.6 85.9,302.6 86.9,303.4 88.0,303.8 89.1,303.3 90.2,304.0 91.3,303.1 92.3,303.2 93.4,303.6 94.5,303.2 95.6,303.9 96.6,303.6 97.7,303.5 98.8,303.5 99.9,302.7 101.0,303.3 102.0,303.9 103.1,303.6 104.2,303.8 105.3,303.3 106.3,304.2 107.4,303.1 108.5,303.8 109.6,303.2 110.7,302.7 111.7,301.7 112.8,300.9 113.9,298.4 115.0,297.3 116.0,293.8 117.1,291.6 118.2,288.7 119.3,288.4 120.4,287.7 121.4,288.9 122.5,289.3 123.6,289.0 124.7,289.9 125.7,290.3 126.8,290.8 127.9,290.1 129.0,292.2 130.0,290.8 131.1,293.0 132.2,295.0 133.3,295.4 134.4,296.0 135.4,298.3 136.5,298.3 137.6,298.9 138.7,300.3 139.7,301.7 140.8,302.4 141.9,302.2 143.0,302.8 144.1,302.8 145.1,303.9 146.2,303.4 147.3,302.9 148.4,303.2 149.4,303.8 150.5,303.5 151.6,303.6 152.7,302.6 153.8,302.8 154.8,303.6 155.9,303.5 157.0,303.4 158.1,303.3 159.1,303.6 160.2,303.7 161.3,303.8 162.4,303.2 163.4,303.2 164.5,303.6 165.6,303.6 166.7,303.1 167.8,303.4 168.8,304.3 169.9,302.2 171.0,300.4 172.1,298.0 173.1,296.0 174.2,294.0 175.3,290.8 176.4,288.9 177.5,289.0 178.5,287.9 179.6,287.9 180.7,288.5 181.8,285.8 182.8,288.7 183.9,289.5 185.0,290.9 186.1,291.7 187.2,291.6 188.2,292.1 189.3,294.0 190.4,294.9 191.5,295.9 192.5,296.3 193.6,297.2 194.7,299.1 195.8,299.2 196.9,300.7 197.9,301.5 199.0,301.5 200.1,302.0 201.2,301.9 202.2,303.1 203.3,302.6 204.4,303.5 205.5,303.6 206.6,303.1 207.6,303.9 208.7,303.4 209.8,303.2 210.9,304.1 211.9,303.4 213.0,303.2 214.1,304.3 215.2,303.8 216.2,303.3 217.3,303.8 218.4,303.9 219.5,304.2 220.6,302.9 221.6,303.4 222.7,303.6 223.8,303.6 224.9,303.4 225.9,303.2 227.0,301.9 228.1,299.9 229.2,298.3 230.3,295.3 231.3,292.4 232.4,291.4 233.5,289.7 234.6,287.6 235.6,287.5 236.7,288.5 237.8,288.1 238.9,289.0 240.0,288.1 241.0,289.0 242.1,290.5 243.2,290.5 244.3,290.7 245.3,292.9 246.4,294.7 247.5,294.6 248.6,293.9 249.7,295.9 250.7,297.5 251.8,298.4 252.9,299.2 254.0,299.5 255.0,300.4 256.1,302.6 257.2,301.8 258.3,302.5 259.3,303.3 260.4,303.3 261.5,303.6 262.6,304.4 263.7,303.6 264.7,303.5 265.8,304.1 266.9,303.5 268.0,303.6 269.0,303.4 270.1,303.6 271.2,304.1 272.3,303.3 273.4,303.8 274.4,304.0 275.5,303.2 276.6,303.6 277.7,302.9 278.7,303.3 279.8,304.5 280.9,303.0 282.0,303.8 283.1,303.6 284.1,303.1 285.2,302.2 286.3,299.9 287.4,298.3 288.4,296.4 289.5,293.7 290.6,291.1 291.7,290.6 292.8,289.0 293.8,288.7 294.9,287.3 296.0,289.9 297.1,290.0 298.1,289.8 299.2,290.4 300.3,290.2 301.4,291.5 302.4,292.5 303.5,292.5 304.6,294.1 305.7,294.9 306.8,296.1 307.8,296.8 308.9,298.5 310.0,299.0 311.1,299.3 312.1,300.4 313.2,302.1 314.3,301.7 315.4,302.7 316.5,303.3 317.5,303.5 318.6,303.3 319.7,303.6 320.8,302.6 321.8,303.6 322.9,303.5 324.0,303.0 325.1,303.9 326.2,303.7 327.2,303.7 328.3,303.4 329.4,303.0 330.5,303.8 331.5,302.9 332.6,303.8 333.7,303.5 334.8,303.2 335.9,303.4 336.9,303.2 338.0,303.5 339.1,303.0 340.2,303.3 341.2,303.1 342.3,303.2 343.4,302.4 344.5,300.7 345.5,297.2 346.6,295.9 347.7,291.4 348.8,289.9 349.9,290.7 350.9,289.4 352.0,288.0 353.1,287.5 354.2,288.7 355.2,288.5 356.3,290.3 357.4,290.1 358.5,289.5 359.6,291.9 360.6,291.5 361.7,295.0 362.8,294.3 363.9,294.7 364.9,297.2 366.0,297.6 367.1,298.2 368.2,298.6 369.3,299.3 370.3,300.0 371.4,301.7 372.5,301.3 373.6,302.3 374.6,303.0 375.7,303.6 376.8,303.5 377.9,303.1 378.9,303.3" fill="none" stroke="#fbc561" stroke-width="1.15" stroke-linejoin="round"/><polyline points="55.7,283.4 56.8,282.4 57.9,282.1 58.9,283.1 60.0,282.4 61.1,281.7 62.2,285.7 63.2,285.8 64.3,287.3 65.4,286.2 66.5,287.8 67.6,287.8 68.6,288.1 69.7,290.3 70.8,293.9 71.9,293.9 72.9,294.0 74.0,295.4 75.1,297.0 76.2,298.3 77.2,299.2 78.3,299.2 79.4,300.6 80.5,301.9 81.6,302.3 82.6,302.6 83.7,302.8 84.8,302.9 85.9,302.7 86.9,302.8 88.0,302.2 89.1,302.7 90.2,302.8 91.3,302.4 92.3,302.0 93.4,301.8 94.5,301.8 95.6,301.1 96.6,299.7 97.7,300.4 98.8,299.6 99.9,300.0 101.0,299.9 102.0,300.9 103.1,301.5 104.2,301.9 105.3,302.3 106.3,302.6 107.4,301.9 108.5,301.8 109.6,303.0 110.7,302.4 111.7,301.3 112.8,299.2 113.9,296.7 115.0,293.6 116.0,290.2 117.1,288.2 118.2,287.6 119.3,285.0 120.4,285.9 121.4,284.3 122.5,285.3 123.6,285.1 124.7,286.6 125.7,288.3 126.8,287.9 127.9,287.9 129.0,289.8 130.0,289.7 131.1,289.7 132.2,292.3 133.3,292.2 134.4,293.7 135.4,295.2 136.5,295.9 137.6,296.7 138.7,298.1 139.7,298.9 140.8,300.1 141.9,301.2 143.0,300.6 144.1,302.1 145.1,301.9 146.2,302.6 147.3,302.4 148.4,302.9 149.4,302.3 150.5,302.1 151.6,302.9 152.7,302.7 153.8,302.9 154.8,302.8 155.9,302.5 157.0,302.3 158.1,302.0 159.1,302.0 160.2,301.9 161.3,302.6 162.4,302.0 163.4,302.4 164.5,302.3 165.6,302.2 166.7,302.3 167.8,302.7 168.8,302.1 169.9,301.5 171.0,299.7 172.1,296.6 173.1,293.9 174.2,290.2 175.3,287.9 176.4,286.0 177.5,284.7 178.5,283.2 179.6,285.3 180.7,284.2 181.8,285.1 182.8,285.2 183.9,285.3 185.0,285.2 186.1,286.5 187.2,288.1 188.2,289.5 189.3,290.5 190.4,289.8 191.5,292.0 192.5,295.1 193.6,296.1 194.7,296.2 195.8,297.2 196.9,297.8 197.9,298.3 199.0,299.8 200.1,300.8 201.2,301.8 202.2,301.5 203.3,302.1 204.4,303.0 205.5,302.5 206.6,302.7 207.6,302.5 208.7,302.7 209.8,302.8 210.9,302.6 211.9,303.0 213.0,303.7 214.1,303.2 215.2,302.8 216.2,302.3 217.3,303.4 218.4,302.6 219.5,304.0 220.6,302.9 221.6,302.3 222.7,303.0 223.8,303.0 224.9,302.8 225.9,302.1 227.0,301.1 228.1,299.5 229.2,296.7 230.3,292.4 231.3,291.3 232.4,289.2 233.5,287.1 234.6,284.5 235.6,284.5 236.7,286.1 237.8,286.4 238.9,285.8 240.0,286.0 241.0,288.7 242.1,287.8 243.2,286.1 244.3,289.2 245.3,289.4 246.4,290.6 247.5,291.9 248.6,293.6 249.7,294.9 250.7,294.4 251.8,295.8 252.9,297.1 254.0,297.7 255.0,299.1 256.1,300.5 257.2,301.0 258.3,301.1 259.3,301.6 260.4,302.1 261.5,303.4 262.6,302.8 263.7,302.9 264.7,302.8 265.8,303.1 266.9,302.9 268.0,302.3 269.0,303.2 270.1,303.0 271.2,302.1 272.3,303.2 273.4,302.8 274.4,302.5 275.5,303.3 276.6,301.9 277.7,303.3 278.7,302.5 279.8,302.5 280.9,302.9 282.0,302.4 283.1,302.8 284.1,302.1 285.2,300.9 286.3,298.4 287.4,295.4 288.4,293.8 289.5,289.1 290.6,287.1 291.7,284.6 292.8,283.0 293.8,282.6 294.9,282.7 296.0,281.8 297.1,283.7 298.1,286.3 299.2,285.0 300.3,285.8 301.4,286.0 302.4,287.0 303.5,288.9 304.6,290.5 305.7,289.9 306.8,292.6 307.8,293.4 308.9,294.1 310.0,296.4 311.1,296.5 312.1,297.4 313.2,298.3 314.3,299.6 315.4,300.8 316.5,301.5 317.5,301.5 318.6,302.8 319.7,302.7 320.8,303.0 321.8,303.6 322.9,302.8 324.0,303.3 325.1,302.3 326.2,303.4 327.2,303.2 328.3,303.3 329.4,303.4 330.5,303.0 331.5,302.9 332.6,302.6 333.7,302.8 334.8,302.4 335.9,302.6 336.9,303.4 338.0,302.6 339.1,303.5 340.2,303.4 341.2,303.5 342.3,302.7 343.4,301.0 344.5,298.7 345.5,295.6 346.6,293.5 347.7,290.1 348.8,286.7 349.9,283.6 350.9,283.4 352.0,282.4 353.1,283.1 354.2,282.6 355.2,283.7 356.3,284.4 357.4,283.6 358.5,285.8 359.6,287.3 360.6,287.7 361.7,288.1 362.8,290.7 363.9,291.0 364.9,293.4 366.0,291.7 367.1,292.8 368.2,295.1 369.3,295.6 370.3,298.1 371.4,298.8 372.5,299.5 373.6,300.6 374.6,301.1 375.7,301.4 376.8,302.1 377.9,302.3 378.9,302.9" fill="none" stroke="#f58a1f" stroke-width="1.15" stroke-linejoin="round"/><polyline points="55.7,285.9 56.8,282.4 57.9,284.3 58.9,283.3 60.0,282.2 61.1,283.2 62.2,284.9 63.2,286.1 64.3,285.1 65.4,286.6 66.5,286.2 67.6,287.0 68.6,288.5 69.7,288.7 70.8,290.9 71.9,292.0 72.9,291.8 74.0,292.9 75.1,294.8 76.2,294.8 77.2,296.8 78.3,297.9 79.4,298.7 80.5,299.7 81.6,299.9 82.6,301.2 83.7,301.7 84.8,301.8 85.9,301.5 86.9,302.4 88.0,301.9 89.1,301.1 90.2,301.5 91.3,302.1 92.3,301.6 93.4,302.0 94.5,301.4 95.6,302.0 96.6,302.7 97.7,301.9 98.8,302.4 99.9,303.4 101.0,301.9 102.0,302.8 103.1,303.2 104.2,303.0 105.3,303.1 106.3,303.0 107.4,302.6 108.5,303.6 109.6,302.5 110.7,302.7 111.7,302.4 112.8,300.2 113.9,298.3 115.0,293.4 116.0,291.7 117.1,289.7 118.2,287.8 119.3,285.9 120.4,285.4 121.4,283.0 122.5,285.6 123.6,285.0 124.7,285.9 125.7,285.1 126.8,286.0 127.9,286.0 129.0,286.4 130.0,288.6 131.1,288.1 132.2,289.7 133.3,290.6 134.4,292.1 135.4,292.5 136.5,294.0 137.6,294.8 138.7,295.9 139.7,296.3 140.8,297.8 141.9,298.0 143.0,299.5 144.1,298.8 145.1,301.1 146.2,300.5 147.3,302.5 148.4,303.0 149.4,303.0 150.5,302.7 151.6,303.3 152.7,303.0 153.8,303.0 154.8,303.3 155.9,303.0 157.0,303.9 158.1,303.4 159.1,303.4 160.2,302.5 161.3,303.6 162.4,302.7 163.4,302.8 164.5,303.3 165.6,303.0 166.7,303.9 167.8,303.0 168.8,303.2 169.9,302.3 171.0,299.9 172.1,296.9 173.1,294.3 174.2,291.4 175.3,287.5 176.4,285.0 177.5,284.2 178.5,281.4 179.6,283.6 180.7,283.2 181.8,282.1 182.8,283.5 183.9,284.7 185.0,285.1 186.1,286.4 187.2,285.4 188.2,288.1 189.3,288.7 190.4,288.6 191.5,288.5 192.5,290.7 193.6,292.6 194.7,292.6 195.8,294.0 196.9,294.7 197.9,296.6 199.0,297.5 200.1,298.5 201.2,298.9 202.2,299.8 203.3,300.4 204.4,301.5 205.5,301.8 206.6,302.5 207.6,302.4 208.7,302.4 209.8,302.8 210.9,303.1 211.9,303.2 213.0,302.4 214.1,303.0 215.2,303.3 216.2,302.5 217.3,302.7 218.4,303.6 219.5,302.5 220.6,302.8 221.6,302.2 222.7,303.1 223.8,303.2 224.9,302.6 225.9,303.5 227.0,301.9 228.1,300.0 229.2,297.8 230.3,292.8 231.3,291.2 232.4,288.0 233.5,285.7 234.6,283.9 235.6,283.0 236.7,282.2 237.8,283.8 238.9,282.6 240.0,283.8 241.0,284.0 242.1,284.2 243.2,284.5 244.3,284.9 245.3,287.0 246.4,287.9 247.5,288.5 248.6,289.1 249.7,291.7 250.7,293.1 251.8,293.9 252.9,293.2 254.0,295.8 255.0,296.3 256.1,297.7 257.2,298.7 258.3,298.6 259.3,299.6 260.4,299.9 261.5,300.9 262.6,301.8 263.7,302.5 264.7,302.4 265.8,302.1 266.9,303.5 268.0,302.7 269.0,302.2 270.1,302.1 271.2,302.8 272.3,303.3 273.4,302.8 274.4,303.1 275.5,302.6 276.6,302.5 277.7,302.8 278.7,303.3 279.8,302.8 280.9,302.8 282.0,302.3 283.1,302.9 284.1,302.8 285.2,301.6 286.3,299.3 287.4,297.2 288.4,294.0 289.5,289.5 290.6,285.1 291.7,284.1 292.8,281.7 293.8,281.7 294.9,281.8 296.0,282.6 297.1,282.2 298.1,283.5 299.2,282.6 300.3,285.3 301.4,284.9 302.4,287.3 303.5,288.5 304.6,287.5 305.7,287.2 306.8,289.7 307.8,291.4 308.9,291.8 310.0,293.5 311.1,294.9 312.1,294.4 313.2,295.7 314.3,297.7 315.4,297.5 316.5,299.2 317.5,299.8 318.6,300.6 319.7,301.1 320.8,302.5 321.8,302.2 322.9,301.8 324.0,302.9 325.1,302.8 326.2,303.0 327.2,303.1 328.3,302.6 329.4,303.2 330.5,303.8 331.5,303.5 332.6,302.9 333.7,302.6 334.8,303.3 335.9,303.4 336.9,303.1 338.0,302.6 339.1,302.8 340.2,302.9 341.2,302.9 342.3,302.9 343.4,302.1 344.5,299.0 345.5,297.2 346.6,294.4 347.7,290.9 348.8,289.6 349.9,287.1 350.9,285.7 352.0,284.4 353.1,283.8 354.2,285.1 355.2,284.9 356.3,284.6 357.4,286.1 358.5,285.3 359.6,285.9 360.6,287.3 361.7,285.9 362.8,289.2 363.9,289.3 364.9,290.2 366.0,289.7 367.1,292.3 368.2,293.9 369.3,292.9 370.3,296.3 371.4,296.8 372.5,297.6 373.6,298.8 374.6,298.9 375.7,299.8 376.8,301.0 377.9,301.2 378.9,302.3" fill="none" stroke="#9c5326" stroke-width="1.15" stroke-linejoin="round"/><polyline points="55.7,287.2 56.8,285.6 57.9,284.8 58.9,287.6 60.0,285.4 61.1,287.0 62.2,286.7 63.2,285.4 64.3,287.6 65.4,289.4 66.5,287.9 67.6,290.3 68.6,289.0 69.7,290.6 70.8,291.6 71.9,291.6 72.9,294.1 74.0,296.8 75.1,296.6 76.2,296.9 77.2,298.1 78.3,298.6 79.4,298.6 80.5,300.8 81.6,300.3 82.6,301.6 83.7,301.8 84.8,302.2 85.9,302.3 86.9,302.2 88.0,302.5 89.1,302.5 90.2,302.9 91.3,303.0 92.3,302.5 93.4,302.3 94.5,302.4 95.6,302.3 96.6,303.2 97.7,302.8 98.8,302.6 99.9,303.0 101.0,302.4 102.0,302.6 103.1,302.6 104.2,303.2 105.3,303.0 106.3,303.9 107.4,302.5 108.5,302.7 109.6,302.9 110.7,302.8 111.7,302.3 112.8,300.2 113.9,299.3 115.0,295.8 116.0,294.0 117.1,290.4 118.2,287.0 119.3,285.5 120.4,284.6 121.4,284.9 122.5,285.2 123.6,283.4 124.7,285.1 125.7,285.9 126.8,284.8 127.9,285.8 129.0,286.3 130.0,288.3 131.1,289.9 132.2,288.6 133.3,289.0 134.4,291.4 135.4,291.6 136.5,294.1 137.6,294.4 138.7,295.8 139.7,296.4 140.8,296.9 141.9,298.2 143.0,299.0 144.1,300.2 145.1,300.9 146.2,301.3 147.3,302.0 148.4,301.7 149.4,302.9 150.5,302.4 151.6,302.5 152.7,303.3 153.8,302.3 154.8,301.7 155.9,302.0 157.0,302.9 158.1,302.6 159.1,302.7 160.2,302.4 161.3,302.7 162.4,302.8 163.4,302.7 164.5,302.1 165.6,303.0 166.7,302.7 167.8,302.6 168.8,302.4 169.9,302.3 171.0,300.9 172.1,299.0 173.1,296.0 174.2,294.8 175.3,291.0 176.4,287.6 177.5,284.8 178.5,285.1 179.6,285.2 180.7,287.2 181.8,285.6 182.8,285.7 183.9,287.3 185.0,288.1 186.1,287.0 187.2,288.1 188.2,288.9 189.3,288.5 190.4,291.1 191.5,292.0 192.5,291.3 193.6,293.2 194.7,293.6 195.8,296.4 196.9,295.5 197.9,297.3 199.0,298.4 200.1,298.7 201.2,299.7 202.2,301.0 203.3,301.1 204.4,301.2 205.5,302.1 206.6,302.0 207.6,303.0 208.7,302.5 209.8,302.5 210.9,303.0 211.9,302.2 213.0,301.8 214.1,302.0 215.2,302.3 216.2,301.7 217.3,301.5 218.4,302.3 219.5,301.1 220.6,301.7 221.6,302.1 222.7,302.2 223.8,303.0 224.9,302.2 225.9,302.4 227.0,302.8 228.1,301.2 229.2,298.2 230.3,296.7 231.3,292.8 232.4,290.3 233.5,286.3 234.6,287.0 235.6,284.7 236.7,284.8 237.8,284.5 238.9,284.7 240.0,285.3 241.0,285.1 242.1,285.7 243.2,286.4 244.3,287.6 245.3,287.4 246.4,287.9 247.5,287.7 248.6,290.5 249.7,290.6 250.7,292.3 251.8,294.2 252.9,295.2 254.0,295.2 255.0,296.4 256.1,297.6 257.2,298.7 258.3,298.9 259.3,299.4 260.4,300.4 261.5,301.8 262.6,302.1 263.7,302.6 264.7,302.2 265.8,302.7 266.9,302.4 268.0,302.7 269.0,302.3 270.1,303.1 271.2,302.8 272.3,302.0 273.4,301.9 274.4,303.2 275.5,302.9 276.6,303.4 277.7,302.7 278.7,302.7 279.8,302.2 280.9,303.1 282.0,302.6 283.1,302.7 284.1,303.4 285.2,302.7 286.3,300.6 287.4,298.1 288.4,295.3 289.5,291.7 290.6,287.7 291.7,285.1 292.8,284.8 293.8,282.7 294.9,284.1 296.0,284.3 297.1,283.4 298.1,284.1 299.2,284.1 300.3,284.1 301.4,285.4 302.4,284.8 303.5,286.3 304.6,286.5 305.7,288.8 306.8,289.6 307.8,290.3 308.9,291.0 310.0,294.4 311.1,294.5 312.1,295.7 313.2,296.1 314.3,297.4 315.4,298.0 316.5,299.3 317.5,300.2 318.6,300.1 319.7,301.6 320.8,302.2 321.8,301.8 322.9,302.3 324.0,302.7 325.1,302.4 326.2,302.9 327.2,301.8 328.3,302.8 329.4,303.1 330.5,302.2 331.5,303.5 332.6,302.9 333.7,302.9 334.8,302.6 335.9,302.2 336.9,302.3 338.0,302.1 339.1,302.9 340.2,303.0 341.2,303.1 342.3,303.1 343.4,302.4 344.5,300.3 345.5,298.8 346.6,293.7 347.7,291.8 348.8,290.2 349.9,285.7 350.9,284.4 352.0,282.4 353.1,283.1 354.2,283.6 355.2,283.1 356.3,284.2 357.4,286.1 358.5,284.8 359.6,285.2 360.6,288.1 361.7,286.8 362.8,288.5 363.9,288.7 364.9,289.3 366.0,291.3 367.1,292.8 368.2,294.6 369.3,296.0 370.3,295.0 371.4,296.1 372.5,297.8 373.6,297.4 374.6,299.0 375.7,300.2 376.8,300.5 377.9,301.3 378.9,302.1" fill="none" stroke="#f01818" stroke-width="1.15" stroke-linejoin="round"/><polyline points="55.7,283.0 56.8,283.3 57.9,279.3 58.9,280.4 60.0,280.4 61.1,280.4 62.2,282.2 63.2,282.0 64.3,281.9 65.4,282.0 66.5,282.9 67.6,283.9 68.6,285.3 69.7,286.1 70.8,286.3 71.9,287.9 72.9,287.0 74.0,289.7 75.1,292.3 76.2,292.1 77.2,293.9 78.3,293.6 79.4,295.5 80.5,296.4 81.6,298.6 82.6,297.7 83.7,299.6 84.8,300.7 85.9,301.2 86.9,301.6 88.0,301.6 89.1,302.6 90.2,302.3 91.3,302.3 92.3,303.0 93.4,302.3 94.5,302.1 95.6,302.1 96.6,302.6 97.7,302.2 98.8,303.6 99.9,302.3 101.0,302.9 102.0,302.5 103.1,302.6 104.2,303.9 105.3,303.1 106.3,302.7 107.4,302.3 108.5,303.1 109.6,302.7 110.7,302.7 111.7,302.6 112.8,301.3 113.9,299.2 115.0,296.6 116.0,292.5 117.1,289.6 118.2,287.3 119.3,283.5 120.4,283.9 121.4,280.2 122.5,281.0 123.6,281.1 124.7,282.0 125.7,281.4 126.8,282.6 127.9,283.2 129.0,284.3 130.0,284.3 131.1,284.7 132.2,284.9 133.3,286.8 134.4,287.9 135.4,288.5 136.5,290.3 137.6,291.0 138.7,290.5 139.7,292.7 140.8,293.9 141.9,294.8 143.0,296.3 144.1,297.4 145.1,297.8 146.2,298.4 147.3,299.3 148.4,300.6 149.4,301.4 150.5,301.0 151.6,301.7 152.7,301.3 153.8,302.3 154.8,302.6 155.9,302.9 157.0,302.4 158.1,303.2 159.1,302.6 160.2,303.3 161.3,301.8 162.4,302.0 163.4,303.6 164.5,302.2 165.6,302.8 166.7,302.3 167.8,302.1 168.8,303.0 169.9,302.8 171.0,301.6 172.1,298.9 173.1,295.8 174.2,293.1 175.3,289.0 176.4,286.6 177.5,283.8 178.5,282.4 179.6,279.6 180.7,280.4 181.8,280.5 182.8,279.8 183.9,280.3 185.0,281.2 186.1,281.0 187.2,282.3 188.2,283.2 189.3,282.3 190.4,284.8 191.5,286.1 192.5,285.8 193.6,287.7 194.7,288.0 195.8,290.2 196.9,291.2 197.9,291.7 199.0,294.5 200.1,294.9 201.2,295.0 202.2,297.1 203.3,297.1 204.4,298.6 205.5,300.0 206.6,300.7 207.6,300.9 208.7,301.6 209.8,302.2 210.9,302.1 211.9,302.3 213.0,302.5 214.1,303.1 215.2,302.9 216.2,302.4 217.3,302.5 218.4,302.6 219.5,302.4 220.6,303.0 221.6,302.5 222.7,301.8 223.8,302.9 224.9,302.6 225.9,302.8 227.0,302.8 228.1,300.8 229.2,298.8 230.3,297.6 231.3,293.8 232.4,290.8 233.5,288.0 234.6,286.5 235.6,283.6 236.7,282.4 237.8,281.9 238.9,282.4 240.0,283.9 241.0,284.8 242.1,283.6 243.2,284.0 244.3,284.6 245.3,284.6 246.4,286.1 247.5,284.4 248.6,287.7 249.7,288.2 250.7,289.8 251.8,290.7 252.9,291.9 254.0,292.5 255.0,294.3 256.1,293.9 257.2,295.0 258.3,296.6 259.3,296.7 260.4,298.6 261.5,299.0 262.6,301.0 263.7,300.8 264.7,301.3 265.8,301.5 266.9,301.7 268.0,302.3 269.0,303.0 270.1,303.3 271.2,301.8 272.3,302.7 273.4,303.7 274.4,302.7 275.5,302.6 276.6,302.9 277.7,303.1 278.7,302.0 279.8,302.9 280.9,302.4 282.0,302.6 283.1,302.9 284.1,302.8 285.2,302.1 286.3,301.4 287.4,298.9 288.4,296.0 289.5,293.8 290.6,289.2 291.7,287.5 292.8,285.1 293.8,282.1 294.9,281.1 296.0,281.6 297.1,282.0 298.1,283.0 299.2,283.6 300.3,283.8 301.4,283.7 302.4,285.0 303.5,285.6 304.6,286.5 305.7,289.4 306.8,288.3 307.8,288.9 308.9,291.2 310.0,290.5 311.1,291.1 312.1,293.2 313.2,295.6 314.3,294.8 315.4,295.7 316.5,296.2 317.5,296.4 318.6,297.7 319.7,297.6 320.8,298.4 321.8,298.4 322.9,299.4 324.0,299.4 325.1,300.3 326.2,300.9 327.2,302.3 328.3,301.1 329.4,301.9 330.5,301.7 331.5,301.5 332.6,302.7 333.7,302.8 334.8,302.2 335.9,302.8 336.9,302.8 338.0,302.2 339.1,302.2 340.2,302.9 341.2,303.0 342.3,302.9 343.4,302.2 344.5,301.1 345.5,298.3 346.6,296.5 347.7,293.0 348.8,286.7 349.9,285.2 350.9,282.6 352.0,280.7 353.1,280.9 354.2,280.8 355.2,280.8 356.3,281.5 357.4,283.6 358.5,282.2 359.6,283.4 360.6,282.6 361.7,282.2 362.8,282.6 363.9,285.5 364.9,284.4 366.0,288.2 367.1,289.3 368.2,288.4 369.3,289.7 370.3,290.7 371.4,294.2 372.5,294.2 373.6,296.8 374.6,296.1 375.7,297.0 376.8,298.1 377.9,299.2 378.9,300.5" fill="none" stroke="#9a1414" stroke-width="1.15" stroke-linejoin="round"/><polyline points="55.7,291.5 56.8,287.8 57.9,288.7 58.9,287.3 60.0,288.1 61.1,287.7 62.2,289.4 63.2,289.7 64.3,288.6 65.4,289.4 66.5,290.3 67.6,290.9 68.6,291.4 69.7,292.1 70.8,295.3 71.9,294.9 72.9,295.8 74.0,295.9 75.1,297.6 76.2,298.3 77.2,298.2 78.3,299.9 79.4,300.5 80.5,300.6 81.6,301.8 82.6,301.5 83.7,301.8 84.8,301.9 85.9,301.8 86.9,302.6 88.0,302.3 89.1,302.8 90.2,301.7 91.3,302.1 92.3,301.1 93.4,301.5 94.5,301.9 95.6,302.0 96.6,301.8 97.7,300.9 98.8,301.9 99.9,301.6 101.0,303.4 102.0,302.3 103.1,302.3 104.2,302.8 105.3,302.3 106.3,302.7 107.4,303.0 108.5,303.2 109.6,303.3 110.7,303.5 111.7,303.3 112.8,302.8 113.9,301.5 115.0,297.9 116.0,296.4 117.1,293.1 118.2,292.4 119.3,290.0 120.4,286.9 121.4,286.0 122.5,286.3 123.6,285.8 124.7,286.2 125.7,286.0 126.8,286.9 127.9,287.9 129.0,287.5 130.0,288.6 131.1,289.2 132.2,291.3 133.3,290.6 134.4,292.5 135.4,295.0 136.5,295.3 137.6,294.9 138.7,296.3 139.7,297.3 140.8,298.4 141.9,299.0 143.0,299.8 144.1,301.2 145.1,301.2 146.2,301.7 147.3,302.4 148.4,302.3 149.4,303.1 150.5,303.2 151.6,303.2 152.7,303.1 153.8,303.1 154.8,303.0 155.9,302.8 157.0,303.5 158.1,304.5 159.1,303.2 160.2,303.4 161.3,303.4 162.4,303.4 163.4,303.8 164.5,303.0 165.6,303.4 166.7,302.9 167.8,303.5 168.8,304.0 169.9,303.4 171.0,302.4 172.1,301.0 173.1,298.7 174.2,296.9 175.3,293.4 176.4,291.0 177.5,289.2 178.5,287.4 179.6,287.2 180.7,288.3 181.8,287.5 182.8,288.4 183.9,288.2 185.0,289.6 186.1,289.3 187.2,291.2 188.2,290.9 189.3,289.6 190.4,292.2 191.5,292.2 192.5,292.8 193.6,295.6 194.7,295.9 195.8,296.4 196.9,296.9 197.9,298.2 199.0,298.8 200.1,299.5 201.2,301.2 202.2,301.2 203.3,301.2 204.4,302.2 205.5,302.0 206.6,302.2 207.6,302.9 208.7,303.0 209.8,302.6 210.9,303.7 211.9,303.2 213.0,301.8 214.1,302.9 215.2,302.3 216.2,302.6 217.3,302.7 218.4,302.7 219.5,302.6 220.6,302.8 221.6,303.7 222.7,302.8 223.8,302.3 224.9,303.7 225.9,302.4 227.0,303.5 228.1,302.3 229.2,301.2 230.3,298.4 231.3,296.4 232.4,292.9 233.5,290.8 234.6,288.2 235.6,286.4 236.7,286.3 237.8,287.3 238.9,286.5 240.0,286.7 241.0,284.7 242.1,287.5 243.2,288.2 244.3,287.4 245.3,289.9 246.4,290.1 247.5,291.2 248.6,292.2 249.7,291.8 250.7,293.8 251.8,294.5 252.9,295.4 254.0,296.7 255.0,297.6 256.1,298.9 257.2,299.4 258.3,300.6 259.3,300.2 260.4,302.4 261.5,301.6 262.6,302.6 263.7,302.5 264.7,302.9 265.8,302.6 266.9,303.6 268.0,303.0 269.0,302.9 270.1,303.7 271.2,303.8 272.3,302.9 273.4,302.5 274.4,303.7 275.5,304.0 276.6,304.1 277.7,303.2 278.7,303.4 279.8,302.6 280.9,303.3 282.0,303.6 283.1,303.5 284.1,303.7 285.2,303.2 286.3,303.4 287.4,301.1 288.4,298.8 289.5,295.8 290.6,292.2 291.7,290.8 292.8,288.3 293.8,287.6 294.9,287.6 296.0,287.3 297.1,286.1 298.1,285.5 299.2,289.0 300.3,288.7 301.4,287.8 302.4,288.3 303.5,291.3 304.6,291.3 305.7,291.2 306.8,291.9 307.8,294.4 308.9,294.6 310.0,295.9 311.1,296.0 312.1,296.5 313.2,297.5 314.3,298.5 315.4,300.0 316.5,300.7 317.5,300.6 318.6,301.0 319.7,301.9 320.8,302.5 321.8,303.4 322.9,303.1 324.0,303.4 325.1,303.3 326.2,304.5 327.2,303.6 328.3,304.0 329.4,303.1 330.5,302.7 331.5,303.4 332.6,303.4 333.7,303.0 334.8,303.0 335.9,303.7 336.9,303.6 338.0,302.8 339.1,303.9 340.2,303.2 341.2,303.3 342.3,303.2 343.4,302.9 344.5,302.1 345.5,300.3 346.6,298.2 347.7,296.1 348.8,292.1 349.9,290.5 350.9,287.3 352.0,286.0 353.1,285.7 354.2,286.7 355.2,285.6 356.3,286.5 357.4,287.9 358.5,288.2 359.6,284.8 360.6,288.9 361.7,288.1 362.8,290.6 363.9,291.9 364.9,292.4 366.0,292.1 367.1,293.1 368.2,294.5 369.3,296.5 370.3,296.1 371.4,296.3 372.5,299.1 373.6,299.5 374.6,300.0 375.7,301.4 376.8,301.6 377.9,302.4 378.9,303.0" fill="none" stroke="#1a1a1a" stroke-width="1.15" stroke-linejoin="round"/></g><g clip-path="url(#cbot)"><polyline points="55.7,290.1 56.8,293.8 57.9,289.4 58.9,295.7 60.0,306.7 61.1,299.5 62.2,308.6 63.2,314.9 64.3,303.7 65.4,318.1 66.5,333.3 67.6,336.8 68.6,325.9 69.7,351.8 70.8,351.8 71.9,362.5 72.9,369.9 74.0,376.5 75.1,386.6 76.2,392.7 77.2,397.2 78.3,402.8 79.4,403.1 80.5,404.1 81.6,414.7 82.6,411.6 83.7,417.4 84.8,416.5 85.9,415.0 86.9,414.0 88.0,415.8 89.1,423.1 90.2,409.8 91.3,415.3 92.3,416.4 93.4,411.5 94.5,415.0 95.6,416.2 96.6,407.2 97.7,403.7 98.8,402.7 99.9,391.1 101.0,386.1 102.0,385.3 103.1,371.6 104.2,375.1 105.3,381.3 106.3,380.1 107.4,387.1 108.5,390.8 109.6,404.7 110.7,399.0 111.7,394.6 112.8,384.7 113.9,369.8 115.0,344.3 116.0,330.5 117.1,318.3 118.2,312.2 119.3,289.4 120.4,287.4 121.4,293.4 122.5,296.2 123.6,294.4 124.7,321.3 125.7,304.3 126.8,329.6 127.9,314.7 129.0,314.5 130.0,314.6 131.1,338.7 132.2,339.1 133.3,350.1 134.4,373.3 135.4,362.1 136.5,371.8 137.6,378.6 138.7,388.6 139.7,391.8 140.8,397.0 141.9,397.9 143.0,405.3 144.1,398.0 145.1,413.5 146.2,414.5 147.3,414.3 148.4,416.9 149.4,409.2 150.5,412.2 151.6,418.7 152.7,414.1 153.8,410.7 154.8,419.3 155.9,414.1 157.0,415.5 158.1,406.9 159.1,413.4 160.2,416.1 161.3,416.7 162.4,408.5 163.4,416.4 164.5,407.3 165.6,420.1 166.7,415.6 167.8,415.7 168.8,414.6 169.9,404.4 171.0,388.0 172.1,375.8 173.1,365.3 174.2,326.2 175.3,308.5 176.4,311.1 177.5,295.2 178.5,313.4 179.6,287.9 180.7,306.9 181.8,303.6 182.8,286.8 183.9,315.8 185.0,311.0 186.1,324.2 187.2,335.7 188.2,337.0 189.3,333.2 190.4,351.8 191.5,353.8 192.5,351.6 193.6,365.0 194.7,376.1 195.8,373.8 196.9,385.0 197.9,386.9 199.0,400.7 200.1,396.5 201.2,410.8 202.2,415.5 203.3,413.5 204.4,414.8 205.5,413.2 206.6,416.1 207.6,412.2 208.7,409.9 209.8,416.6 210.9,419.1 211.9,415.9 213.0,411.8 214.1,411.9 215.2,415.8 216.2,418.0 217.3,414.8 218.4,411.6 219.5,417.2 220.6,410.5 221.6,414.1 222.7,413.9 223.8,417.0 224.9,410.4 225.9,412.3 227.0,409.6 228.1,389.7 229.2,378.4 230.3,356.3 231.3,341.5 232.4,331.9 233.5,313.8 234.6,310.9 235.6,310.6 236.7,305.3 237.8,300.9 238.9,308.7 240.0,312.7 241.0,319.7 242.1,315.6 243.2,322.6 244.3,322.9 245.3,333.0 246.4,326.2 247.5,359.8 248.6,355.4 249.7,360.1 250.7,365.7 251.8,380.5 252.9,385.9 254.0,388.0 255.0,390.1 256.1,395.1 257.2,408.3 258.3,406.6 259.3,406.2 260.4,412.3 261.5,417.2 262.6,416.6 263.7,418.7 264.7,410.4 265.8,415.3 266.9,415.9 268.0,417.4 269.0,415.1 270.1,417.7 271.2,417.9 272.3,414.9 273.4,415.5 274.4,413.3 275.5,414.3 276.6,410.9 277.7,415.0 278.7,414.0 279.8,414.2 280.9,417.6 282.0,411.0 283.1,416.9 284.1,416.7 285.2,398.6 286.3,388.0 287.4,376.5 288.4,350.7 289.5,334.1 290.6,321.5 291.7,324.1 292.8,307.5 293.8,314.8 294.9,312.7 296.0,314.0 297.1,318.3 298.1,311.5 299.2,324.4 300.3,318.3 301.4,326.4 302.4,337.4 303.5,337.4 304.6,339.7 305.7,342.8 306.8,359.6 307.8,358.7 308.9,369.2 310.0,373.4 311.1,388.3 312.1,393.2 313.2,391.1 314.3,400.8 315.4,402.8 316.5,403.9 317.5,415.5 318.6,411.3 319.7,407.5 320.8,411.6 321.8,414.0 322.9,412.5 324.0,414.4 325.1,411.9 326.2,410.2 327.2,415.4 328.3,412.7 329.4,413.7 330.5,412.3 331.5,412.0 332.6,418.4 333.7,411.0 334.8,412.0 335.9,418.5 336.9,415.9 338.0,419.8 339.1,415.9 340.2,413.9 341.2,418.8 342.3,413.7 343.4,404.9 344.5,390.8 345.5,374.6 346.6,361.8 347.7,332.3 348.8,322.5 349.9,315.1 350.9,294.7 352.0,304.4 353.1,294.8 354.2,312.1 355.2,295.2 356.3,311.9 357.4,319.4 358.5,314.0 359.6,331.8 360.6,335.5 361.7,332.0 362.8,343.8 363.9,344.1 364.9,353.0 366.0,360.4 367.1,367.8 368.2,372.8 369.3,381.8 370.3,384.3 371.4,390.6 372.5,405.5 373.6,409.3 374.6,402.0 375.7,411.4 376.8,411.2 377.9,413.0 378.9,411.5" fill="none" stroke="#f56ccb" stroke-width="1.15" stroke-linejoin="round"/><polyline points="55.7,280.7 56.8,287.2 57.9,304.3 58.9,298.9 60.0,291.7 61.1,286.8 62.2,321.8 63.2,314.9 64.3,315.4 65.4,328.5 66.5,335.4 67.6,339.8 68.6,340.1 69.7,359.6 70.8,357.1 71.9,365.1 72.9,372.8 74.0,377.9 75.1,391.6 76.2,396.4 77.2,398.4 78.3,402.2 79.4,407.0 80.5,414.3 81.6,415.9 82.6,418.9 83.7,415.5 84.8,416.2 85.9,413.9 86.9,412.2 88.0,406.5 89.1,404.5 90.2,405.5 91.3,407.1 92.3,401.6 93.4,398.6 94.5,396.3 95.6,398.2 96.6,396.7 97.7,402.6 98.8,399.9 99.9,401.6 101.0,407.3 102.0,410.8 103.1,406.1 104.2,415.2 105.3,411.0 106.3,415.2 107.4,416.2 108.5,416.5 109.6,417.5 110.7,413.6 111.7,399.3 112.8,387.3 113.9,376.1 115.0,353.8 116.0,332.3 117.1,325.4 118.2,295.9 119.3,300.6 120.4,293.4 121.4,305.8 122.5,308.8 123.6,310.5 124.7,311.3 125.7,303.2 126.8,317.9 127.9,314.8 129.0,330.4 130.0,341.0 131.1,339.9 132.2,351.5 133.3,368.2 134.4,363.8 135.4,367.6 136.5,379.6 137.6,389.8 138.7,394.9 139.7,402.2 140.8,404.2 141.9,410.9 143.0,411.6 144.1,413.1 145.1,410.8 146.2,419.4 147.3,422.4 148.4,410.4 149.4,414.4 150.5,417.1 151.6,414.3 152.7,419.1 153.8,417.2 154.8,413.9 155.9,417.2 157.0,415.8 158.1,414.8 159.1,415.9 160.2,417.1 161.3,414.6 162.4,412.0 163.4,412.2 164.5,419.3 165.6,413.9 166.7,422.7 167.8,421.1 168.8,412.2 169.9,402.5 171.0,385.4 172.1,377.5 173.1,343.8 174.2,335.5 175.3,316.9 176.4,295.9 177.5,279.7 178.5,293.5 179.6,300.2 180.7,294.1 181.8,293.4 182.8,287.5 183.9,298.1 185.0,308.3 186.1,315.9 187.2,322.3 188.2,319.3 189.3,346.1 190.4,347.2 191.5,356.8 192.5,350.7 193.6,366.9 194.7,377.5 195.8,380.5 196.9,383.6 197.9,393.1 199.0,406.5 200.1,407.6 201.2,407.0 202.2,419.4 203.3,419.0 204.4,416.8 205.5,413.9 206.6,418.4 207.6,415.3 208.7,416.4 209.8,414.8 210.9,419.9 211.9,423.3 213.0,423.2 214.1,415.6 215.2,413.0 216.2,414.6 217.3,421.5 218.4,422.0 219.5,417.3 220.6,419.4 221.6,422.4 222.7,418.3 223.8,419.1 224.9,416.9 225.9,412.5 227.0,404.4 228.1,390.8 229.2,372.5 230.3,355.9 231.3,339.4 232.4,321.4 233.5,296.8 234.6,298.6 235.6,287.7 236.7,282.6 237.8,283.9 238.9,314.7 240.0,301.5 241.0,299.8 242.1,315.2 243.2,322.9 244.3,334.5 245.3,336.0 246.4,338.5 247.5,359.8 248.6,354.2 249.7,364.8 250.7,369.8 251.8,381.1 252.9,384.5 254.0,391.0 255.0,399.9 256.1,405.2 257.2,404.4 258.3,409.0 259.3,416.2 260.4,413.7 261.5,419.4 262.6,417.4 263.7,425.4 264.7,417.7 265.8,413.7 266.9,417.6 268.0,414.1 269.0,418.2 270.1,415.2 271.2,416.7 272.3,419.5 273.4,409.4 274.4,419.1 275.5,420.8 276.6,416.0 277.7,414.9 278.7,415.3 279.8,416.8 280.9,415.0 282.0,413.5 283.1,414.5 284.1,416.9 285.2,396.7 286.3,387.7 287.4,376.4 288.4,344.0 289.5,331.9 290.6,311.9 291.7,286.6 292.8,297.1 293.8,295.9 294.9,299.7 296.0,293.3 297.1,292.7 298.1,298.4 299.2,304.5 300.3,326.4 301.4,315.2 302.4,315.9 303.5,334.6 304.6,342.4 305.7,353.7 306.8,352.7 307.8,367.7 308.9,364.3 310.0,378.9 311.1,387.5 312.1,396.3 313.2,396.6 314.3,400.5 315.4,410.0 316.5,411.0 317.5,413.0 318.6,412.1 319.7,413.6 320.8,411.6 321.8,420.4 322.9,407.2 324.0,417.4 325.1,419.3 326.2,418.4 327.2,413.5 328.3,411.5 329.4,405.0 330.5,407.5 331.5,412.3 332.6,409.1 333.7,407.6 334.8,406.6 335.9,404.1 336.9,405.3 338.0,399.9 339.1,403.8 340.2,404.5 341.2,408.9 342.3,410.1 343.4,397.0 344.5,386.9 345.5,362.8 346.6,342.4 347.7,342.1 348.8,324.5 349.9,309.0 350.9,299.2 352.0,287.7 353.1,298.4 354.2,295.8 355.2,304.2 356.3,307.0 357.4,300.9 358.5,314.8 359.6,306.5 360.6,327.5 361.7,331.2 362.8,338.5 363.9,344.2 364.9,342.8 366.0,366.8 367.1,374.0 368.2,382.8 369.3,380.7 370.3,391.6 371.4,397.4 372.5,402.3 373.6,413.8 374.6,408.0 375.7,411.7 376.8,411.4 377.9,411.2 378.9,410.3" fill="none" stroke="#8a22e6" stroke-width="1.15" stroke-linejoin="round"/><polyline points="55.7,271.0 56.8,268.0 57.9,271.7 58.9,269.9 60.0,282.0 61.1,299.9 62.2,309.0 63.2,287.0 64.3,316.1 65.4,298.5 66.5,293.4 67.6,337.5 68.6,327.9 69.7,337.6 70.8,355.1 71.9,373.2 72.9,367.9 74.0,370.5 75.1,384.4 76.2,391.5 77.2,397.9 78.3,404.0 79.4,408.2 80.5,405.6 81.6,418.9 82.6,423.8 83.7,415.7 84.8,420.3 85.9,420.3 86.9,423.3 88.0,419.4 89.1,420.3 90.2,417.6 91.3,420.3 92.3,423.9 93.4,417.5 94.5,419.5 95.6,425.5 96.6,420.4 97.7,416.8 98.8,419.6 99.9,420.5 101.0,417.5 102.0,421.5 103.1,421.7 104.2,417.8 105.3,420.0 106.3,421.6 107.4,418.8 108.5,418.7 109.6,416.5 110.7,411.8 111.7,404.4 112.8,389.4 113.9,373.5 115.0,348.5 116.0,332.6 117.1,306.3 118.2,293.0 119.3,286.0 120.4,289.1 121.4,287.6 122.5,281.1 123.6,282.4 124.7,302.5 125.7,323.0 126.8,303.2 127.9,324.6 129.0,319.6 130.0,323.6 131.1,323.5 132.2,343.3 133.3,350.8 134.4,362.2 135.4,365.2 136.5,378.0 137.6,379.7 138.7,387.5 139.7,390.6 140.8,401.8 141.9,404.6 143.0,408.8 144.1,412.2 145.1,416.8 146.2,415.8 147.3,412.9 148.4,410.3 149.4,407.4 150.5,411.9 151.6,408.6 152.7,407.5 153.8,407.1 154.8,410.0 155.9,411.3 157.0,414.4 158.1,414.5 159.1,416.4 160.2,422.5 161.3,420.0 162.4,426.2 163.4,417.1 164.5,416.2 165.6,420.4 166.7,418.8 167.8,418.9 168.8,415.8 169.9,399.4 171.0,389.1 172.1,368.0 173.1,348.5 174.2,313.0 175.3,321.1 176.4,293.9 177.5,296.6 178.5,290.2 179.6,293.2 180.7,282.8 181.8,299.0 182.8,302.1 183.9,301.7 185.0,311.5 186.1,317.7 187.2,305.8 188.2,329.1 189.3,337.7 190.4,329.9 191.5,347.4 192.5,348.3 193.6,370.0 194.7,373.7 195.8,379.0 196.9,387.2 197.9,392.9 199.0,396.7 200.1,404.2 201.2,407.0 202.2,411.7 203.3,419.1 204.4,417.5 205.5,414.3 206.6,421.7 207.6,417.0 208.7,416.7 209.8,414.5 210.9,424.4 211.9,411.2 213.0,424.1 214.1,419.1 215.2,410.8 216.2,423.6 217.3,411.9 218.4,418.4 219.5,413.0 220.6,414.6 221.6,418.9 222.7,422.0 223.8,420.4 224.9,423.7 225.9,419.6 227.0,403.2 228.1,393.7 229.2,368.7 230.3,349.6 231.3,329.8 232.4,318.5 233.5,306.2 234.6,283.3 235.6,294.0 236.7,292.5 237.8,291.6 238.9,288.2 240.0,282.5 241.0,287.0 242.1,300.6 243.2,307.4 244.3,313.9 245.3,327.3 246.4,334.7 247.5,353.5 248.6,345.1 249.7,360.9 250.7,364.3 251.8,366.1 252.9,378.3 254.0,384.6 255.0,392.2 256.1,402.9 257.2,408.5 258.3,415.6 259.3,416.1 260.4,416.1 261.5,415.6 262.6,415.8 263.7,417.9 264.7,418.7 265.8,412.0 266.9,407.6 268.0,411.5 269.0,402.1 270.1,406.3 271.2,404.5 272.3,406.5 273.4,413.1 274.4,415.0 275.5,416.0 276.6,421.0 277.7,416.4 278.7,417.0 279.8,417.5 280.9,422.9 282.0,420.1 283.1,420.2 284.1,412.8 285.2,398.6 286.3,385.7 287.4,363.6 288.4,336.1 289.5,323.7 290.6,298.3 291.7,290.4 292.8,293.1 293.8,282.4 294.9,282.5 296.0,288.8 297.1,275.0 298.1,295.6 299.2,308.1 300.3,304.2 301.4,310.9 302.4,312.5 303.5,305.4 304.6,330.5 305.7,333.8 306.8,353.3 307.8,363.3 308.9,367.4 310.0,373.9 311.1,382.6 312.1,388.6 313.2,397.5 314.3,405.5 315.4,409.4 316.5,408.6 317.5,418.1 318.6,413.7 319.7,411.4 320.8,418.6 321.8,410.6 322.9,408.0 324.0,416.2 325.1,401.9 326.2,400.7 327.2,405.0 328.3,398.0 329.4,412.3 330.5,405.5 331.5,412.0 332.6,418.8 333.7,416.9 334.8,423.3 335.9,416.9 336.9,417.4 338.0,415.3 339.1,414.8 340.2,421.7 341.2,417.5 342.3,414.7 343.4,409.1 344.5,378.0 345.5,350.7 346.6,334.3 347.7,301.0 348.8,294.7 349.9,292.5 350.9,275.5 352.0,273.2 353.1,270.8 354.2,278.1 355.2,294.7 356.3,291.7 357.4,289.0 358.5,285.7 359.6,305.4 360.6,317.5 361.7,319.5 362.8,317.9 363.9,324.4 364.9,349.5 366.0,346.7 367.1,356.4 368.2,367.0 369.3,381.7 370.3,384.1 371.4,395.1 372.5,401.8 373.6,399.5 374.6,410.7 375.7,412.6 376.8,412.8 377.9,412.8 378.9,417.6" fill="none" stroke="#2a2af0" stroke-width="1.15" stroke-linejoin="round"/><polyline points="55.7,322.1 56.8,320.8 57.9,304.8 58.9,316.2 60.0,329.0 61.1,327.1 62.2,337.4 63.2,340.9 64.3,344.0 65.4,353.5 66.5,352.9 67.6,357.9 68.6,371.7 69.7,379.3 70.8,386.2 71.9,392.6 72.9,396.8 74.0,405.5 75.1,411.5 76.2,415.5 77.2,413.6 78.3,416.3 79.4,417.6 80.5,421.0 81.6,424.8 82.6,417.2 83.7,414.5 84.8,424.1 85.9,424.0 86.9,418.5 88.0,419.8 89.1,420.8 90.2,415.3 91.3,422.8 92.3,424.9 93.4,423.5 94.5,421.6 95.6,421.8 96.6,418.3 97.7,419.9 98.8,424.8 99.9,420.1 101.0,423.1 102.0,417.6 103.1,418.8 104.2,424.5 105.3,420.8 106.3,426.9 107.4,421.1 108.5,422.4 109.6,420.9 110.7,422.1 111.7,412.3 112.8,399.3 113.9,383.9 115.0,365.7 116.0,359.1 117.1,355.2 118.2,335.2 119.3,320.4 120.4,319.2 121.4,335.8 122.5,323.8 123.6,330.4 124.7,329.4 125.7,337.6 126.8,334.6 127.9,354.3 129.0,339.4 130.0,357.8 131.1,371.9 132.2,380.0 133.3,378.2 134.4,393.4 135.4,397.2 136.5,399.0 137.6,406.5 138.7,410.3 139.7,421.9 140.8,420.5 141.9,418.5 143.0,414.6 144.1,420.3 145.1,421.6 146.2,421.2 147.3,418.0 148.4,418.7 149.4,422.8 150.5,424.8 151.6,417.0 152.7,414.9 153.8,404.9 154.8,411.5 155.9,404.8 157.0,413.8 158.1,405.8 159.1,414.8 160.2,413.2 161.3,416.6 162.4,418.0 163.4,420.0 164.5,425.0 165.6,420.0 166.7,425.3 167.8,422.4 168.8,420.6 169.9,408.7 171.0,396.1 172.1,381.0 173.1,366.6 174.2,339.5 175.3,336.0 176.4,324.2 177.5,335.1 178.5,314.2 179.6,331.3 180.7,323.4 181.8,339.6 182.8,314.7 183.9,345.8 185.0,340.1 186.1,353.1 187.2,359.6 188.2,370.0 189.3,359.4 190.4,364.3 191.5,379.2 192.5,383.1 193.6,394.3 194.7,402.7 195.8,398.9 196.9,407.9 197.9,418.1 199.0,418.1 200.1,420.2 201.2,422.4 202.2,422.1 203.3,424.1 204.4,422.2 205.5,423.4 206.6,423.2 207.6,424.7 208.7,417.1 209.8,423.7 210.9,423.1 211.9,421.6 213.0,422.4 214.1,426.8 215.2,419.7 216.2,426.6 217.3,424.8 218.4,421.3 219.5,423.3 220.6,425.0 221.6,422.7 222.7,425.5 223.8,424.7 224.9,426.5 225.9,422.6 227.0,413.4 228.1,398.4 229.2,386.3 230.3,370.4 231.3,349.3 232.4,347.0 233.5,348.1 234.6,329.1 235.6,316.2 236.7,351.4 237.8,333.9 238.9,342.8 240.0,348.9 241.0,336.2 242.1,347.0 243.2,352.3 244.3,367.2 245.3,365.3 246.4,373.8 247.5,371.6 248.6,383.3 249.7,396.2 250.7,396.8 251.8,396.6 252.9,409.4 254.0,412.3 255.0,415.5 256.1,416.8 257.2,418.9 258.3,423.7 259.3,423.2 260.4,419.8 261.5,425.5 262.6,423.3 263.7,421.2 264.7,423.1 265.8,425.6 266.9,417.0 268.0,421.9 269.0,423.5 270.1,432.1 271.2,419.0 272.3,419.6 273.4,422.8 274.4,422.6 275.5,425.4 276.6,416.1 277.7,419.8 278.7,415.3 279.8,415.3 280.9,428.7 282.0,420.7 283.1,428.9 284.1,415.3 285.2,406.4 286.3,395.0 287.4,375.4 288.4,360.8 289.5,348.6 290.6,335.1 291.7,317.5 292.8,316.1 293.8,313.5 294.9,318.7 296.0,326.5 297.1,329.8 298.1,328.4 299.2,339.8 300.3,344.6 301.4,340.1 302.4,350.7 303.5,360.7 304.6,365.4 305.7,374.5 306.8,376.3 307.8,388.2 308.9,394.1 310.0,404.3 311.1,408.4 312.1,415.3 313.2,413.7 314.3,416.5 315.4,418.4 316.5,422.7 317.5,421.6 318.6,420.7 319.7,423.2 320.8,427.6 321.8,415.6 322.9,420.5 324.0,419.2 325.1,419.6 326.2,424.7 327.2,422.5 328.3,424.0 329.4,418.9 330.5,421.9 331.5,424.9 332.6,421.5 333.7,413.5 334.8,422.6 335.9,421.0 336.9,415.7 338.0,425.7 339.1,421.7 340.2,418.7 341.2,419.8 342.3,418.3 343.4,406.1 344.5,391.9 345.5,373.0 346.6,352.2 347.7,358.1 348.8,330.1 349.9,326.5 350.9,314.5 352.0,319.6 353.1,315.4 354.2,331.2 355.2,321.9 356.3,323.4 357.4,323.1 358.5,326.2 359.6,343.6 360.6,354.4 361.7,347.6 362.8,363.2 363.9,370.8 364.9,377.3 366.0,391.2 367.1,396.3 368.2,402.7 369.3,409.2 370.3,405.5 371.4,420.9 372.5,418.7 373.6,420.6 374.6,424.4 375.7,420.4 376.8,424.5 377.9,426.5 378.9,426.1" fill="none" stroke="#36e8f5" stroke-width="1.15" stroke-linejoin="round"/><polyline points="55.7,307.9 56.8,305.0 57.9,312.5 58.9,302.3 60.0,306.7 61.1,309.1 62.2,325.5 63.2,321.9 64.3,325.0 65.4,348.1 66.5,350.7 67.6,350.8 68.6,365.0 69.7,368.3 70.8,375.3 71.9,387.9 72.9,388.3 74.0,396.8 75.1,398.7 76.2,408.2 77.2,414.2 78.3,416.2 79.4,417.1 80.5,425.8 81.6,421.1 82.6,417.8 83.7,417.8 84.8,419.1 85.9,424.0 86.9,420.8 88.0,419.1 89.1,420.6 90.2,420.1 91.3,414.6 92.3,414.4 93.4,422.3 94.5,424.0 95.6,420.8 96.6,416.6 97.7,424.3 98.8,424.1 99.9,425.1 101.0,417.3 102.0,422.6 103.1,421.3 104.2,415.7 105.3,419.0 106.3,422.1 107.4,425.3 108.5,417.5 109.6,420.8 110.7,418.5 111.7,408.1 112.8,398.6 113.9,380.1 115.0,363.3 116.0,355.4 117.1,331.2 118.2,317.5 119.3,304.8 120.4,307.2 121.4,299.6 122.5,310.2 123.6,319.5 124.7,320.2 125.7,326.8 126.8,338.7 127.9,339.2 129.0,342.6 130.0,357.9 131.1,357.8 132.2,362.9 133.3,366.5 134.4,379.6 135.4,387.4 136.5,395.2 137.6,404.4 138.7,402.9 139.7,411.3 140.8,415.8 141.9,420.4 143.0,414.1 144.1,415.5 145.1,418.6 146.2,421.4 147.3,424.2 148.4,427.5 149.4,423.0 150.5,423.1 151.6,415.7 152.7,421.6 153.8,426.1 154.8,416.2 155.9,418.7 157.0,422.1 158.1,419.7 159.1,418.8 160.2,422.4 161.3,423.7 162.4,420.4 163.4,419.0 164.5,419.3 165.6,424.6 166.7,424.1 167.8,421.1 168.8,419.7 169.9,410.7 171.0,391.9 172.1,388.9 173.1,368.8 174.2,360.0 175.3,337.3 176.4,315.1 177.5,319.6 178.5,311.5 179.6,328.5 180.7,321.6 181.8,316.3 182.8,332.0 183.9,338.8 185.0,349.0 186.1,332.8 187.2,350.0 188.2,345.5 189.3,361.2 190.4,368.4 191.5,372.7 192.5,381.4 193.6,384.8 194.7,396.8 195.8,402.6 196.9,405.8 197.9,412.1 199.0,414.8 200.1,414.4 201.2,417.9 202.2,420.4 203.3,414.5 204.4,424.7 205.5,422.3 206.6,421.1 207.6,417.3 208.7,418.6 209.8,418.9 210.9,415.8 211.9,421.0 213.0,423.2 214.1,416.9 215.2,415.8 216.2,424.1 217.3,422.8 218.4,421.3 219.5,419.8 220.6,420.6 221.6,418.6 222.7,426.3 223.8,422.7 224.9,426.1 225.9,415.0 227.0,406.5 228.1,397.3 229.2,383.8 230.3,368.6 231.3,353.7 232.4,345.4 233.5,325.8 234.6,318.5 235.6,326.6 236.7,319.7 237.8,314.0 238.9,315.5 240.0,313.5 241.0,314.4 242.1,349.2 243.2,347.3 244.3,352.8 245.3,352.3 246.4,357.3 247.5,373.8 248.6,373.8 249.7,381.4 250.7,384.8 251.8,393.5 252.9,403.0 254.0,405.1 255.0,412.1 256.1,414.8 257.2,418.0 258.3,419.1 259.3,418.8 260.4,419.0 261.5,416.5 262.6,418.1 263.7,425.9 264.7,417.8 265.8,420.5 266.9,414.5 268.0,416.7 269.0,414.7 270.1,413.0 271.2,405.7 272.3,401.0 273.4,406.7 274.4,405.0 275.5,410.5 276.6,419.8 277.7,417.0 278.7,419.5 279.8,418.3 280.9,426.0 282.0,418.8 283.1,421.0 284.1,413.0 285.2,407.6 286.3,394.5 287.4,376.8 288.4,358.8 289.5,334.4 290.6,332.7 291.7,319.1 292.8,318.2 293.8,312.9 294.9,309.6 296.0,303.5 297.1,317.5 298.1,318.6 299.2,324.6 300.3,322.7 301.4,338.2 302.4,344.5 303.5,347.4 304.6,358.8 305.7,363.7 306.8,372.2 307.8,380.5 308.9,383.8 310.0,394.1 311.1,401.0 312.1,403.7 313.2,404.3 314.3,413.2 315.4,417.7 316.5,416.7 317.5,418.3 318.6,423.4 319.7,416.5 320.8,416.0 321.8,422.1 322.9,421.7 324.0,418.5 325.1,419.5 326.2,420.2 327.2,416.4 328.3,425.8 329.4,422.4 330.5,419.2 331.5,419.3 332.6,422.7 333.7,426.7 334.8,417.1 335.9,418.0 336.9,420.6 338.0,419.9 339.1,417.7 340.2,413.5 341.2,424.2 342.3,416.3 343.4,413.8 344.5,398.7 345.5,376.0 346.6,364.7 347.7,364.0 348.8,344.5 349.9,314.8 350.9,316.4 352.0,310.4 353.1,309.2 354.2,326.3 355.2,324.9 356.3,333.1 357.4,339.2 358.5,330.9 359.6,341.3 360.6,354.1 361.7,367.1 362.8,363.5 363.9,370.0 364.9,378.3 366.0,380.3 367.1,387.6 368.2,394.2 369.3,397.5 370.3,407.7 371.4,411.3 372.5,408.0 373.6,420.4 374.6,418.4 375.7,417.7 376.8,419.5 377.9,420.6 378.9,418.8" fill="none" stroke="#2fe02f" stroke-width="1.15" stroke-linejoin="round"/><polyline points="55.7,297.7 56.8,307.9 57.9,304.5 58.9,294.3 60.0,316.1 61.1,311.0 62.2,312.6 63.2,323.2 64.3,327.2 65.4,333.3 66.5,339.6 67.6,340.5 68.6,365.7 69.7,354.3 70.8,362.0 71.9,373.6 72.9,381.3 74.0,391.4 75.1,396.4 76.2,403.5 77.2,403.9 78.3,409.4 79.4,418.5 80.5,412.9 81.6,417.2 82.6,416.1 83.7,409.6 84.8,417.2 85.9,415.0 86.9,418.4 88.0,416.1 89.1,418.4 90.2,418.7 91.3,413.3 92.3,411.6 93.4,414.9 94.5,417.6 95.6,415.5 96.6,412.7 97.7,412.1 98.8,409.3 99.9,417.7 101.0,416.0 102.0,415.8 103.1,414.4 104.2,416.6 105.3,412.1 106.3,414.2 107.4,418.9 108.5,424.5 109.6,419.2 110.7,416.4 111.7,404.9 112.8,389.6 113.9,381.8 115.0,367.4 116.0,339.6 117.1,332.0 118.2,317.3 119.3,312.4 120.4,303.4 121.4,305.1 122.5,311.6 123.6,302.9 124.7,303.5 125.7,301.7 126.8,312.6 127.9,299.2 129.0,309.8 130.0,308.9 131.1,313.8 132.2,324.7 133.3,342.2 134.4,333.9 135.4,369.0 136.5,366.5 137.6,375.3 138.7,381.0 139.7,399.0 140.8,404.2 141.9,408.0 143.0,409.7 144.1,416.1 145.1,406.3 146.2,414.1 147.3,418.5 148.4,415.2 149.4,410.7 150.5,420.9 151.6,421.2 152.7,414.2 153.8,412.3 154.8,416.3 155.9,424.1 157.0,416.7 158.1,413.0 159.1,412.7 160.2,415.7 161.3,413.7 162.4,416.3 163.4,417.8 164.5,412.0 165.6,419.2 166.7,410.9 167.8,419.4 168.8,415.6 169.9,405.9 171.0,385.0 172.1,370.8 173.1,356.4 174.2,346.6 175.3,329.5 176.4,294.5 177.5,307.1 178.5,298.1 179.6,300.0 180.7,289.9 181.8,299.2 182.8,307.2 183.9,307.2 185.0,313.4 186.1,309.0 187.2,313.5 188.2,313.0 189.3,321.8 190.4,316.6 191.5,325.2 192.5,329.9 193.6,353.7 194.7,347.6 195.8,370.5 196.9,378.0 197.9,389.4 199.0,384.4 200.1,398.4 201.2,401.1 202.2,404.7 203.3,413.5 204.4,410.0 205.5,419.5 206.6,412.3 207.6,419.2 208.7,420.8 209.8,414.1 210.9,414.7 211.9,415.6 213.0,402.1 214.1,405.6 215.2,402.8 216.2,399.7 217.3,396.5 218.4,408.2 219.5,402.8 220.6,401.4 221.6,412.8 222.7,415.6 223.8,411.0 224.9,412.6 225.9,412.7 227.0,412.8 228.1,386.3 229.2,374.2 230.3,356.4 231.3,342.0 232.4,324.4 233.5,296.7 234.6,300.6 235.6,302.1 236.7,310.9 237.8,300.8 238.9,310.2 240.0,309.3 241.0,315.3 242.1,326.7 243.2,326.4 244.3,343.1 245.3,356.4 246.4,360.7 247.5,352.6 248.6,358.2 249.7,366.2 250.7,375.5 251.8,377.9 252.9,393.8 254.0,397.7 255.0,404.1 256.1,405.4 257.2,411.2 258.3,417.1 259.3,413.3 260.4,413.6 261.5,417.7 262.6,414.0 263.7,413.7 264.7,412.5 265.8,416.1 266.9,416.4 268.0,417.0 269.0,418.2 270.1,422.2 271.2,416.3 272.3,418.0 273.4,410.3 274.4,414.0 275.5,414.9 276.6,414.6 277.7,416.5 278.7,419.1 279.8,423.6 280.9,416.3 282.0,418.9 283.1,420.1 284.1,414.3 285.2,401.8 286.3,386.5 287.4,366.3 288.4,366.4 289.5,338.6 290.6,319.4 291.7,310.2 292.8,310.1 293.8,283.8 294.9,299.3 296.0,306.6 297.1,305.9 298.1,321.0 299.2,328.7 300.3,326.8 301.4,333.4 302.4,330.6 303.5,347.1 304.6,346.5 305.7,345.1 306.8,364.3 307.8,368.7 308.9,379.6 310.0,382.5 311.1,392.5 312.1,400.1 313.2,399.7 314.3,407.9 315.4,409.2 316.5,416.7 317.5,418.2 318.6,412.7 319.7,413.8 320.8,414.9 321.8,414.4 322.9,414.6 324.0,416.3 325.1,414.1 326.2,415.3 327.2,416.7 328.3,416.3 329.4,415.1 330.5,422.1 331.5,420.1 332.6,419.5 333.7,417.5 334.8,415.6 335.9,420.9 336.9,417.7 338.0,421.7 339.1,416.7 340.2,415.3 341.2,417.1 342.3,409.5 343.4,402.3 344.5,394.9 345.5,368.6 346.6,351.8 347.7,346.8 348.8,327.0 349.9,313.1 350.9,285.6 352.0,304.4 353.1,321.2 354.2,303.9 355.2,328.8 356.3,308.0 357.4,330.0 358.5,327.7 359.6,334.0 360.6,341.4 361.7,339.3 362.8,351.7 363.9,360.9 364.9,366.8 366.0,376.9 367.1,377.9 368.2,385.2 369.3,394.0 370.3,394.1 371.4,404.0 372.5,405.5 373.6,410.0 374.6,416.5 375.7,414.3 376.8,416.4 377.9,415.6 378.9,412.1" fill="none" stroke="#1f8c8c" stroke-width="1.15" stroke-linejoin="round"/><polyline points="55.7,281.1 56.8,273.4 57.9,276.9 58.9,276.4 60.0,278.1 61.1,289.4 62.2,289.6 63.2,302.1 64.3,297.4 65.4,310.0 66.5,304.4 67.6,305.1 68.6,324.7 69.7,324.4 70.8,329.7 71.9,358.3 72.9,344.0 74.0,367.1 75.1,374.0 76.2,380.6 77.2,388.7 78.3,395.5 79.4,395.8 80.5,399.9 81.6,403.7 82.6,408.3 83.7,408.7 84.8,415.2 85.9,416.7 86.9,411.2 88.0,417.8 89.1,411.9 90.2,416.7 91.3,421.3 92.3,419.0 93.4,418.0 94.5,415.6 95.6,415.0 96.6,413.8 97.7,414.6 98.8,412.7 99.9,421.9 101.0,414.7 102.0,411.5 103.1,418.7 104.2,414.2 105.3,413.0 106.3,419.1 107.4,423.5 108.5,419.1 109.6,417.3 110.7,412.8 111.7,405.7 112.8,391.9 113.9,375.0 115.0,355.2 116.0,333.9 117.1,308.2 118.2,292.3 119.3,277.2 120.4,275.2 121.4,277.6 122.5,268.8 123.6,278.6 124.7,272.0 125.7,273.9 126.8,293.2 127.9,275.3 129.0,306.3 130.0,315.6 131.1,320.3 132.2,325.9 133.3,327.1 134.4,326.6 135.4,341.2 136.5,341.7 137.6,367.4 138.7,366.0 139.7,380.4 140.8,386.2 141.9,382.1 143.0,389.2 144.1,399.4 145.1,405.8 146.2,407.7 147.3,411.5 148.4,408.4 149.4,403.7 150.5,402.9 151.6,402.3 152.7,403.8 153.8,399.7 154.8,400.1 155.9,396.3 157.0,403.0 158.1,402.4 159.1,404.6 160.2,406.8 161.3,408.6 162.4,411.2 163.4,410.6 164.5,417.7 165.6,417.9 166.7,418.5 167.8,417.5 168.8,416.2 169.9,402.9 171.0,391.1 172.1,372.0 173.1,347.5 174.2,318.3 175.3,309.5 176.4,282.1 177.5,274.7 178.5,257.5 179.6,250.4 180.7,261.3 181.8,260.6 182.8,259.3 183.9,276.9 185.0,275.5 186.1,297.3 187.2,287.8 188.2,295.3 189.3,305.4 190.4,297.3 191.5,319.0 192.5,332.6 193.6,341.8 194.7,348.8 195.8,370.3 196.9,364.7 197.9,376.5 199.0,381.0 200.1,386.9 201.2,390.3 202.2,402.1 203.3,406.3 204.4,409.7 205.5,411.2 206.6,415.3 207.6,411.7 208.7,409.8 209.8,401.0 210.9,389.3 211.9,388.6 213.0,381.1 214.1,387.3 215.2,390.5 216.2,398.9 217.3,413.8 218.4,415.2 219.5,420.1 220.6,414.3 221.6,419.7 222.7,413.0 223.8,416.7 224.9,414.7 225.9,418.4 227.0,414.9 228.1,395.4 229.2,376.2 230.3,351.4 231.3,324.9 232.4,314.9 233.5,287.7 234.6,280.8 235.6,261.6 236.7,275.4 237.8,270.7 238.9,265.8 240.0,272.5 241.0,275.5 242.1,278.1 243.2,286.1 244.3,293.0 245.3,310.2 246.4,298.5 247.5,310.6 248.6,314.7 249.7,337.5 250.7,339.2 251.8,367.2 252.9,360.2 254.0,370.5 255.0,377.4 256.1,381.8 257.2,391.5 258.3,395.0 259.3,407.4 260.4,399.0 261.5,413.1 262.6,416.3 263.7,418.9 264.7,412.7 265.8,422.0 266.9,418.5 268.0,410.5 269.0,420.1 270.1,418.0 271.2,419.2 272.3,412.9 273.4,418.4 274.4,415.3 275.5,418.2 276.6,417.9 277.7,422.5 278.7,414.4 279.8,416.8 280.9,417.9 282.0,415.1 283.1,416.9 284.1,414.2 285.2,403.9 286.3,386.9 287.4,369.8 288.4,338.1 289.5,316.6 290.6,301.4 291.7,284.0 292.8,260.0 293.8,260.4 294.9,270.2 296.0,273.5 297.1,251.5 298.1,277.6 299.2,279.6 300.3,280.7 301.4,293.0 302.4,278.8 303.5,305.3 304.6,313.6 305.7,313.0 306.8,330.3 307.8,339.9 308.9,335.5 310.0,342.8 311.1,348.0 312.1,367.2 313.2,378.3 314.3,384.7 315.4,392.8 316.5,395.8 317.5,400.4 318.6,405.8 319.7,403.8 320.8,405.1 321.8,410.6 322.9,401.0 324.0,407.7 325.1,406.9 326.2,404.5 327.2,408.3 328.3,413.8 329.4,412.7 330.5,413.0 331.5,418.5 332.6,424.5 333.7,411.5 334.8,420.9 335.9,417.2 336.9,408.8 338.0,418.2 339.1,414.1 340.2,419.9 341.2,410.1 342.3,417.4 343.4,400.4 344.5,390.8 345.5,366.3 346.6,342.6 347.7,331.3 348.8,312.4 349.9,303.0 350.9,278.1 352.0,264.0 353.1,275.8 354.2,274.0 355.2,271.0 356.3,277.9 357.4,280.3 358.5,285.9 359.6,300.4 360.6,307.7 361.7,308.4 362.8,320.7 363.9,322.0 364.9,342.2 366.0,337.0 367.1,339.8 368.2,345.1 369.3,363.4 370.3,369.0 371.4,371.1 372.5,381.8 373.6,391.2 374.6,401.3 375.7,401.8 376.8,406.5 377.9,414.5 378.9,416.0" fill="none" stroke="#5f8f22" stroke-width="1.15" stroke-linejoin="round"/><polyline points="55.7,264.2 56.8,240.0 57.9,241.3 58.9,246.7 60.0,264.9 61.1,249.3 62.2,240.4 63.2,275.0 64.3,270.9 65.4,284.4 66.5,277.8 67.6,287.4 68.6,293.0 69.7,309.8 70.8,313.1 71.9,316.2 72.9,329.2 74.0,335.7 75.1,336.6 76.2,357.4 77.2,372.2 78.3,375.5 79.4,388.1 80.5,396.2 81.6,404.0 82.6,400.3 83.7,410.7 84.8,414.0 85.9,411.4 86.9,414.5 88.0,421.3 89.1,414.8 90.2,405.6 91.3,418.0 92.3,411.3 93.4,402.3 94.5,408.5 95.6,403.8 96.6,402.3 97.7,404.4 98.8,406.2 99.9,407.6 101.0,410.1 102.0,409.2 103.1,412.0 104.2,411.1 105.3,418.3 106.3,414.8 107.4,421.6 108.5,421.5 109.6,417.9 110.7,411.3 111.7,406.3 112.8,386.1 113.9,362.7 115.0,342.2 116.0,306.0 117.1,293.9 118.2,272.2 119.3,274.2 120.4,233.9 121.4,242.0 122.5,249.4 123.6,254.2 124.7,261.6 125.7,256.7 126.8,257.5 127.9,273.8 129.0,275.4 130.0,290.6 131.1,284.6 132.2,289.4 133.3,301.5 134.4,308.6 135.4,336.2 136.5,336.1 137.6,349.1 138.7,356.7 139.7,360.7 140.8,365.8 141.9,381.2 143.0,390.5 144.1,396.1 145.1,403.6 146.2,413.7 147.3,403.7 148.4,415.3 149.4,415.3 150.5,406.1 151.6,415.8 152.7,417.8 153.8,405.6 154.8,402.4 155.9,404.2 157.0,412.2 158.1,413.0 159.1,417.3 160.2,418.6 161.3,411.6 162.4,418.1 163.4,422.7 164.5,423.0 165.6,421.0 166.7,423.3 167.8,416.0 168.8,418.7 169.9,414.1 171.0,396.6 172.1,362.1 173.1,337.0 174.2,301.8 175.3,301.2 176.4,261.6 177.5,248.3 178.5,242.6 179.6,233.0 180.7,231.8 181.8,246.4 182.8,240.8 183.9,257.3 185.0,248.4 186.1,262.8 187.2,271.4 188.2,266.8 189.3,276.8 190.4,305.9 191.5,298.6 192.5,305.3 193.6,309.2 194.7,333.7 195.8,352.0 196.9,347.9 197.9,362.2 199.0,379.1 200.1,384.2 201.2,385.6 202.2,392.4 203.3,400.9 204.4,408.7 205.5,410.6 206.6,414.0 207.6,412.5 208.7,414.1 209.8,418.8 210.9,412.0 211.9,419.5 213.0,421.0 214.1,414.2 215.2,416.6 216.2,414.8 217.3,415.4 218.4,418.5 219.5,415.6 220.6,419.1 221.6,410.0 222.7,417.9 223.8,411.7 224.9,414.3 225.9,413.7 227.0,410.0 228.1,388.2 229.2,364.1 230.3,330.0 231.3,313.2 232.4,277.8 233.5,266.9 234.6,239.2 235.6,237.8 236.7,234.6 237.8,237.2 238.9,253.1 240.0,244.9 241.0,263.0 242.1,261.2 243.2,245.7 244.3,270.2 245.3,277.5 246.4,294.7 247.5,302.5 248.6,293.0 249.7,310.2 250.7,326.3 251.8,329.7 252.9,354.6 254.0,352.0 255.0,358.8 256.1,377.9 257.2,381.1 258.3,386.9 259.3,395.2 260.4,403.7 261.5,408.4 262.6,412.1 263.7,415.9 264.7,411.3 265.8,413.2 266.9,416.8 268.0,410.5 269.0,407.8 270.1,413.8 271.2,412.0 272.3,408.6 273.4,409.7 274.4,406.6 275.5,411.4 276.6,411.9 277.7,417.3 278.7,415.4 279.8,415.6 280.9,423.3 282.0,417.5 283.1,422.8 284.1,419.6 285.2,402.4 286.3,388.2 287.4,366.2 288.4,337.8 289.5,297.6 290.6,292.7 291.7,283.4 292.8,245.8 293.8,247.8 294.9,263.9 296.0,254.4 297.1,267.7 298.1,265.3 299.2,266.1 300.3,274.9 301.4,271.9 302.4,285.6 303.5,292.7 304.6,292.3 305.7,310.4 306.8,307.2 307.8,317.3 308.9,321.4 310.0,341.9 311.1,351.4 312.1,356.7 313.2,366.2 314.3,375.5 315.4,380.9 316.5,394.3 317.5,398.1 318.6,403.7 319.7,410.1 320.8,410.4 321.8,413.7 322.9,419.1 324.0,415.4 325.1,405.6 326.2,412.9 327.2,412.4 328.3,413.7 329.4,414.5 330.5,407.0 331.5,400.8 332.6,399.7 333.7,397.2 334.8,402.6 335.9,404.5 336.9,400.8 338.0,406.0 339.1,410.6 340.2,413.4 341.2,416.5 342.3,420.7 343.4,413.0 344.5,384.8 345.5,365.2 346.6,343.0 347.7,307.4 348.8,291.1 349.9,281.9 350.9,260.9 352.0,257.4 353.1,249.3 354.2,251.4 355.2,264.5 356.3,253.9 357.4,264.0 358.5,283.3 359.6,288.3 360.6,287.8 361.7,295.4 362.8,313.1 363.9,304.7 364.9,323.3 366.0,335.6 367.1,336.9 368.2,332.7 369.3,362.6 370.3,366.2 371.4,365.7 372.5,383.5 373.6,383.8 374.6,387.8 375.7,397.3 376.8,408.5 377.9,412.6 378.9,411.6" fill="none" stroke="#8f9a2c" stroke-width="1.15" stroke-linejoin="round"/><polyline points="55.7,306.8 56.8,306.5 57.9,293.5 58.9,309.2 60.0,300.7 61.1,314.6 62.2,306.4 63.2,323.5 64.3,323.1 65.4,324.0 66.5,325.1 67.6,355.4 68.6,366.5 69.7,367.2 70.8,369.3 71.9,377.8 72.9,382.3 74.0,383.8 75.1,394.8 76.2,404.1 77.2,403.5 78.3,411.4 79.4,426.1 80.5,416.2 81.6,420.2 82.6,423.0 83.7,425.6 84.8,422.8 85.9,414.7 86.9,421.5 88.0,425.0 89.1,420.5 90.2,426.5 91.3,418.7 92.3,420.1 93.4,422.9 94.5,420.0 95.6,425.9 96.6,423.4 97.7,422.6 98.8,422.0 99.9,415.7 101.0,420.5 102.0,425.9 103.1,423.0 104.2,424.9 105.3,420.9 106.3,428.0 107.4,419.4 108.5,424.6 109.6,419.8 110.7,415.3 111.7,407.2 112.8,400.5 113.9,380.0 115.0,371.1 116.0,341.4 117.1,323.3 118.2,298.9 119.3,297.1 120.4,291.3 121.4,300.8 122.5,304.0 123.6,302.0 124.7,309.4 125.7,312.2 126.8,316.7 127.9,311.2 129.0,328.6 130.0,316.5 131.1,334.7 132.2,351.9 133.3,355.1 134.4,360.3 135.4,379.2 136.5,379.0 137.6,383.8 138.7,395.5 139.7,407.6 140.8,413.1 141.9,411.7 143.0,416.4 144.1,416.1 145.1,425.9 146.2,421.2 147.3,417.2 148.4,419.9 149.4,425.0 150.5,422.6 151.6,423.2 152.7,415.2 153.8,416.6 154.8,423.2 155.9,422.6 157.0,421.8 158.1,421.0 159.1,422.8 160.2,423.7 161.3,424.6 162.4,420.1 163.4,419.7 164.5,423.0 165.6,422.9 166.7,418.7 167.8,421.6 168.8,428.6 169.9,411.4 171.0,396.4 172.1,376.9 173.1,359.9 174.2,343.2 175.3,316.4 176.4,301.2 177.5,301.8 178.5,292.6 179.6,293.0 180.7,297.2 181.8,274.8 182.8,299.2 183.9,305.6 185.0,317.9 186.1,324.4 187.2,323.3 188.2,327.8 189.3,343.5 190.4,350.9 191.5,358.8 192.5,362.8 193.6,369.7 194.7,385.9 195.8,386.7 196.9,398.8 197.9,405.5 199.0,405.8 200.1,409.8 201.2,408.9 202.2,418.7 203.3,415.2 204.4,422.4 205.5,423.3 206.6,418.6 207.6,425.4 208.7,421.4 209.8,419.5 210.9,427.3 211.9,421.2 213.0,419.6 214.1,428.9 215.2,425.0 216.2,420.7 217.3,424.4 218.4,425.4 219.5,428.2 220.6,417.0 221.6,421.4 222.7,423.5 223.8,422.7 224.9,421.7 225.9,419.8 227.0,409.2 228.1,392.5 229.2,379.0 230.3,354.0 231.3,330.4 232.4,321.8 233.5,307.5 234.6,290.1 235.6,289.0 236.7,297.5 237.8,294.3 238.9,301.7 240.0,294.5 241.0,301.8 242.1,314.5 243.2,314.1 244.3,315.6 245.3,334.6 246.4,349.0 247.5,347.9 248.6,342.2 249.7,359.2 250.7,372.5 251.8,380.0 252.9,386.3 254.0,389.3 255.0,396.5 256.1,414.5 257.2,408.1 258.3,414.0 259.3,420.9 260.4,420.6 261.5,423.5 262.6,429.5 263.7,422.9 264.7,422.7 265.8,427.3 266.9,421.9 268.0,422.8 269.0,421.3 270.1,423.5 271.2,427.0 272.3,420.4 273.4,424.7 274.4,426.8 275.5,419.5 276.6,422.9 277.7,417.2 278.7,420.6 279.8,430.7 280.9,418.4 282.0,425.0 283.1,423.3 284.1,419.4 285.2,411.7 286.3,392.5 287.4,378.7 288.4,362.9 289.5,341.2 290.6,319.4 291.7,315.4 292.8,301.9 293.8,299.2 294.9,288.0 296.0,309.4 297.1,310.0 298.1,308.8 299.2,313.5 300.3,311.5 301.4,322.2 302.4,331.1 303.5,330.5 304.6,344.3 305.7,351.0 306.8,360.4 307.8,366.9 308.9,380.4 310.0,385.2 311.1,387.1 312.1,396.9 313.2,410.4 314.3,407.6 315.4,415.4 316.5,420.4 317.5,422.2 318.6,420.7 319.7,423.3 320.8,414.8 321.8,423.3 322.9,422.4 324.0,418.2 325.1,425.7 326.2,423.6 327.2,423.7 328.3,421.6 329.4,418.1 330.5,424.4 331.5,417.3 332.6,425.0 333.7,422.0 334.8,420.2 335.9,421.1 336.9,420.1 338.0,422.2 339.1,418.3 340.2,421.0 341.2,419.2 342.3,419.7 343.4,413.3 344.5,399.0 345.5,369.9 346.6,359.5 347.7,321.8 348.8,309.6 349.9,316.0 350.9,305.1 352.0,293.4 353.1,289.7 354.2,299.2 355.2,297.3 356.3,312.8 357.4,311.0 358.5,305.8 359.6,325.6 360.6,322.6 361.7,351.9 362.8,345.8 363.9,349.1 364.9,369.9 366.0,373.0 367.1,377.8 368.2,381.9 369.3,387.7 370.3,393.0 371.4,407.1 372.5,403.6 373.6,412.1 374.6,418.5 375.7,423.4 376.8,422.5 377.9,419.2 378.9,420.9" fill="none" stroke="#fbc561" stroke-width="1.15" stroke-linejoin="round"/><polyline points="55.7,255.1 56.8,246.9 57.9,244.8 58.9,253.0 60.0,247.1 61.1,240.8 62.2,274.5 63.2,275.0 64.3,287.5 65.4,278.5 66.5,291.7 67.6,292.0 68.6,294.5 69.7,312.2 70.8,342.5 71.9,342.8 72.9,343.6 74.0,354.8 75.1,368.1 76.2,379.2 77.2,386.6 78.3,386.2 79.4,398.1 80.5,409.2 81.6,412.5 82.6,414.5 83.7,416.7 84.8,417.7 85.9,415.7 86.9,416.3 88.0,411.5 89.1,415.8 90.2,416.1 91.3,412.7 92.3,410.2 93.4,408.2 94.5,408.5 95.6,402.5 96.6,390.8 97.7,396.2 98.8,389.9 99.9,393.5 101.0,392.3 102.0,401.1 103.1,405.6 104.2,408.7 105.3,412.4 106.3,414.5 107.4,409.3 108.5,408.2 109.6,418.4 110.7,413.3 111.7,403.9 112.8,386.4 113.9,365.6 115.0,340.1 116.0,311.6 117.1,294.9 118.2,290.4 119.3,268.6 120.4,276.4 121.4,262.5 122.5,271.0 123.6,269.8 124.7,282.1 125.7,296.0 126.8,292.8 127.9,292.6 129.0,308.8 130.0,307.4 131.1,307.4 132.2,329.1 133.3,328.4 134.4,340.6 135.4,353.5 136.5,359.4 137.6,366.2 138.7,377.5 139.7,384.3 140.8,393.7 141.9,403.2 143.0,397.9 144.1,410.7 145.1,408.6 146.2,414.8 147.3,413.1 148.4,417.4 149.4,412.4 150.5,410.6 151.6,417.2 152.7,415.7 153.8,417.4 154.8,416.5 155.9,414.1 157.0,412.3 158.1,409.6 159.1,410.1 160.2,409.4 161.3,414.7 162.4,410.2 163.4,413.1 164.5,412.6 165.6,411.2 166.7,412.7 167.8,416.0 168.8,410.5 169.9,405.4 171.0,390.6 172.1,365.1 173.1,342.2 174.2,311.5 175.3,292.5 176.4,276.9 177.5,266.3 178.5,253.9 179.6,271.2 180.7,261.8 181.8,269.2 182.8,269.8 183.9,270.9 185.0,270.2 186.1,280.9 187.2,294.0 188.2,305.9 189.3,314.2 190.4,308.7 191.5,326.6 192.5,352.5 193.6,360.8 194.7,361.4 195.8,369.9 196.9,375.1 197.9,378.8 199.0,391.3 200.1,399.8 201.2,407.9 202.2,405.7 203.3,411.0 204.4,418.1 205.5,414.3 206.6,416.0 207.6,414.3 208.7,416.0 209.8,416.8 210.9,414.8 211.9,418.0 213.0,424.0 214.1,419.6 215.2,416.8 216.2,412.6 217.3,421.4 218.4,414.8 219.5,426.5 220.6,417.3 221.6,412.5 222.7,418.0 223.8,418.0 224.9,416.2 225.9,411.0 227.0,402.0 228.1,389.0 229.2,365.8 230.3,330.3 231.3,320.9 232.4,303.3 233.5,286.3 234.6,264.3 235.6,264.3 236.7,277.4 237.8,279.9 238.9,274.9 240.0,277.0 241.0,299.1 242.1,291.4 243.2,277.9 244.3,303.6 245.3,305.3 246.4,314.9 247.5,325.8 248.6,340.2 249.7,351.1 250.7,346.8 251.8,358.4 252.9,368.9 254.0,374.3 255.0,385.9 256.1,397.4 257.2,401.3 258.3,402.4 259.3,406.3 260.4,410.6 261.5,421.1 262.6,416.6 263.7,417.0 264.7,416.1 265.8,418.6 266.9,417.4 268.0,412.5 269.0,419.6 270.1,418.2 271.2,411.0 272.3,420.1 273.4,416.5 274.4,413.7 275.5,420.6 276.6,409.1 277.7,421.0 278.7,414.0 279.8,414.1 280.9,417.4 282.0,413.0 283.1,416.6 284.1,410.5 285.2,400.9 286.3,379.6 287.4,355.3 288.4,341.8 289.5,302.3 290.6,286.3 291.7,265.1 292.8,251.7 293.8,248.4 294.9,249.6 296.0,241.7 297.1,257.4 298.1,279.6 299.2,268.5 300.3,275.5 301.4,276.6 302.4,284.9 303.5,300.5 304.6,314.5 305.7,309.4 306.8,331.3 307.8,338.3 308.9,344.1 310.0,363.0 311.1,364.0 312.1,371.8 313.2,378.9 314.3,390.2 315.4,399.5 316.5,405.8 317.5,405.9 318.6,416.4 319.7,415.5 320.8,418.5 321.8,423.2 322.9,416.7 324.0,420.3 325.1,412.7 326.2,421.1 327.2,419.4 328.3,420.4 329.4,421.7 330.5,418.0 331.5,417.7 332.6,414.7 333.7,416.2 334.8,413.1 335.9,415.1 336.9,421.8 338.0,414.7 339.1,422.3 340.2,421.1 341.2,422.4 342.3,415.3 343.4,401.2 344.5,382.2 345.5,356.4 346.6,339.0 347.7,311.0 348.8,283.0 349.9,257.0 350.9,255.6 352.0,246.8 353.1,253.0 354.2,248.7 355.2,257.7 356.3,263.3 357.4,256.7 358.5,275.5 359.6,287.2 360.6,291.3 361.7,294.3 362.8,316.0 363.9,318.1 364.9,338.0 366.0,323.9 367.1,333.5 368.2,352.6 369.3,356.9 370.3,377.2 371.4,383.1 372.5,389.2 373.6,398.6 374.6,402.5 375.7,404.7 376.8,410.8 377.9,412.6 378.9,417.4" fill="none" stroke="#f58a1f" stroke-width="1.15" stroke-linejoin="round"/><polyline points="55.7,276.2 56.8,247.2 57.9,262.9 58.9,254.6 60.0,244.9 61.1,253.3 62.2,267.5 63.2,278.1 64.3,269.2 65.4,281.7 66.5,278.3 67.6,285.1 68.6,297.2 69.7,299.6 70.8,317.2 71.9,326.9 72.9,325.1 74.0,333.8 75.1,349.6 76.2,349.9 77.2,366.3 78.3,376.1 79.4,382.6 80.5,391.0 81.6,392.7 82.6,403.6 83.7,407.4 84.8,408.3 85.9,405.8 86.9,413.2 88.0,408.9 89.1,402.3 90.2,405.3 91.3,410.5 92.3,406.4 93.4,409.7 94.5,405.0 95.6,409.6 96.6,415.9 97.7,409.0 98.8,413.0 99.9,421.4 101.0,408.9 102.0,416.8 103.1,419.6 104.2,417.9 105.3,418.6 106.3,417.9 107.4,414.7 108.5,423.2 109.6,414.2 110.7,415.5 111.7,413.4 112.8,394.7 113.9,379.2 115.0,338.1 116.0,324.5 117.1,307.5 118.2,291.8 119.3,275.8 120.4,271.6 121.4,252.0 122.5,273.7 123.6,268.8 124.7,276.1 125.7,269.5 126.8,276.7 127.9,276.7 129.0,280.0 130.0,298.2 131.1,294.7 132.2,307.4 133.3,315.2 134.4,327.3 135.4,331.3 136.5,343.5 137.6,350.3 138.7,358.9 139.7,362.3 140.8,374.9 141.9,376.5 143.0,389.0 144.1,383.5 145.1,402.1 146.2,397.7 147.3,414.2 148.4,417.7 149.4,418.5 150.5,415.6 151.6,420.6 152.7,418.5 153.8,417.7 154.8,420.9 155.9,418.3 157.0,426.0 158.1,421.5 159.1,421.7 160.2,414.4 161.3,423.3 162.4,415.5 163.4,416.4 164.5,420.2 165.6,418.1 166.7,425.8 167.8,418.4 168.8,419.7 169.9,412.1 171.0,392.3 172.1,367.6 173.1,345.6 174.2,322.0 175.3,289.5 176.4,268.4 177.5,261.9 178.5,238.7 179.6,256.8 180.7,253.9 181.8,244.5 182.8,255.7 183.9,265.7 185.0,269.0 186.1,280.5 187.2,271.8 188.2,294.7 189.3,299.5 190.4,298.7 191.5,297.4 192.5,315.7 193.6,331.4 194.7,331.7 195.8,343.1 196.9,349.4 197.9,365.3 199.0,372.0 200.1,380.6 201.2,384.3 202.2,391.7 203.3,396.9 204.4,405.8 205.5,407.8 206.6,414.3 207.6,413.5 208.7,413.5 209.8,416.3 210.9,419.3 211.9,420.1 213.0,413.2 214.1,417.7 215.2,420.4 216.2,413.9 217.3,415.4 218.4,422.8 219.5,413.9 220.6,416.6 221.6,411.7 222.7,418.8 223.8,419.5 224.9,414.4 225.9,422.3 227.0,409.2 228.1,393.1 229.2,374.7 230.3,333.1 231.3,319.9 232.4,293.3 233.5,274.5 234.6,259.8 235.6,251.8 236.7,245.0 237.8,258.2 238.9,249.0 240.0,258.7 241.0,260.4 242.1,262.2 243.2,264.0 244.3,267.6 245.3,285.2 246.4,292.6 247.5,297.3 248.6,302.8 249.7,324.4 250.7,336.0 251.8,342.4 252.9,337.0 254.0,358.3 255.0,362.4 256.1,374.1 257.2,382.8 258.3,381.3 259.3,390.0 260.4,392.3 261.5,400.7 262.6,407.8 263.7,413.9 264.7,412.9 265.8,410.4 266.9,422.1 268.0,415.9 269.0,411.2 270.1,410.8 271.2,416.6 272.3,420.7 273.4,416.7 274.4,418.8 275.5,414.4 276.6,414.1 277.7,416.5 278.7,420.4 279.8,416.1 280.9,416.8 282.0,412.2 283.1,417.3 284.1,416.8 285.2,406.5 286.3,387.5 287.4,369.9 288.4,343.6 289.5,305.9 290.6,269.1 291.7,260.7 292.8,241.2 293.8,240.9 294.9,242.0 296.0,248.9 297.1,245.1 298.1,256.2 299.2,248.4 300.3,270.9 301.4,267.8 302.4,287.6 303.5,297.6 304.6,289.0 305.7,286.9 306.8,307.9 307.8,321.5 308.9,324.7 310.0,339.3 311.1,351.0 312.1,346.6 313.2,357.2 314.3,374.0 315.4,372.8 316.5,386.9 317.5,391.3 318.6,398.0 319.7,402.2 320.8,413.6 321.8,411.4 322.9,407.9 324.0,417.2 325.1,416.6 326.2,418.5 327.2,419.0 328.3,415.2 329.4,419.4 330.5,425.0 331.5,422.4 332.6,417.0 333.7,415.1 334.8,420.7 335.9,421.7 336.9,418.9 338.0,414.8 339.1,416.4 340.2,417.1 341.2,417.4 342.3,417.7 343.4,410.5 344.5,385.2 345.5,369.8 346.6,346.7 347.7,317.7 348.8,307.0 349.9,286.4 350.9,274.6 352.0,263.9 353.1,258.5 354.2,269.8 355.2,267.8 356.3,265.3 357.4,277.7 358.5,270.8 359.6,276.0 360.6,287.6 361.7,276.3 362.8,303.5 363.9,304.5 364.9,311.7 366.0,307.7 367.1,329.2 368.2,342.3 369.3,334.2 370.3,362.3 371.4,366.7 372.5,373.3 373.6,383.2 374.6,384.2 375.7,391.9 376.8,401.9 377.9,403.2 378.9,411.9" fill="none" stroke="#9c5326" stroke-width="1.15" stroke-linejoin="round"/><polyline points="55.7,286.7 56.8,273.9 57.9,266.7 58.9,290.4 60.0,271.6 61.1,285.3 62.2,282.9 63.2,271.7 64.3,290.4 65.4,305.0 66.5,292.2 67.6,312.4 68.6,301.8 69.7,314.9 70.8,323.0 71.9,323.1 72.9,344.3 74.0,366.6 75.1,364.6 76.2,367.8 77.2,377.5 78.3,381.7 79.4,381.3 80.5,399.9 81.6,395.7 82.6,406.9 83.7,408.0 84.8,411.3 85.9,412.2 86.9,411.2 88.0,414.0 89.1,414.1 90.2,417.3 91.3,418.0 92.3,413.7 93.4,412.1 94.5,413.1 95.6,412.7 96.6,420.2 97.7,416.1 98.8,415.1 99.9,417.9 101.0,412.8 102.0,415.0 103.1,414.9 104.2,419.8 105.3,418.2 106.3,425.4 107.4,413.8 108.5,415.8 109.6,417.3 110.7,416.9 111.7,412.1 112.8,394.8 113.9,387.2 115.0,358.2 116.0,343.4 117.1,313.6 118.2,284.8 119.3,272.8 120.4,265.0 121.4,267.5 122.5,270.5 123.6,255.6 124.7,269.0 125.7,275.7 126.8,267.2 127.9,275.5 129.0,279.2 130.0,296.0 131.1,308.9 132.2,298.7 133.3,301.6 134.4,321.7 135.4,323.2 136.5,344.5 137.6,346.9 138.7,358.7 139.7,363.3 140.8,367.7 141.9,378.5 143.0,385.3 144.1,395.2 145.1,400.5 146.2,404.0 147.3,410.0 148.4,407.4 149.4,417.1 150.5,412.8 151.6,414.0 152.7,420.3 153.8,412.0 154.8,407.6 155.9,409.5 157.0,417.3 158.1,414.5 159.1,415.9 160.2,413.1 161.3,415.9 162.4,416.7 163.4,415.2 164.5,411.0 165.6,418.2 166.7,415.5 167.8,415.1 168.8,413.3 169.9,412.1 171.0,400.6 172.1,384.5 173.1,360.2 174.2,350.2 175.3,318.3 176.4,290.3 177.5,266.8 178.5,269.3 179.6,270.1 180.7,286.6 181.8,273.8 182.8,274.2 183.9,287.3 185.0,294.6 186.1,285.1 187.2,294.2 188.2,300.7 189.3,298.0 190.4,319.0 191.5,327.0 192.5,321.1 193.6,336.7 194.7,340.4 195.8,363.2 196.9,355.4 197.9,370.4 199.0,379.5 200.1,382.8 201.2,390.3 202.2,401.3 203.3,402.1 204.4,403.4 205.5,410.3 206.6,410.0 207.6,418.5 208.7,414.1 209.8,414.0 210.9,418.1 211.9,411.7 213.0,408.2 214.1,410.2 215.2,412.2 216.2,407.1 217.3,405.5 218.4,412.0 219.5,402.7 220.6,407.6 221.6,410.5 222.7,411.6 223.8,417.9 224.9,411.3 225.9,413.0 227.0,416.2 228.1,403.0 229.2,378.5 230.3,365.4 231.3,333.3 232.4,312.6 233.5,279.5 234.6,285.1 235.6,266.4 236.7,266.8 237.8,264.4 238.9,265.9 240.0,271.2 241.0,269.0 242.1,274.3 243.2,280.3 244.3,289.8 245.3,288.5 246.4,292.6 247.5,290.7 248.6,314.2 249.7,314.9 250.7,329.5 251.8,344.7 252.9,353.5 254.0,353.1 255.0,363.0 256.1,373.1 257.2,382.4 258.3,383.7 259.3,387.8 260.4,396.2 261.5,408.5 262.6,410.5 263.7,415.2 264.7,411.2 265.8,416.0 266.9,413.5 268.0,415.6 269.0,412.5 270.1,418.8 271.2,416.1 272.3,410.2 273.4,408.7 274.4,420.0 275.5,417.7 276.6,421.4 277.7,415.6 278.7,415.8 279.8,411.8 280.9,418.7 282.0,414.5 283.1,416.0 284.1,421.3 285.2,415.8 286.3,397.9 287.4,377.4 288.4,354.0 289.5,324.1 290.6,291.0 291.7,269.0 292.8,267.1 293.8,249.2 294.9,261.2 296.0,262.9 297.1,255.3 298.1,261.1 299.2,260.6 300.3,261.3 301.4,271.8 302.4,267.3 303.5,279.5 304.6,281.3 305.7,299.8 306.8,306.5 307.8,313.0 308.9,318.3 310.0,346.6 311.1,347.2 312.1,357.4 313.2,361.1 314.3,371.6 315.4,376.2 316.5,387.6 317.5,394.9 318.6,394.1 319.7,406.7 320.8,411.1 321.8,408.2 322.9,412.5 324.0,415.3 325.1,412.9 326.2,416.9 327.2,408.4 328.3,416.4 329.4,419.2 330.5,411.5 331.5,422.5 332.6,417.4 333.7,417.2 334.8,415.1 335.9,411.7 336.9,412.7 338.0,410.8 339.1,417.4 340.2,418.1 341.2,418.7 342.3,418.8 343.4,412.8 344.5,395.3 345.5,383.0 346.6,340.7 347.7,324.7 348.8,311.3 349.9,274.7 350.9,263.5 352.0,247.2 353.1,252.5 354.2,257.1 355.2,252.7 356.3,262.3 357.4,277.8 358.5,266.8 359.6,270.4 360.6,294.5 361.7,283.1 362.8,298.0 363.9,299.0 364.9,304.2 366.0,320.8 367.1,333.2 368.2,348.5 369.3,360.0 370.3,351.7 371.4,361.0 372.5,375.3 373.6,371.5 374.6,385.0 375.7,395.1 376.8,397.0 377.9,404.2 378.9,411.0" fill="none" stroke="#f01818" stroke-width="1.15" stroke-linejoin="round"/><polyline points="55.7,251.8 56.8,254.5 57.9,221.4 58.9,230.7 60.0,230.1 61.1,230.2 62.2,245.2 63.2,243.6 64.3,242.8 65.4,243.6 66.5,251.1 67.6,259.6 68.6,270.9 69.7,277.7 70.8,279.4 71.9,292.8 72.9,285.3 74.0,308.0 75.1,329.3 76.2,327.6 77.2,342.6 78.3,340.3 79.4,355.7 80.5,363.6 81.6,381.4 82.6,373.8 83.7,389.8 84.8,399.2 85.9,403.5 86.9,406.4 88.0,406.2 89.1,414.7 90.2,412.4 91.3,412.0 92.3,418.5 93.4,412.4 94.5,411.1 95.6,410.8 96.6,414.4 97.7,411.8 98.8,423.1 99.9,412.1 101.0,417.6 102.0,413.9 103.1,415.2 104.2,425.5 105.3,419.3 106.3,415.3 107.4,412.0 108.5,419.2 109.6,415.7 110.7,416.0 111.7,414.6 112.8,403.8 113.9,386.5 115.0,364.7 116.0,331.0 117.1,307.1 118.2,287.9 119.3,256.3 120.4,259.7 121.4,228.7 122.5,235.1 123.6,236.4 124.7,243.8 125.7,238.4 126.8,248.4 127.9,253.5 129.0,262.5 130.0,262.7 131.1,266.3 132.2,267.9 133.3,283.9 134.4,292.7 135.4,297.9 136.5,313.0 137.6,318.4 138.7,314.3 139.7,332.6 140.8,342.8 141.9,350.2 143.0,362.2 144.1,371.3 145.1,375.0 146.2,380.2 147.3,387.8 148.4,398.1 149.4,404.7 150.5,401.3 151.6,406.9 152.7,404.1 153.8,412.4 154.8,414.9 155.9,417.4 157.0,413.0 158.1,420.1 159.1,415.0 160.2,420.7 161.3,408.3 162.4,409.9 163.4,422.9 164.5,411.1 165.6,416.8 166.7,412.5 167.8,411.0 168.8,417.8 169.9,416.5 171.0,406.2 172.1,384.4 173.1,358.3 174.2,336.2 175.3,302.1 176.4,281.9 177.5,258.9 178.5,246.8 179.6,224.0 180.7,230.5 181.8,231.2 182.8,225.3 183.9,229.2 185.0,237.3 186.1,235.0 187.2,246.3 188.2,253.6 189.3,246.5 190.4,266.8 191.5,277.3 192.5,275.5 193.6,290.6 194.7,293.5 195.8,311.7 196.9,319.8 197.9,324.6 199.0,347.8 200.1,350.4 201.2,351.6 202.2,368.8 203.3,369.0 204.4,381.6 205.5,393.2 206.6,399.3 207.6,400.8 208.7,406.2 209.8,411.4 210.9,410.5 211.9,412.5 213.0,413.9 214.1,418.9 215.2,417.5 216.2,413.0 217.3,414.0 218.4,414.7 219.5,413.5 220.6,418.2 221.6,413.6 222.7,407.9 223.8,417.0 224.9,414.7 225.9,416.2 227.0,416.8 228.1,399.6 229.2,383.2 230.3,373.4 231.3,342.1 232.4,316.5 233.5,293.7 234.6,280.7 235.6,257.2 236.7,247.0 237.8,242.9 238.9,246.9 240.0,259.8 241.0,267.1 242.1,257.2 243.2,260.2 244.3,265.2 245.3,265.4 246.4,278.0 247.5,263.8 248.6,290.9 249.7,295.1 250.7,308.6 251.8,316.3 252.9,325.5 254.0,330.9 255.0,345.4 256.1,342.2 257.2,351.5 258.3,364.7 259.3,366.1 260.4,381.5 261.5,385.0 262.6,401.5 263.7,399.7 264.7,404.3 265.8,405.7 266.9,407.4 268.0,412.2 269.0,417.9 270.1,420.4 271.2,408.2 272.3,415.6 273.4,424.0 274.4,415.9 275.5,414.9 276.6,416.9 277.7,418.7 278.7,410.1 279.8,417.2 280.9,413.1 282.0,414.7 283.1,417.4 284.1,416.4 285.2,410.9 286.3,405.1 287.4,384.2 288.4,360.0 289.5,341.8 290.6,303.1 291.7,289.5 292.8,269.4 293.8,244.1 294.9,236.0 296.0,240.6 297.1,243.5 298.1,252.3 299.2,256.6 300.3,258.4 301.4,258.0 302.4,268.6 303.5,273.8 304.6,280.6 305.7,305.4 306.8,295.9 307.8,301.1 308.9,319.8 310.0,314.3 311.1,319.1 312.1,336.3 313.2,356.7 314.3,350.0 315.4,357.7 316.5,361.8 317.5,363.2 318.6,374.4 319.7,373.2 320.8,379.5 321.8,380.0 322.9,388.3 324.0,388.4 325.1,396.0 326.2,400.7 327.2,412.3 328.3,402.3 329.4,409.0 330.5,407.1 331.5,405.4 332.6,415.3 333.7,416.6 334.8,411.9 335.9,416.4 336.9,416.5 338.0,411.3 339.1,411.4 340.2,417.0 341.2,418.2 342.3,417.7 343.4,411.2 344.5,402.5 345.5,379.0 346.6,364.5 347.7,335.4 348.8,283.1 349.9,270.0 350.9,248.9 352.0,233.0 353.1,234.3 354.2,233.5 355.2,233.8 356.3,239.6 357.4,257.0 358.5,245.0 359.6,255.3 360.6,248.5 361.7,245.3 362.8,248.3 363.9,272.4 364.9,263.2 366.0,294.7 367.1,304.7 368.2,296.9 369.3,307.8 370.3,315.8 371.4,344.9 372.5,344.7 373.6,366.3 374.6,360.4 375.7,368.6 376.8,377.6 377.9,386.3 378.9,397.7" fill="none" stroke="#9a1414" stroke-width="1.15" stroke-linejoin="round"/><polyline points="55.7,323.0 56.8,291.8 57.9,299.3 58.9,287.9 60.0,294.4 61.1,290.6 62.2,305.3 63.2,307.4 64.3,298.3 65.4,305.1 66.5,312.8 67.6,317.6 68.6,322.0 69.7,327.8 70.8,353.9 71.9,351.1 72.9,357.9 74.0,359.2 75.1,373.2 76.2,379.3 77.2,378.6 78.3,392.5 79.4,397.5 80.5,397.8 81.6,408.3 82.6,405.3 83.7,408.0 84.8,408.7 85.9,408.4 86.9,414.5 88.0,412.5 89.1,416.6 90.2,407.1 91.3,410.4 92.3,402.4 93.4,405.6 94.5,409.3 95.6,410.0 96.6,407.9 97.7,400.6 98.8,409.3 99.9,406.4 101.0,421.7 102.0,412.1 103.1,412.0 104.2,416.2 105.3,412.4 106.3,415.8 107.4,418.3 108.5,419.9 109.6,420.4 110.7,422.6 111.7,421.0 112.8,416.4 113.9,405.8 115.0,375.6 116.0,363.6 117.1,335.5 118.2,329.7 119.3,310.3 120.4,284.7 121.4,276.5 122.5,279.8 123.6,275.5 124.7,278.4 125.7,276.9 126.8,284.6 127.9,292.5 129.0,289.5 130.0,298.1 131.1,303.3 132.2,320.8 133.3,314.9 134.4,330.7 135.4,351.7 136.5,353.9 137.6,350.9 138.7,362.5 139.7,370.8 140.8,379.8 141.9,385.1 143.0,391.9 144.1,403.5 145.1,403.4 146.2,407.6 147.3,412.9 148.4,412.1 149.4,418.9 150.5,420.0 151.6,419.8 152.7,418.7 153.8,418.7 154.8,418.4 155.9,416.4 157.0,422.7 158.1,430.5 159.1,420.2 160.2,421.6 161.3,421.8 162.4,421.8 163.4,424.5 164.5,417.9 165.6,421.5 166.7,417.5 167.8,422.4 168.8,426.7 169.9,421.4 171.0,412.9 172.1,401.7 173.1,382.5 174.2,367.4 175.3,338.7 176.4,318.2 177.5,303.7 178.5,288.5 179.6,286.8 180.7,296.1 181.8,289.2 182.8,297.1 183.9,295.5 185.0,306.8 186.1,304.5 187.2,319.9 188.2,317.6 189.3,306.4 190.4,328.2 191.5,328.3 192.5,333.7 193.6,356.5 194.7,358.9 195.8,362.9 196.9,367.2 197.9,378.6 199.0,383.1 200.1,388.9 201.2,403.2 202.2,403.3 203.3,403.1 204.4,411.5 205.5,409.5 206.6,411.1 207.6,417.3 208.7,418.5 209.8,415.1 210.9,424.2 211.9,420.2 213.0,408.3 214.1,417.4 215.2,412.5 216.2,414.8 217.3,415.9 218.4,415.9 219.5,415.0 220.6,416.7 221.6,423.9 222.7,416.8 223.8,412.0 224.9,424.3 225.9,413.2 227.0,422.4 228.1,412.1 229.2,403.1 230.3,380.0 231.3,363.0 232.4,334.5 233.5,317.0 234.6,295.1 235.6,280.1 236.7,279.4 237.8,287.6 238.9,281.2 240.0,282.5 241.0,265.8 242.1,289.2 243.2,295.2 244.3,288.6 245.3,309.4 246.4,311.1 247.5,319.7 248.6,328.1 249.7,325.0 250.7,341.8 251.8,347.5 252.9,354.8 254.0,365.9 255.0,373.0 256.1,384.2 257.2,388.6 258.3,398.4 259.3,395.0 260.4,412.9 261.5,406.4 262.6,414.9 263.7,414.2 264.7,417.5 265.8,414.8 266.9,423.3 268.0,418.5 269.0,417.1 270.1,423.7 271.2,424.7 272.3,417.7 273.4,414.1 274.4,424.1 275.5,426.2 276.6,426.9 277.7,419.5 278.7,421.3 279.8,415.2 280.9,420.6 282.0,423.1 283.1,422.4 284.1,424.3 285.2,420.1 286.3,421.1 287.4,402.8 288.4,382.8 289.5,358.5 290.6,328.0 291.7,316.8 292.8,295.7 293.8,290.4 294.9,290.0 296.0,287.5 297.1,277.7 298.1,272.6 299.2,301.9 300.3,299.7 301.4,291.9 302.4,296.3 303.5,321.2 304.6,321.1 305.7,320.0 306.8,326.1 307.8,346.4 308.9,348.3 310.0,358.8 311.1,360.3 312.1,364.5 313.2,372.2 314.3,380.7 315.4,392.9 316.5,399.2 317.5,397.9 318.6,401.9 319.7,409.4 320.8,414.2 321.8,421.8 322.9,418.7 324.0,421.8 325.1,420.4 326.2,430.2 327.2,423.3 328.3,426.9 329.4,418.8 330.5,415.3 331.5,421.6 332.6,421.8 333.7,417.9 334.8,417.7 335.9,423.9 336.9,422.9 338.0,416.3 339.1,425.6 340.2,419.7 341.2,420.4 342.3,419.7 343.4,417.7 344.5,411.0 345.5,395.5 346.6,378.2 347.7,360.5 348.8,327.4 349.9,314.1 350.9,287.4 352.0,276.7 353.1,274.1 354.2,282.4 355.2,273.8 356.3,280.6 357.4,292.4 358.5,295.1 359.6,266.6 360.6,301.3 361.7,294.4 362.8,314.9 363.9,325.5 364.9,329.7 366.0,327.8 367.1,335.5 368.2,347.7 369.3,364.5 370.3,361.1 371.4,362.8 372.5,385.6 373.6,388.9 374.6,393.6 375.7,405.0 376.8,406.3 377.9,413.5 378.9,418.3" fill="none" stroke="#1a1a1a" stroke-width="1.15" stroke-linejoin="round"/></g><path d="M50.5,267.2H55.7V294.3H50.5M50.5,285.2H55.7" stroke="#111" stroke-width="1.5" fill="none"/><path d="M52.6,345H55.7V449.4H379.5M52.6,419.8H55.7M55.7,449.4v5.2M77.2,449.4v3.2M98.8,449.4v3.2M120.4,449.4v3.2M141.9,449.4v3.2M163.4,449.4v5.2M185.0,449.4v3.2M206.6,449.4v3.2M228.1,449.4v3.2M249.7,449.4v3.2M271.2,449.4v5.2M292.8,449.4v3.2M314.3,449.4v3.2M335.9,449.4v3.2M357.4,449.4v3.2M378.9,449.4v5.2" stroke="#111" stroke-width="1.5" fill="none"/><text x="48.3" y="271.5" font-size="12" font-weight="bold" font-style="normal" text-anchor="end" fill="#111" >3</text><text x="48.3" y="289.6" font-size="12" font-weight="bold" font-style="normal" text-anchor="end" fill="#111" >2</text><text x="50.2" y="349.5" font-size="12.6" font-weight="bold" font-style="normal" text-anchor="end" fill="#111" >1.5</text><text x="50.2" y="424.2" font-size="12.6" font-weight="bold" font-style="normal" text-anchor="end" fill="#111" >1.0</text><text x="55.7" y="467.4" font-size="12" font-weight="bold" font-style="normal" text-anchor="middle" fill="#111" >0</text><text x="163.4" y="467.4" font-size="12" font-weight="bold" font-style="normal" text-anchor="middle" fill="#111" >5</text><text x="271.2" y="467.4" font-size="12" font-weight="bold" font-style="normal" text-anchor="middle" fill="#111" >10</text><text x="378.9" y="467.4" font-size="12" font-weight="bold" font-style="normal" text-anchor="middle" fill="#111" >15</text><text x="217.9" y="483.2" font-size="12" font-weight="bold" font-style="normal" text-anchor="middle" fill="#111" >Time (s)</text><g transform="translate(23.0,377.0) rotate(-90)"><text x="0" y="0" font-size="15.8" font-weight="bold" font-style="normal" text-anchor="start" fill="#111" textLength="20.7" lengthAdjust="spacingAndGlyphs">F/F</text><text x="21.2" y="4.6" font-size="12" font-weight="bold" font-style="normal" text-anchor="start" fill="#111" textLength="5.8" lengthAdjust="spacingAndGlyphs">0</text></g><line x1="407.6" y1="277.7" x2="416.8" y2="277.7" stroke="#1a1a1a" stroke-width="1.2"/><text x="421.8" y="281.0" font-size="9.2" font-weight="bold" font-style="normal" text-anchor="start" fill="#1a1a1a" >LMC1</text><line x1="407.6" y1="292.6" x2="416.8" y2="292.6" stroke="#9a1414" stroke-width="1.2"/><text x="421.8" y="295.9" font-size="9.2" font-weight="bold" font-style="normal" text-anchor="start" fill="#1a1a1a" >LMC2</text><line x1="407.6" y1="307.2" x2="416.8" y2="307.2" stroke="#f01818" stroke-width="1.2"/><text x="421.8" y="310.5" font-size="9.2" font-weight="bold" font-style="normal" text-anchor="start" fill="#1a1a1a" >LMC3</text><line x1="407.6" y1="322.1" x2="416.8" y2="322.1" stroke="#9c5326" stroke-width="1.2"/><text x="421.8" y="325.4" font-size="9.2" font-weight="bold" font-style="normal" text-anchor="start" fill="#1a1a1a" >LMC4</text><line x1="407.6" y1="336.8" x2="416.8" y2="336.8" stroke="#f58a1f" stroke-width="1.2"/><text x="421.8" y="340.1" font-size="9.2" font-weight="bold" font-style="normal" text-anchor="start" fill="#1a1a1a" >LMC5</text><line x1="407.6" y1="348.6" x2="416.8" y2="348.6" stroke="#fbc561" stroke-width="1.2"/><text x="421.8" y="351.9" font-size="9.2" font-weight="bold" font-style="normal" text-anchor="start" fill="#1a1a1a" >LMC6</text><line x1="407.6" y1="364.0" x2="416.8" y2="364.0" stroke="#8f9a2c" stroke-width="1.2"/><text x="421.8" y="367.3" font-size="9.2" font-weight="bold" font-style="normal" text-anchor="start" fill="#1a1a1a" >LMC7</text><line x1="407.6" y1="378.6" x2="416.8" y2="378.6" stroke="#5f8f22" stroke-width="1.2"/><text x="421.8" y="381.9" font-size="9.2" font-weight="bold" font-style="normal" text-anchor="start" fill="#1a1a1a" >LMC8</text><line x1="407.6" y1="393.1" x2="416.8" y2="393.1" stroke="#1f8c8c" stroke-width="1.2"/><text x="421.8" y="396.4" font-size="9.2" font-weight="bold" font-style="normal" text-anchor="start" fill="#1a1a1a" >LMC9</text><line x1="407.6" y1="407.5" x2="416.8" y2="407.5" stroke="#2fe02f" stroke-width="1.2"/><text x="421.8" y="410.8" font-size="9.2" font-weight="bold" font-style="normal" text-anchor="start" fill="#1a1a1a" >LMC10</text><line x1="407.6" y1="422.4" x2="416.8" y2="422.4" stroke="#36e8f5" stroke-width="1.2"/><text x="421.8" y="425.7" font-size="9.2" font-weight="bold" font-style="normal" text-anchor="start" fill="#1a1a1a" >LMC 11</text><line x1="407.6" y1="436.9" x2="416.8" y2="436.9" stroke="#2a2af0" stroke-width="1.2"/><text x="421.8" y="440.2" font-size="9.2" font-weight="bold" font-style="normal" text-anchor="start" fill="#1a1a1a" >LMC 12</text><line x1="407.6" y1="451.4" x2="416.8" y2="451.4" stroke="#8a22e6" stroke-width="1.2"/><text x="421.8" y="454.7" font-size="9.2" font-weight="bold" font-style="normal" text-anchor="start" fill="#1a1a1a" >LMC 13</text><line x1="407.6" y1="466.0" x2="416.8" y2="466.0" stroke="#f56ccb" stroke-width="1.2"/><text x="421.8" y="469.3" font-size="9.2" font-weight="bold" font-style="normal" text-anchor="start" fill="#1a1a1a" >LMC 14</text>
<text x="504.6" y="256.3" font-size="12" font-weight="bold" font-style="normal" text-anchor="start" fill="#111" >D</text>
<text x="529.8" y="256.7" font-size="12" font-weight="normal" font-style="italic" text-anchor="start" fill="#111" textLength="73.4" lengthAdjust="spacingAndGlyphs">Myh11CreER</text><text x="603.5999999999999" y="251.89999999999998" font-size="8.3" font-weight="normal" font-style="italic" text-anchor="start" fill="#111" >T2</text><text x="614.9" y="256.7" font-size="12" font-weight="normal" font-style="normal" text-anchor="start" fill="#111" >-GCaMP6f</text><text x="678.3" y="256.7" font-size="12" font-weight="normal" font-style="normal" text-anchor="start" fill="#111" >Cell Plots</text>
<clipPath id="dclip"><rect x="553" y="270" width="160" height="215"/></clipPath><g clip-path="url(#dclip)"><polyline points="553.0,396.1 557.5,410.5 562.0,430.1 566.5,431.7 570.9,437.0 575.4,445.1 579.9,456.4 584.4,467.6 588.9,467.7 593.4,465.5 597.9,462.0 602.3,465.9 606.8,467.3 611.3,466.9 615.8,465.5 620.3,469.0 624.8,466.2 629.2,465.2 633.7,460.1 638.2,466.5 642.7,462.6 647.2,470.2 651.7,463.0 656.2,465.7 660.6,468.3 665.1,466.4 669.6,462.9 674.1,467.5 678.6,462.4 683.1,460.5 687.5,460.2 692.0,460.2 696.5,471.1 701.0,460.5 705.5,439.7 710.0,397.4" fill="none" stroke="#1a1a1a" stroke-width="1.3" stroke-linejoin="round"/><polyline points="553.0,369.9 557.5,382.8 562.0,392.6 566.5,399.1 570.9,406.6 575.4,422.5 579.9,418.6 584.4,433.8 588.9,434.0 593.4,435.4 597.9,448.9 602.3,454.0 606.8,451.9 611.3,453.4 615.8,455.7 620.3,459.6 624.8,450.5 629.2,461.6 633.7,461.1 638.2,456.2 642.7,461.9 647.2,457.2 651.7,454.6 656.2,458.6 660.6,456.9 665.1,458.3 669.6,461.0 674.1,470.5 678.6,463.1 683.1,458.5 687.5,464.7 692.0,460.7 696.5,457.8 701.0,442.1 705.5,425.1 710.0,385.6" fill="none" stroke="#9a1414" stroke-width="1.3" stroke-linejoin="round"/><polyline points="553.0,417.4 557.5,424.0 562.0,437.5 566.5,430.4 570.9,444.8 575.4,441.2 579.9,449.3 584.4,449.0 588.9,438.9 593.4,434.6 597.9,448.3 602.3,460.8 606.8,460.5 611.3,463.6 615.8,450.6 620.3,464.3 624.8,468.2 629.2,452.2 633.7,453.6 638.2,459.9 642.7,455.3 647.2,461.7 651.7,460.7 656.2,456.6 660.6,456.9 665.1,458.7 669.6,445.4 674.1,444.2 678.6,451.0 683.1,460.8 687.5,450.9 692.0,444.4 696.5,444.0 701.0,428.5 705.5,409.7 710.0,376.8" fill="none" stroke="#f01818" stroke-width="1.3" stroke-linejoin="round"/><polyline points="553.0,390.2 557.5,403.7 562.0,406.0 566.5,429.5 570.9,430.0 575.4,440.2 579.9,441.2 584.4,436.0 588.9,456.1 593.4,454.9 597.9,455.0 602.3,460.1 606.8,457.4 611.3,467.2 615.8,457.8 620.3,465.4 624.8,466.6 629.2,459.9 633.7,460.3 638.2,465.0 642.7,465.4 647.2,463.1 651.7,462.4 656.2,463.0 660.6,466.3 665.1,471.3 669.6,457.4 674.1,461.8 678.6,467.2 683.1,468.4 687.5,465.1 692.0,462.9 696.5,453.6 701.0,414.9 705.5,386.7 710.0,352.2" fill="none" stroke="#9c5326" stroke-width="1.3" stroke-linejoin="round"/><polyline points="553.0,426.5 557.5,434.4 562.0,437.2 566.5,445.6 570.9,445.4 575.4,447.8 579.9,458.0 584.4,461.2 588.9,465.4 593.4,465.2 597.9,467.9 602.3,463.9 606.8,457.5 611.3,448.3 615.8,449.7 620.3,433.4 624.8,431.2 629.2,429.5 633.7,430.7 638.2,453.2 642.7,444.6 647.2,466.2 651.7,461.6 656.2,466.2 660.6,460.4 665.1,463.9 669.6,463.7 674.1,461.0 678.6,466.5 683.1,460.5 687.5,466.8 692.0,458.6 696.5,439.4 701.0,403.0 705.5,364.0 710.0,324.1" fill="none" stroke="#f58a1f" stroke-width="1.3" stroke-linejoin="round"/><polyline points="553.0,430.9 557.5,435.3 562.0,440.8 566.5,448.9 570.9,456.8 575.4,460.0 579.9,461.8 584.4,474.1 588.9,469.3 593.4,463.5 597.9,474.2 602.3,470.4 606.8,463.3 611.3,467.2 615.8,466.5 620.3,470.6 624.8,475.2 629.2,459.1 633.7,469.0 638.2,469.2 642.7,463.9 647.2,467.1 651.7,470.0 656.2,474.4 660.6,470.8 665.1,470.8 669.6,472.8 674.1,473.5 678.6,474.0 683.1,470.7 687.5,472.5 692.0,467.3 696.5,446.7 701.0,420.2 705.5,384.5 710.0,335.5" fill="none" stroke="#fbc561" stroke-width="1.3" stroke-linejoin="round"/><polyline points="553.0,392.8 557.5,412.4 562.0,418.9 566.5,423.3 570.9,434.1 575.4,433.6 579.9,448.3 584.4,453.3 588.9,444.7 593.4,443.7 597.9,450.4 602.3,452.1 606.8,454.1 611.3,465.5 615.8,466.2 620.3,466.5 624.8,465.8 629.2,468.8 633.7,464.1 638.2,467.9 642.7,462.1 647.2,453.9 651.7,466.5 656.2,459.0 660.6,458.0 665.1,471.3 669.6,462.1 674.1,461.9 678.6,456.8 683.1,444.1 687.5,457.2 692.0,460.5 696.5,453.7 701.0,433.8 705.5,411.9 710.0,371.2" fill="none" stroke="#8f9a2c" stroke-width="1.3" stroke-linejoin="round"/><polyline points="553.0,403.2 557.5,417.7 562.0,414.5 566.5,422.9 570.9,435.6 575.4,442.5 579.9,447.2 584.4,443.7 588.9,453.1 593.4,456.1 597.9,446.0 602.3,444.9 606.8,450.5 611.3,450.4 615.8,456.6 620.3,455.4 624.8,458.7 629.2,455.5 633.7,461.1 638.2,456.7 642.7,455.2 647.2,453.4 651.7,443.1 656.2,433.0 660.6,437.0 665.1,432.5 669.6,445.1 674.1,451.0 678.6,446.5 683.1,428.4 687.5,432.9 692.0,447.0 696.5,431.8 701.0,416.4 705.5,380.3 710.0,350.5" fill="none" stroke="#5f8f22" stroke-width="1.3" stroke-linejoin="round"/><polyline points="553.0,426.7 557.5,435.2 562.0,441.2 566.5,446.3 570.9,441.5 575.4,446.8 579.9,432.2 584.4,431.3 588.9,457.7 593.4,445.0 597.9,448.9 602.3,455.0 606.8,457.9 611.3,466.9 615.8,461.4 620.3,460.5 624.8,458.8 629.2,456.4 633.7,458.7 638.2,451.8 642.7,453.7 647.2,467.1 651.7,453.5 656.2,464.2 660.6,455.5 665.1,460.0 669.6,453.4 674.1,456.6 678.6,460.7 683.1,467.1 687.5,460.1 692.0,450.3 696.5,432.8 701.0,418.1 705.5,390.9 710.0,361.7" fill="none" stroke="#1f8c8c" stroke-width="1.3" stroke-linejoin="round"/><polyline points="553.0,432.6 557.5,443.8 562.0,446.3 566.5,446.6 570.9,455.4 575.4,451.7 579.9,458.3 584.4,462.8 588.9,459.9 593.4,463.6 597.9,466.8 602.3,468.2 606.8,466.2 611.3,464.8 615.8,461.9 620.3,465.2 624.8,468.7 629.2,471.4 633.7,465.4 638.2,464.9 642.7,462.0 647.2,468.4 651.7,471.3 656.2,463.2 660.6,467.0 665.1,471.0 669.6,460.0 674.1,463.0 678.6,466.1 683.1,465.3 687.5,468.3 692.0,448.8 696.5,433.7 701.0,407.8 705.5,376.8 710.0,345.8" fill="none" stroke="#2fe02f" stroke-width="1.3" stroke-linejoin="round"/><polyline points="553.0,427.9 557.5,434.8 562.0,445.3 566.5,461.6 570.9,459.4 575.4,464.5 579.9,464.0 584.4,476.7 588.9,477.6 593.4,471.4 597.9,466.1 602.3,470.7 606.8,461.6 611.3,473.4 615.8,470.0 620.3,470.4 624.8,470.8 629.2,454.9 633.7,451.5 638.2,447.5 642.7,442.6 647.2,456.8 651.7,464.3 656.2,460.6 660.6,452.7 665.1,462.8 669.6,447.2 674.1,467.4 678.6,463.5 683.1,448.0 687.5,426.3 692.0,444.7 696.5,434.6 701.0,412.8 705.5,382.9 710.0,346.8" fill="none" stroke="#36e8f5" stroke-width="1.3" stroke-linejoin="round"/><polyline points="553.0,426.5 557.5,439.3 562.0,441.6 566.5,446.7 570.9,456.0 575.4,452.8 579.9,452.6 584.4,460.1 588.9,463.2 593.4,463.6 597.9,461.4 602.3,467.9 606.8,462.4 611.3,469.0 615.8,464.2 620.3,464.3 624.8,471.2 629.2,463.8 633.7,465.5 638.2,472.7 642.7,468.1 647.2,468.8 651.7,469.8 656.2,464.8 660.6,469.4 665.1,466.2 669.6,470.5 674.1,467.4 678.6,459.4 683.1,464.8 687.5,469.7 692.0,452.7 696.5,428.2 701.0,407.3 705.5,366.5 710.0,335.9" fill="none" stroke="#2a2af0" stroke-width="1.3" stroke-linejoin="round"/><polyline points="553.0,420.5 557.5,430.4 562.0,440.8 566.5,447.0 570.9,453.1 575.4,446.3 579.9,448.2 584.4,456.2 588.9,461.9 593.4,466.7 597.9,453.9 602.3,441.7 606.8,443.4 611.3,433.7 615.8,446.9 620.3,444.8 624.8,443.4 629.2,445.1 633.7,464.2 638.2,465.7 642.7,458.3 647.2,467.4 651.7,464.6 656.2,460.5 660.6,461.2 665.1,469.2 669.6,460.3 674.1,463.7 678.6,457.9 683.1,469.2 687.5,459.6 692.0,450.0 696.5,432.9 701.0,407.0 705.5,373.1 710.0,342.2" fill="none" stroke="#8a22e6" stroke-width="1.3" stroke-linejoin="round"/><polyline points="553.0,421.6 557.5,431.5 562.0,434.1 566.5,434.2 570.9,440.2 575.4,433.3 579.9,440.0 584.4,445.5 588.9,459.9 593.4,454.7 597.9,461.5 602.3,458.2 606.8,459.4 611.3,459.3 615.8,461.7 620.3,464.2 624.8,454.9 629.2,454.9 633.7,459.8 638.2,454.1 642.7,441.0 647.2,435.4 651.7,429.5 656.2,418.9 660.6,430.8 665.1,416.2 669.6,428.2 674.1,440.1 678.6,448.0 683.1,446.8 687.5,436.1 692.0,439.5 696.5,437.9 701.0,411.6 705.5,374.5 710.0,323.2" fill="none" stroke="#f56ccb" stroke-width="1.3" stroke-linejoin="round"/></g><path d="M547.0,274.2H552.7V485.5H710.0M547.5,370.3H552.7M547.5,466.4H552.7M553.0,485.5v5.5M562.0,485.5v3.3M570.9,485.5v3.3M579.9,485.5v3.3M588.9,485.5v3.3M597.9,485.5v5.5M606.8,485.5v3.3M615.8,485.5v3.3M624.8,485.5v3.3M633.7,485.5v3.3M642.7,485.5v5.5M651.7,485.5v3.3M660.6,485.5v3.3M669.6,485.5v3.3M678.6,485.5v3.3M687.5,485.5v5.5M696.5,485.5v3.3M705.5,485.5v3.3" stroke="#111" stroke-width="1.7" fill="none"/><text x="546.0" y="279.0" font-size="13" font-weight="bold" font-style="normal" text-anchor="end" fill="#111" >2.0</text><text x="546.0" y="375.1" font-size="13" font-weight="bold" font-style="normal" text-anchor="end" fill="#111" >1.5</text><text x="546.0" y="471.3" font-size="13" font-weight="bold" font-style="normal" text-anchor="end" fill="#111" >1.0</text><text x="553.0" y="502.3" font-size="13" font-weight="bold" font-style="normal" text-anchor="middle" fill="#111" >1.0</text><text x="597.9" y="502.3" font-size="13" font-weight="bold" font-style="normal" text-anchor="middle" fill="#111" >1.5</text><text x="642.7" y="502.3" font-size="13" font-weight="bold" font-style="normal" text-anchor="middle" fill="#111" >2.0</text><text x="687.5" y="502.3" font-size="13" font-weight="bold" font-style="normal" text-anchor="middle" fill="#111" >2.5</text><text x="631.3" y="520.2" font-size="13" font-weight="bold" font-style="normal" text-anchor="middle" fill="#111" >Time (s)</text><g transform="translate(519.3,398.3) rotate(-90)"><text x="0" y="0" font-size="15.8" font-weight="bold" font-style="normal" text-anchor="start" fill="#111" textLength="20.7" lengthAdjust="spacingAndGlyphs">F/F</text><text x="21.2" y="4.7" font-size="12" font-weight="bold" font-style="normal" text-anchor="start" fill="#111" textLength="5.8" lengthAdjust="spacingAndGlyphs">0</text></g>
<text x="21.4" y="522.9" font-size="12" font-weight="bold" font-style="normal" text-anchor="start" fill="#111" >E</text>
<text x="104.6" y="523.9" font-size="12" font-weight="normal" font-style="italic" text-anchor="start" fill="#111" textLength="73.4" lengthAdjust="spacingAndGlyphs">Myh11CreER</text><text x="178.39999999999998" y="519.1" font-size="8.3" font-weight="normal" font-style="italic" text-anchor="start" fill="#111" >T2</text><text x="189.7" y="523.9" font-size="12" font-weight="normal" font-style="normal" text-anchor="start" fill="#111" >-GCaMP6f</text><text x="253.1" y="523.9" font-size="12" font-weight="normal" font-style="normal" text-anchor="start" fill="#111" >Whole Vessel STM</text>
<text x="200.5" y="541.3" font-size="12" font-weight="normal" font-style="normal" text-anchor="start" fill="#111" >Vessel Axis</text>
<clipPath id="eclip"><rect x="30.4" y="560.4" width="403.1" height="173.2"/></clipPath><g clip-path="url(#eclip)"><g filter="url(#jetE)"><rect x="30.4" y="560.4" width="403.1" height="173.2" fill="#0b0b0b"/><g filter="url(#b2)"><rect x="30.4" y="560.4" width="31.6" height="173.2" fill="#fff" opacity="0.03"/><rect x="62" y="560.4" width="34.0" height="173.2" fill="#fff" opacity="0.05"/><rect x="96" y="560.4" width="12.0" height="173.2" fill="#fff" opacity="0.11"/><rect x="108" y="560.4" width="28.0" height="173.2" fill="#fff" opacity="0.05"/><rect x="136" y="560.4" width="14.0" height="173.2" fill="#fff" opacity="0.14"/><rect x="150" y="560.4" width="26.0" height="173.2" fill="#fff" opacity="0.06"/><rect x="176" y="560.4" width="8.0" height="173.2" fill="#fff" opacity="0.12"/><rect x="184" y="560.4" width="20.0" height="173.2" fill="#fff" opacity="0.11"/><rect x="204" y="560.4" width="14.0" height="173.2" fill="#fff" opacity="0.16"/><rect x="218" y="560.4" width="8.0" height="173.2" fill="#fff" opacity="0.12"/><rect x="226" y="560.4" width="15.0" height="173.2" fill="#fff" opacity="0.16"/><rect x="241" y="560.4" width="17.0" height="173.2" fill="#fff" opacity="0.08"/><rect x="258" y="560.4" width="12.0" height="173.2" fill="#fff" opacity="0.1"/><rect x="270" y="560.4" width="26.0" height="173.2" fill="#fff" opacity="0.09"/><rect x="306" y="560.4" width="23.0" height="173.2" fill="#fff" opacity="0.06"/><rect x="329" y="560.4" width="13.0" height="173.2" fill="#fff" opacity="0.1"/><rect x="342" y="560.4" width="12.0" height="173.2" fill="#fff" opacity="0.06"/><rect x="360" y="560.4" width="10.0" height="173.2" fill="#fff" opacity="0.05"/><rect x="379" y="560.4" width="54.5" height="173.2" fill="#fff" opacity="0.01"/></g><g filter="url(#b1)"><rect x="204.95" y="560.4" width="2.1" height="173.2" fill="#fff" opacity="0.54"/><rect x="209.70" y="560.4" width="2.6" height="173.2" fill="#fff" opacity="0.45"/><rect x="216.45" y="560.4" width="2.1" height="173.2" fill="#fff" opacity="0.57"/><rect x="221.10" y="560.4" width="1.8" height="173.2" fill="#fff" opacity="0.51"/><rect x="224.95" y="560.4" width="2.1" height="173.2" fill="#fff" opacity="0.51"/><rect x="231.95" y="560.4" width="3.1" height="173.2" fill="#fff" opacity="0.45"/><rect x="240.35" y="560.4" width="2.3" height="173.2" fill="#fff" opacity="0.6"/><rect x="248.10" y="560.4" width="1.8" height="173.2" fill="#fff" opacity="0.42"/><rect x="255.85" y="560.4" width="2.3" height="173.2" fill="#fff" opacity="0.54"/><rect x="262.85" y="560.4" width="2.3" height="173.2" fill="#fff" opacity="0.39"/><rect x="269.45" y="560.4" width="2.1" height="173.2" fill="#fff" opacity="0.51"/><rect x="275.20" y="560.4" width="1.6" height="173.2" fill="#fff" opacity="0.39"/><rect x="285.70" y="560.4" width="2.6" height="173.2" fill="#fff" opacity="0.45"/><rect x="291.10" y="560.4" width="1.8" height="173.2" fill="#fff" opacity="0.45"/><rect x="141.35" y="560.4" width="2.3" height="173.2" fill="#fff" opacity="0.45"/><rect x="100.95" y="560.4" width="2.1" height="173.2" fill="#fff" opacity="0.3"/><rect x="188.95" y="560.4" width="2.1" height="173.2" fill="#fff" opacity="0.33"/><rect x="169.10" y="560.4" width="1.8" height="173.2" fill="#fff" opacity="0.27"/><rect x="152.20" y="560.4" width="1.6" height="173.2" fill="#fff" opacity="0.24"/><rect x="311.10" y="560.4" width="1.8" height="173.2" fill="#fff" opacity="0.33"/><rect x="316.95" y="560.4" width="2.1" height="173.2" fill="#fff" opacity="0.3"/><rect x="329.70" y="560.4" width="2.6" height="173.2" fill="#fff" opacity="0.54"/><rect x="334.70" y="560.4" width="2.6" height="173.2" fill="#fff" opacity="0.48"/><rect x="342.10" y="560.4" width="1.8" height="173.2" fill="#fff" opacity="0.33"/><rect x="348.10" y="560.4" width="1.8" height="173.2" fill="#fff" opacity="0.33"/><rect x="362.10" y="560.4" width="1.8" height="173.2" fill="#fff" opacity="0.3"/></g><g filter="url(#b15)"><ellipse cx="248.3" cy="601.6" rx="2.3" ry="7.9" fill="#000" opacity="0.43"/><ellipse cx="276.5" cy="592.2" rx="4.1" ry="7.0" fill="#000" opacity="0.59"/><ellipse cx="294.8" cy="607.0" rx="2.4" ry="5.7" fill="#000" opacity="0.41"/><ellipse cx="276.2" cy="595.5" rx="2.6" ry="4.6" fill="#000" opacity="0.38"/><ellipse cx="290.4" cy="609.6" rx="2.9" ry="7.7" fill="#000" opacity="0.47"/><ellipse cx="253.0" cy="598.7" rx="3.5" ry="5.2" fill="#000" opacity="0.41"/><ellipse cx="252.6" cy="595.6" rx="3.1" ry="8.7" fill="#000" opacity="0.36"/><ellipse cx="215.3" cy="606.4" rx="2.3" ry="5.3" fill="#000" opacity="0.56"/><ellipse cx="260.5" cy="596.0" rx="2.3" ry="5.4" fill="#000" opacity="0.43"/><ellipse cx="278.0" cy="609.6" rx="3.8" ry="8.5" fill="#000" opacity="0.58"/><ellipse cx="284.9" cy="608.6" rx="4.1" ry="4.5" fill="#000" opacity="0.43"/><ellipse cx="228.2" cy="602.9" rx="3.2" ry="5.7" fill="#000" opacity="0.56"/><ellipse cx="241.9" cy="595.8" rx="2.8" ry="6.3" fill="#000" opacity="0.50"/><ellipse cx="257.2" cy="599.9" rx="2.6" ry="6.0" fill="#000" opacity="0.43"/><ellipse cx="221.4" cy="601.8" rx="2.6" ry="7.6" fill="#000" opacity="0.51"/><ellipse cx="218.4" cy="603.3" rx="2.9" ry="6.2" fill="#000" opacity="0.50"/><ellipse cx="341.5" cy="607.9" rx="3.7" ry="5.1" fill="#000" opacity="0.41"/><ellipse cx="322.8" cy="592.3" rx="3.3" ry="6.4" fill="#000" opacity="0.47"/><ellipse cx="322.2" cy="607.0" rx="3.2" ry="4.5" fill="#000" opacity="0.44"/><ellipse cx="320.5" cy="601.6" rx="2.3" ry="4.1" fill="#000" opacity="0.48"/><ellipse cx="309.8" cy="594.7" rx="2.5" ry="4.5" fill="#000" opacity="0.46"/><ellipse cx="351.8" cy="603.7" rx="3.0" ry="8.4" fill="#000" opacity="0.40"/><ellipse cx="313.9" cy="604.4" rx="2.9" ry="5.3" fill="#000" opacity="0.36"/><ellipse cx="324.9" cy="595.3" rx="3.4" ry="8.3" fill="#000" opacity="0.41"/><ellipse cx="206.9" cy="666.9" rx="2.2" ry="6.4" fill="#000" opacity="0.57"/><ellipse cx="266.9" cy="670.5" rx="3.7" ry="5.4" fill="#000" opacity="0.39"/><ellipse cx="246.6" cy="666.9" rx="2.7" ry="5.7" fill="#000" opacity="0.54"/><ellipse cx="237.3" cy="665.6" rx="3.3" ry="8.6" fill="#000" opacity="0.36"/><ellipse cx="222.8" cy="668.5" rx="3.5" ry="4.5" fill="#000" opacity="0.38"/><ellipse cx="225.0" cy="664.7" rx="4.0" ry="5.1" fill="#000" opacity="0.40"/><ellipse cx="267.7" cy="662.8" rx="3.9" ry="9.0" fill="#000" opacity="0.58"/><ellipse cx="270.4" cy="663.9" rx="2.3" ry="8.0" fill="#000" opacity="0.45"/><ellipse cx="247.7" cy="666.1" rx="4.1" ry="6.8" fill="#000" opacity="0.58"/><ellipse cx="292.8" cy="657.4" rx="2.9" ry="8.4" fill="#000" opacity="0.54"/><ellipse cx="293.2" cy="659.0" rx="3.3" ry="8.7" fill="#000" opacity="0.48"/><ellipse cx="266.3" cy="671.6" rx="2.5" ry="4.3" fill="#000" opacity="0.56"/><ellipse cx="258.3" cy="659.2" rx="3.9" ry="5.4" fill="#000" opacity="0.38"/><ellipse cx="232.8" cy="656.6" rx="3.0" ry="7.9" fill="#000" opacity="0.46"/><ellipse cx="292.8" cy="656.7" rx="2.5" ry="4.7" fill="#000" opacity="0.49"/><ellipse cx="224.0" cy="666.7" rx="3.2" ry="6.9" fill="#000" opacity="0.56"/><ellipse cx="342.8" cy="670.8" rx="2.5" ry="5.9" fill="#000" opacity="0.49"/><ellipse cx="325.5" cy="660.6" rx="3.2" ry="4.9" fill="#000" opacity="0.47"/><ellipse cx="336.0" cy="657.5" rx="4.1" ry="6.6" fill="#000" opacity="0.35"/><ellipse cx="335.0" cy="671.2" rx="2.9" ry="4.1" fill="#000" opacity="0.34"/><ellipse cx="310.6" cy="664.5" rx="2.8" ry="8.3" fill="#000" opacity="0.34"/><ellipse cx="308.7" cy="663.4" rx="2.4" ry="5.6" fill="#000" opacity="0.35"/><ellipse cx="315.8" cy="666.2" rx="4.1" ry="5.9" fill="#000" opacity="0.43"/><ellipse cx="322.2" cy="670.6" rx="3.3" ry="4.1" fill="#000" opacity="0.45"/><ellipse cx="224.9" cy="710.9" rx="2.2" ry="8.2" fill="#000" opacity="0.53"/><ellipse cx="238.2" cy="720.6" rx="3.6" ry="4.4" fill="#000" opacity="0.53"/><ellipse cx="269.8" cy="727.9" rx="2.3" ry="6.9" fill="#000" opacity="0.48"/><ellipse cx="282.2" cy="716.9" rx="3.5" ry="8.5" fill="#000" opacity="0.44"/><ellipse cx="252.4" cy="727.0" rx="2.3" ry="8.9" fill="#000" opacity="0.43"/><ellipse cx="247.2" cy="715.5" rx="3.8" ry="6.7" fill="#000" opacity="0.54"/><ellipse cx="215.3" cy="726.7" rx="3.8" ry="7.4" fill="#000" opacity="0.41"/><ellipse cx="229.4" cy="718.6" rx="2.3" ry="8.8" fill="#000" opacity="0.45"/><ellipse cx="291.8" cy="713.5" rx="3.5" ry="8.0" fill="#000" opacity="0.51"/><ellipse cx="244.1" cy="710.4" rx="3.1" ry="6.0" fill="#000" opacity="0.59"/><ellipse cx="293.6" cy="728.2" rx="4.2" ry="4.8" fill="#000" opacity="0.36"/><ellipse cx="232.3" cy="710.2" rx="2.4" ry="6.9" fill="#000" opacity="0.40"/><ellipse cx="261.0" cy="717.2" rx="2.7" ry="8.8" fill="#000" opacity="0.40"/><ellipse cx="285.4" cy="720.0" rx="3.5" ry="4.7" fill="#000" opacity="0.54"/><ellipse cx="286.1" cy="713.8" rx="3.1" ry="7.3" fill="#000" opacity="0.47"/><ellipse cx="273.7" cy="722.2" rx="2.8" ry="7.4" fill="#000" opacity="0.54"/><ellipse cx="328.4" cy="721.2" rx="3.5" ry="6.4" fill="#000" opacity="0.32"/><ellipse cx="325.9" cy="724.8" rx="3.6" ry="4.4" fill="#000" opacity="0.40"/><ellipse cx="333.9" cy="720.1" rx="2.5" ry="7.2" fill="#000" opacity="0.44"/><ellipse cx="331.6" cy="727.9" rx="3.4" ry="4.1" fill="#000" opacity="0.36"/><ellipse cx="338.9" cy="711.5" rx="4.1" ry="7.5" fill="#000" opacity="0.45"/><ellipse cx="315.5" cy="710.1" rx="3.9" ry="6.6" fill="#000" opacity="0.39"/><ellipse cx="330.8" cy="724.6" rx="2.9" ry="7.9" fill="#000" opacity="0.33"/><ellipse cx="351.1" cy="723.2" rx="2.8" ry="6.4" fill="#000" opacity="0.48"/></g><g filter="url(#b1)"><polygon points="29.9,558.0 34.0,558.0 33.6,581.1 30.3,581.1" fill="url(#decv)" opacity="0.49"/><polygon points="35.0,558.0 45.5,558.0 44.5,583.2 36.0,583.2" fill="url(#decv)" opacity="0.81"/><polygon points="44.5,558.0 52.5,558.0 51.7,584.2 45.3,584.2" fill="url(#decv)" opacity="0.84"/><polygon points="51.5,558.0 59.0,558.0 58.2,584.0 52.2,584.0" fill="url(#decv)" opacity="0.57"/><polygon points="62.5,558.0 70.5,558.0 69.7,581.4 63.3,581.4" fill="url(#decv)" opacity="0.52"/><polygon points="69.5,558.0 78.5,558.0 77.6,582.9 70.4,582.9" fill="url(#decv)" opacity="0.73"/><polygon points="77.5,558.0 86.5,558.0 85.6,581.8 78.4,581.8" fill="url(#decv)" opacity="0.52"/><polygon points="85.5,558.0 96.5,558.0 95.4,586.6 86.6,586.6" fill="url(#decv)" opacity="0.74"/><polygon points="95.5,558.0 108.5,558.0 104.9,588.0 99.1,588.0" fill="url(#decv)" opacity="0.96"/><polygon points="107.5,558.0 118.5,558.0 117.4,585.9 108.6,585.9" fill="url(#decv)" opacity="0.88"/><polygon points="117.5,558.0 126.5,558.0 125.6,584.6 118.4,584.6" fill="url(#decv)" opacity="0.80"/><polygon points="125.5,558.0 136.5,558.0 135.4,584.0 126.6,584.0" fill="url(#decv)" opacity="0.78"/><polygon points="135.5,558.0 150.0,558.0 146.0,589.0 139.5,589.0" fill="url(#decv)" opacity="0.98"/><polygon points="149.0,558.0 158.5,558.0 157.6,583.3 149.9,583.3" fill="url(#decv)" opacity="0.61"/><polygon points="157.5,558.0 166.5,558.0 165.6,584.1 158.4,584.1" fill="url(#decv)" opacity="0.69"/><polygon points="165.5,558.0 174.5,558.0 173.6,585.1 166.4,585.1" fill="url(#decv)" opacity="0.82"/><polygon points="173.5,558.0 177.0,558.0 176.7,580.6 173.8,580.6" fill="url(#decv)" opacity="0.56"/><polygon points="176.0,558.0 184.5,558.0 183.7,584.9 176.8,584.9" fill="url(#decv)" opacity="0.90"/><polygon points="183.5,558.0 197.5,558.0 196.1,583.9 184.9,583.9" fill="url(#decv)" opacity="0.50"/><polygon points="204.0,558.0 217.5,558.0 213.8,591.6 207.7,591.6" fill="url(#decv)" opacity="0.99"/><polygon points="216.5,558.0 227.0,558.0 225.9,584.3 217.6,584.3" fill="url(#decv)" opacity="0.57"/><polygon points="226.0,558.0 241.5,558.0 237.2,592.1 230.3,592.1" fill="url(#decv)" opacity="0.96"/><polygon points="240.5,558.0 250.5,558.0 249.5,584.6 241.5,584.6" fill="url(#decv)" opacity="0.50"/><polygon points="249.5,558.0 258.5,558.0 257.6,584.6 250.4,584.6" fill="url(#decv)" opacity="0.62"/><polygon points="257.5,558.0 270.5,558.0 269.2,586.4 258.8,586.4" fill="url(#decv)" opacity="0.85"/><polygon points="269.5,558.0 280.5,558.0 279.4,581.5 270.6,581.5" fill="url(#decv)" opacity="0.50"/><polygon points="281.5,558.0 294.5,558.0 293.2,582.8 282.8,582.8" fill="url(#decv)" opacity="0.79"/><polygon points="305.5,558.0 312.5,558.0 311.8,575.0 306.2,575.0" fill="url(#decv)" opacity="0.29"/><polygon points="311.5,558.0 329.5,558.0 327.7,578.7 313.3,578.7" fill="url(#decv)" opacity="0.44"/><polygon points="328.5,558.0 342.5,558.0 341.1,583.2 329.9,583.2" fill="url(#decv)" opacity="0.67"/><polygon points="341.5,558.0 354.0,558.0 352.8,578.3 342.8,578.3" fill="url(#decv)" opacity="0.42"/><polygon points="359.5,558.0 369.5,558.0 368.5,581.5 360.5,581.5" fill="url(#decv)" opacity="0.33"/><polygon points="378.5,558.0 404.5,558.0 401.9,577.1 381.1,577.1" fill="url(#decv)" opacity="0.15"/><polygon points="403.5,558.0 434.0,558.0 430.9,575.2 406.6,575.2" fill="url(#decv)" opacity="0.13"/><polygon points="29.9,618.6 34.0,618.6 33.6,641.6 30.3,641.6" fill="url(#decv)" opacity="0.52"/><polygon points="35.0,618.6 45.5,618.6 44.5,647.1 36.0,647.1" fill="url(#decv)" opacity="0.75"/><polygon points="44.5,618.6 52.5,618.6 51.7,647.7 45.3,647.7" fill="url(#decv)" opacity="0.88"/><polygon points="51.5,618.6 59.0,618.6 58.2,643.1 52.2,643.1" fill="url(#decv)" opacity="0.60"/><polygon points="62.5,618.6 70.5,618.6 69.7,641.0 63.3,641.0" fill="url(#decv)" opacity="0.51"/><polygon points="69.5,618.6 78.5,618.6 77.6,646.0 70.4,646.0" fill="url(#decv)" opacity="0.74"/><polygon points="77.5,618.6 86.5,618.6 85.6,643.1 78.4,643.1" fill="url(#decv)" opacity="0.50"/><polygon points="85.5,618.6 96.5,618.6 95.4,646.5 86.6,646.5" fill="url(#decv)" opacity="0.78"/><polygon points="95.5,618.6 108.5,618.6 104.9,650.5 99.1,650.5" fill="url(#decv)" opacity="0.99"/><polygon points="107.5,618.6 118.5,618.6 117.4,646.7 108.6,646.7" fill="url(#decv)" opacity="0.88"/><polygon points="117.5,618.6 126.5,618.6 125.6,645.7 118.4,645.7" fill="url(#decv)" opacity="0.75"/><polygon points="125.5,618.6 136.5,618.6 135.4,646.4 126.6,646.4" fill="url(#decv)" opacity="0.75"/><polygon points="135.5,618.6 150.0,618.6 146.0,651.5 139.5,651.5" fill="url(#decv)" opacity="0.97"/><polygon points="149.0,618.6 158.5,618.6 157.6,643.7 149.9,643.7" fill="url(#decv)" opacity="0.59"/><polygon points="157.5,618.6 166.5,618.6 165.6,644.1 158.4,644.1" fill="url(#decv)" opacity="0.73"/><polygon points="165.5,618.6 174.5,618.6 173.6,645.7 166.4,645.7" fill="url(#decv)" opacity="0.87"/><polygon points="173.5,618.6 177.0,618.6 176.7,641.0 173.8,641.0" fill="url(#decv)" opacity="0.56"/><polygon points="176.0,618.6 184.5,618.6 183.7,648.1 176.8,648.1" fill="url(#decv)" opacity="0.86"/><polygon points="183.5,618.6 197.5,618.6 196.1,644.5 184.9,644.5" fill="url(#decv)" opacity="0.51"/><polygon points="204.0,618.6 217.5,618.6 213.8,654.4 207.7,654.4" fill="url(#decv)" opacity="0.99"/><polygon points="216.5,618.6 227.0,618.6 225.9,646.1 217.6,646.1" fill="url(#decv)" opacity="0.60"/><polygon points="226.0,618.6 241.5,618.6 237.2,651.4 230.3,651.4" fill="url(#decv)" opacity="0.98"/><polygon points="240.5,618.6 250.5,618.6 249.5,646.6 241.5,646.6" fill="url(#decv)" opacity="0.51"/><polygon points="249.5,618.6 258.5,618.6 257.6,646.0 250.4,646.0" fill="url(#decv)" opacity="0.58"/><polygon points="257.5,618.6 270.5,618.6 269.2,649.9 258.8,649.9" fill="url(#decv)" opacity="0.87"/><polygon points="269.5,618.6 280.5,618.6 279.4,642.5 270.6,642.5" fill="url(#decv)" opacity="0.52"/><polygon points="281.5,618.6 294.5,618.6 293.2,644.4 282.8,644.4" fill="url(#decv)" opacity="0.86"/><polygon points="305.5,618.6 312.5,618.6 311.8,637.0 306.2,637.0" fill="url(#decv)" opacity="0.28"/><polygon points="311.5,618.6 329.5,618.6 327.7,638.7 313.3,638.7" fill="url(#decv)" opacity="0.43"/><polygon points="328.5,618.6 342.5,618.6 341.1,643.0 329.9,643.0" fill="url(#decv)" opacity="0.69"/><polygon points="341.5,618.6 354.0,618.6 352.8,639.4 342.8,639.4" fill="url(#decv)" opacity="0.46"/><polygon points="359.5,618.6 369.5,618.6 368.5,641.9 360.5,641.9" fill="url(#decv)" opacity="0.31"/><polygon points="378.5,618.6 404.5,618.6 401.9,639.3 381.1,639.3" fill="url(#decv)" opacity="0.14"/><polygon points="403.5,618.6 434.0,618.6 430.9,635.1 406.6,635.1" fill="url(#decv)" opacity="0.14"/><polygon points="29.9,679.0 34.0,679.0 33.6,702.8 30.3,702.8" fill="url(#decv)" opacity="0.48"/><polygon points="35.0,679.0 45.5,679.0 44.5,705.2 36.0,705.2" fill="url(#decv)" opacity="0.79"/><polygon points="44.5,679.0 52.5,679.0 51.7,707.8 45.3,707.8" fill="url(#decv)" opacity="0.83"/><polygon points="51.5,679.0 59.0,679.0 58.2,704.9 52.2,704.9" fill="url(#decv)" opacity="0.58"/><polygon points="62.5,679.0 70.5,679.0 69.7,702.8 63.3,702.8" fill="url(#decv)" opacity="0.53"/><polygon points="69.5,679.0 78.5,679.0 77.6,706.5 70.4,706.5" fill="url(#decv)" opacity="0.74"/><polygon points="77.5,679.0 86.5,679.0 85.6,701.1 78.4,701.1" fill="url(#decv)" opacity="0.50"/><polygon points="85.5,679.0 96.5,679.0 95.4,707.0 86.6,707.0" fill="url(#decv)" opacity="0.74"/><polygon points="95.5,679.0 108.5,679.0 104.9,710.4 99.1,710.4" fill="url(#decv)" opacity="0.96"/><polygon points="107.5,679.0 118.5,679.0 117.4,707.8 108.6,707.8" fill="url(#decv)" opacity="0.82"/><polygon points="117.5,679.0 126.5,679.0 125.6,703.8 118.4,703.8" fill="url(#decv)" opacity="0.76"/><polygon points="125.5,679.0 136.5,679.0 135.4,705.2 126.6,705.2" fill="url(#decv)" opacity="0.76"/><polygon points="135.5,679.0 150.0,679.0 146.0,711.1 139.5,711.1" fill="url(#decv)" opacity="0.97"/><polygon points="149.0,679.0 158.5,679.0 157.6,703.7 149.9,703.7" fill="url(#decv)" opacity="0.62"/><polygon points="157.5,679.0 166.5,679.0 165.6,705.4 158.4,705.4" fill="url(#decv)" opacity="0.75"/><polygon points="165.5,679.0 174.5,679.0 173.6,705.3 166.4,705.3" fill="url(#decv)" opacity="0.88"/><polygon points="173.5,679.0 177.0,679.0 176.7,703.3 173.8,703.3" fill="url(#decv)" opacity="0.55"/><polygon points="176.0,679.0 184.5,679.0 183.7,706.9 176.8,706.9" fill="url(#decv)" opacity="0.87"/><polygon points="183.5,679.0 197.5,679.0 196.1,705.0 184.9,705.0" fill="url(#decv)" opacity="0.50"/><polygon points="204.0,679.0 217.5,679.0 213.8,708.7 207.7,708.7" fill="url(#decv)" opacity="1.00"/><polygon points="216.5,679.0 227.0,679.0 225.9,702.3 217.6,702.3" fill="url(#decv)" opacity="0.59"/><polygon points="226.0,679.0 241.5,679.0 237.2,707.6 230.3,707.6" fill="url(#decv)" opacity="0.96"/><polygon points="240.5,679.0 250.5,679.0 249.5,702.1 241.5,702.1" fill="url(#decv)" opacity="0.52"/><polygon points="249.5,679.0 258.5,679.0 257.6,701.5 250.4,701.5" fill="url(#decv)" opacity="0.60"/><polygon points="257.5,679.0 270.5,679.0 269.2,702.9 258.8,702.9" fill="url(#decv)" opacity="0.89"/><polygon points="269.5,679.0 280.5,679.0 279.4,699.9 270.6,699.9" fill="url(#decv)" opacity="0.51"/><polygon points="281.5,679.0 294.5,679.0 293.2,700.8 282.8,700.8" fill="url(#decv)" opacity="0.85"/><polygon points="305.5,679.0 312.5,679.0 311.8,694.0 306.2,694.0" fill="url(#decv)" opacity="0.28"/><polygon points="311.5,679.0 329.5,679.0 327.7,697.7 313.3,697.7" fill="url(#decv)" opacity="0.43"/><polygon points="328.5,679.0 342.5,679.0 341.1,700.5 329.9,700.5" fill="url(#decv)" opacity="0.70"/><polygon points="341.5,679.0 354.0,679.0 352.8,696.6 342.8,696.6" fill="url(#decv)" opacity="0.43"/><polygon points="359.5,679.0 369.5,679.0 368.5,697.9 360.5,697.9" fill="url(#decv)" opacity="0.31"/><polygon points="378.5,679.0 404.5,679.0 401.9,696.5 381.1,696.5" fill="url(#decv)" opacity="0.14"/><polygon points="403.5,679.0 434.0,679.0 430.9,692.8 406.6,692.8" fill="url(#decv)" opacity="0.14"/></g><g filter="url(#b15)"><path d="M97.5,558.0L107.0,558.0L106.2,566.5Q103.8,580.0 102.2,586.2Q100.7,580.0 98.3,566.5Z" fill="url(#hotv)" opacity="1.0"/><path d="M138.0,558.0L148.5,558.0L147.7,567.9Q144.9,583.7 143.2,590.9Q141.6,583.7 138.8,567.9Z" fill="url(#hotv)" opacity="1.0"/><path d="M206.5,558.0L215.0,558.0L214.3,567.4Q212.1,582.5 210.8,589.4Q209.4,582.5 207.2,567.4Z" fill="url(#hotv)" opacity="1.0"/><path d="M227.0,558.0L240.5,558.0L239.4,567.4Q235.9,582.5 233.8,589.4Q231.6,582.5 228.1,567.4Z" fill="url(#hotv)" opacity="1.0"/><path d="M198.5,558.0L205.0,558.0L204.5,566.0Q202.8,578.8 201.8,584.7Q200.7,578.8 199.0,566.0Z" fill="url(#hotv)" opacity="0.9"/><path d="M260.0,558.0L268.0,558.0L267.4,564.6Q265.3,575.1 264.0,580.0Q262.7,575.1 260.6,564.6Z" fill="url(#hotv)" opacity="0.5"/><path d="M46.0,558.0L51.0,558.0L50.6,563.2Q49.3,571.5 48.5,575.2Q47.7,571.5 46.4,563.2Z" fill="url(#hotv)" opacity="0.35"/><path d="M167.0,558.0L173.0,558.0L172.5,563.6Q171.0,572.7 170.0,576.8Q169.0,572.7 167.5,563.6Z" fill="url(#hotv)" opacity="0.4"/><path d="M177.0,558.0L183.0,558.0L182.5,564.1Q181.0,573.9 180.0,578.4Q179.0,573.9 177.5,564.1Z" fill="url(#hotv)" opacity="0.45"/><path d="M97.5,618.6L107.0,618.6L106.2,627.2Q103.8,641.1 102.2,647.4Q100.7,641.1 98.3,627.2Z" fill="url(#hotv)" opacity="1.0"/><path d="M138.0,618.6L148.5,618.6L147.7,628.7Q144.9,644.8 143.2,652.2Q141.6,644.8 138.8,628.7Z" fill="url(#hotv)" opacity="1.0"/><path d="M206.5,618.6L215.0,618.6L214.3,628.2Q212.1,643.6 210.8,650.6Q209.4,643.6 207.2,628.2Z" fill="url(#hotv)" opacity="1.0"/><path d="M227.0,618.6L240.5,618.6L239.4,628.2Q235.9,643.6 233.8,650.6Q231.6,643.6 228.1,628.2Z" fill="url(#hotv)" opacity="1.0"/><path d="M198.5,618.6L205.0,618.6L204.5,626.8Q202.8,639.8 201.8,645.8Q200.7,639.8 199.0,626.8Z" fill="url(#hotv)" opacity="0.9"/><path d="M260.0,618.6L268.0,618.6L267.4,625.3Q265.3,636.1 264.0,641.0Q262.7,636.1 260.6,625.3Z" fill="url(#hotv)" opacity="0.5"/><path d="M46.0,618.6L51.0,618.6L50.6,623.9Q49.3,632.3 48.5,636.2Q47.7,632.3 46.4,623.9Z" fill="url(#hotv)" opacity="0.35"/><path d="M167.0,618.6L173.0,618.6L172.5,624.4Q171.0,633.6 170.0,637.8Q169.0,633.6 167.5,624.4Z" fill="url(#hotv)" opacity="0.4"/><path d="M177.0,618.6L183.0,618.6L182.5,624.8Q181.0,634.8 180.0,639.4Q179.0,634.8 177.5,624.8Z" fill="url(#hotv)" opacity="0.45"/><path d="M97.5,679.0L107.0,679.0L106.2,687.5Q103.8,701.0 102.2,707.2Q100.7,701.0 98.3,687.5Z" fill="url(#hotv)" opacity="1.0"/><path d="M138.0,679.0L148.5,679.0L147.7,688.9Q144.9,704.7 143.2,711.9Q141.6,704.7 138.8,688.9Z" fill="url(#hotv)" opacity="1.0"/><path d="M206.5,679.0L215.0,679.0L214.3,687.1Q212.1,700.0 210.8,705.9Q209.4,700.0 207.2,687.1Z" fill="url(#hotv)" opacity="1.0"/><path d="M227.0,679.0L240.5,679.0L239.4,687.1Q235.9,700.0 233.8,705.9Q231.6,700.0 228.1,687.1Z" fill="url(#hotv)" opacity="1.0"/><path d="M198.5,679.0L205.0,679.0L204.5,685.9Q202.8,696.8 201.8,701.8Q200.7,696.8 199.0,685.9Z" fill="url(#hotv)" opacity="0.9"/><path d="M260.0,679.0L268.0,679.0L267.4,684.6Q265.3,693.7 264.0,697.8Q262.7,693.7 260.6,684.6Z" fill="url(#hotv)" opacity="0.5"/><path d="M46.0,679.0L51.0,679.0L50.6,684.2Q49.3,692.5 48.5,696.2Q47.7,692.5 46.4,684.2Z" fill="url(#hotv)" opacity="0.35"/><path d="M167.0,679.0L173.0,679.0L172.5,684.6Q171.0,693.7 170.0,697.8Q169.0,693.7 167.5,684.6Z" fill="url(#hotv)" opacity="0.4"/><path d="M177.0,679.0L183.0,679.0L182.5,685.1Q181.0,694.9 180.0,699.4Q179.0,694.9 177.5,685.1Z" fill="url(#hotv)" opacity="0.45"/></g><g filter="url(#b05)"><rect x="33.60" y="560.4" width="1.6" height="173.2" fill="#fff" opacity="0.64"/><rect x="60.50" y="560.4" width="2.0" height="173.2" fill="#fff" opacity="0.8"/><rect x="83.70" y="560.4" width="1.0" height="173.2" fill="#fff" opacity="0.35"/><rect x="119.70" y="560.4" width="1.2" height="173.2" fill="#fff" opacity="0.3"/><rect x="177.80" y="560.4" width="1.4" height="173.2" fill="#fff" opacity="0.42"/><rect x="198.60" y="560.4" width="3.8" height="173.2" fill="#fff" opacity="1.0"/><rect x="221.40" y="560.4" width="1.2" height="173.2" fill="#fff" opacity="0.4"/><rect x="279.90" y="560.4" width="1.6" height="173.2" fill="#fff" opacity="0.7"/><rect x="295.00" y="560.4" width="2.0" height="173.2" fill="#fff" opacity="0.95"/><rect x="299.60" y="560.4" width="1.6" height="173.2" fill="#fff" opacity="0.7"/><rect x="302.70" y="560.4" width="2.6" height="173.2" fill="#fff" opacity="1.0"/><rect x="354.50" y="560.4" width="4.4" height="173.2" fill="#fff" opacity="1.0"/><rect x="367.00" y="560.4" width="1.4" height="173.2" fill="#fff" opacity="0.6"/><rect x="369.90" y="560.4" width="9.0" height="173.2" fill="#fff" opacity="1.0"/><rect x="404.90" y="560.4" width="2.2" height="173.2" fill="#fff" opacity="0.69"/></g></g><g filter="url(#b05)" fill="#ff0600" opacity="0.85"><path d="M98.7,559.5L105.8,559.5L105.2,566.4Q103.4,577.6 102.2,582.6Q101.1,577.6 99.3,566.4Z"/><path d="M139.2,559.5L147.3,559.5L146.7,567.6Q144.5,580.6 143.2,586.5Q142.0,580.6 139.8,567.6Z"/><path d="M207.7,559.5L213.8,559.5L213.3,567.2Q211.7,579.6 210.8,585.2Q209.8,579.6 208.2,567.2Z"/><path d="M228.2,559.5L239.3,559.5L238.4,567.2Q235.5,579.6 233.8,585.2Q232.0,579.6 229.1,567.2Z"/><path d="M98.7,620.1L105.8,620.1L105.2,627.2Q103.4,638.5 102.2,643.7Q101.1,638.5 99.3,627.2Z"/><path d="M139.2,620.1L147.3,620.1L146.7,628.4Q144.5,641.6 143.2,647.7Q142.0,641.6 139.8,628.4Z"/><path d="M207.7,620.1L213.8,620.1L213.3,628.0Q211.7,640.6 210.8,646.3Q209.8,640.6 208.2,628.0Z"/><path d="M228.2,620.1L239.3,620.1L238.4,628.0Q235.5,640.6 233.8,646.3Q232.0,640.6 229.1,628.0Z"/><path d="M98.7,680.5L105.8,680.5L105.2,687.4Q103.4,698.6 102.2,703.6Q101.1,698.6 99.3,687.4Z"/><path d="M139.2,680.5L147.3,680.5L146.7,688.6Q144.5,701.6 143.2,707.5Q142.0,701.6 139.8,688.6Z"/><path d="M207.7,680.5L213.8,680.5L213.3,687.1Q211.7,697.7 210.8,702.5Q209.8,697.7 208.2,687.1Z"/><path d="M228.2,680.5L239.3,680.5L238.4,687.1Q235.5,697.7 233.8,702.5Q232.0,697.7 229.1,687.1Z"/><rect x="370.6" y="560.4" width="7.6" height="173.2"/><rect x="355.4" y="560.4" width="2.4" height="173.2"/><rect x="199.4" y="560.4" width="2.2" height="173.2"/><rect x="303.2" y="560.4" width="1.6" height="173.2"/></g></g><g fill="#fff"><circle cx="30.2" cy="580.1" r="2.2"/><circle cx="30.2" cy="617.8" r="2.2"/><circle cx="39.3" cy="580.1" r="2.2"/><circle cx="39.3" cy="617.8" r="2.2"/><circle cx="48.4" cy="580.1" r="2.2"/><circle cx="48.4" cy="617.8" r="2.2"/><circle cx="57.5" cy="580.1" r="2.2"/><circle cx="57.5" cy="617.8" r="2.2"/><circle cx="66.6" cy="580.1" r="2.2"/><circle cx="66.6" cy="617.8" r="2.2"/><circle cx="75.7" cy="580.1" r="2.2"/><circle cx="75.7" cy="617.8" r="2.2"/><circle cx="84.8" cy="580.1" r="2.2"/><circle cx="84.8" cy="617.8" r="2.2"/><circle cx="94.0" cy="580.1" r="2.2"/><circle cx="94.0" cy="617.8" r="2.2"/><circle cx="103.1" cy="580.1" r="2.2"/><circle cx="103.1" cy="617.8" r="2.2"/><circle cx="112.2" cy="580.1" r="2.2"/><circle cx="112.2" cy="617.8" r="2.2"/><circle cx="121.3" cy="580.1" r="2.2"/><circle cx="121.3" cy="617.8" r="2.2"/><circle cx="130.4" cy="580.1" r="2.2"/><circle cx="130.4" cy="617.8" r="2.2"/><circle cx="139.5" cy="580.1" r="2.2"/><circle cx="139.5" cy="617.8" r="2.2"/><circle cx="148.6" cy="580.1" r="2.2"/><circle cx="148.6" cy="617.8" r="2.2"/><circle cx="157.7" cy="580.1" r="2.2"/><circle cx="157.7" cy="617.8" r="2.2"/><circle cx="166.8" cy="580.1" r="2.2"/><circle cx="166.8" cy="617.8" r="2.2"/><circle cx="175.9" cy="580.1" r="2.2"/><circle cx="175.9" cy="617.8" r="2.2"/><circle cx="185.0" cy="580.1" r="2.2"/><circle cx="185.0" cy="617.8" r="2.2"/><circle cx="194.1" cy="580.1" r="2.2"/><circle cx="194.1" cy="617.8" r="2.2"/><circle cx="203.3" cy="580.1" r="2.2"/><circle cx="203.3" cy="617.8" r="2.2"/><circle cx="212.4" cy="580.1" r="2.2"/><circle cx="212.4" cy="617.8" r="2.2"/><circle cx="221.5" cy="580.1" r="2.2"/><circle cx="221.5" cy="617.8" r="2.2"/><circle cx="230.6" cy="580.1" r="2.2"/><circle cx="230.6" cy="617.8" r="2.2"/><circle cx="239.7" cy="580.1" r="2.2"/><circle cx="239.7" cy="617.8" r="2.2"/><circle cx="248.8" cy="580.1" r="2.2"/><circle cx="248.8" cy="617.8" r="2.2"/><circle cx="257.9" cy="580.1" r="2.2"/><circle cx="257.9" cy="617.8" r="2.2"/><circle cx="267.0" cy="580.1" r="2.2"/><circle cx="267.0" cy="617.8" r="2.2"/><circle cx="276.1" cy="580.1" r="2.2"/><circle cx="276.1" cy="617.8" r="2.2"/><circle cx="285.2" cy="580.1" r="2.2"/><circle cx="285.2" cy="617.8" r="2.2"/><circle cx="294.3" cy="580.1" r="2.2"/><circle cx="294.3" cy="617.8" r="2.2"/><circle cx="303.4" cy="580.1" r="2.2"/><circle cx="303.4" cy="617.8" r="2.2"/><circle cx="312.5" cy="580.1" r="2.2"/><circle cx="312.5" cy="617.8" r="2.2"/><circle cx="321.7" cy="580.1" r="2.2"/><circle cx="321.7" cy="617.8" r="2.2"/><circle cx="330.8" cy="580.1" r="2.2"/><circle cx="330.8" cy="617.8" r="2.2"/><circle cx="339.9" cy="580.1" r="2.2"/><circle cx="339.9" cy="617.8" r="2.2"/><circle cx="349.0" cy="580.1" r="2.2"/><circle cx="349.0" cy="617.8" r="2.2"/><circle cx="358.1" cy="580.1" r="2.2"/><circle cx="358.1" cy="617.8" r="2.2"/><circle cx="367.2" cy="580.1" r="2.2"/><circle cx="367.2" cy="617.8" r="2.2"/><circle cx="376.3" cy="580.1" r="2.2"/><circle cx="376.3" cy="617.8" r="2.2"/><circle cx="385.4" cy="580.1" r="2.2"/><circle cx="385.4" cy="617.8" r="2.2"/><circle cx="394.5" cy="580.1" r="2.2"/><circle cx="394.5" cy="617.8" r="2.2"/><circle cx="403.6" cy="580.1" r="2.2"/><circle cx="403.6" cy="617.8" r="2.2"/><circle cx="412.7" cy="580.1" r="2.2"/><circle cx="412.7" cy="617.8" r="2.2"/><circle cx="421.8" cy="580.1" r="2.2"/><circle cx="421.8" cy="617.8" r="2.2"/><circle cx="431.0" cy="580.1" r="2.2"/><circle cx="431.0" cy="617.8" r="2.2"/><circle cx="431.8" cy="589.5" r="2.2"/><circle cx="431.8" cy="598.9" r="2.2"/><circle cx="431.8" cy="608.4" r="2.2"/></g><path d="M30.9,549.1H432.2M30.9,543.6V554.4M432.2,543.6V554.4" stroke="#000" stroke-width="2.6" stroke-linecap="round" fill="none"/><path d="M439.5,560.3V733.8" stroke="#000" stroke-width="3.3" fill="none"/><path d="M434.6,560.3H444.7M434.6,733.8H444.7" stroke="#000" stroke-width="2.6" stroke-linecap="round" fill="none"/><g transform="translate(445.8,647) rotate(90)"><text x="0" y="0" font-size="12" font-weight="normal" font-style="normal" text-anchor="middle" fill="#111" >8 Sec</text></g>
</svg></body></html>
